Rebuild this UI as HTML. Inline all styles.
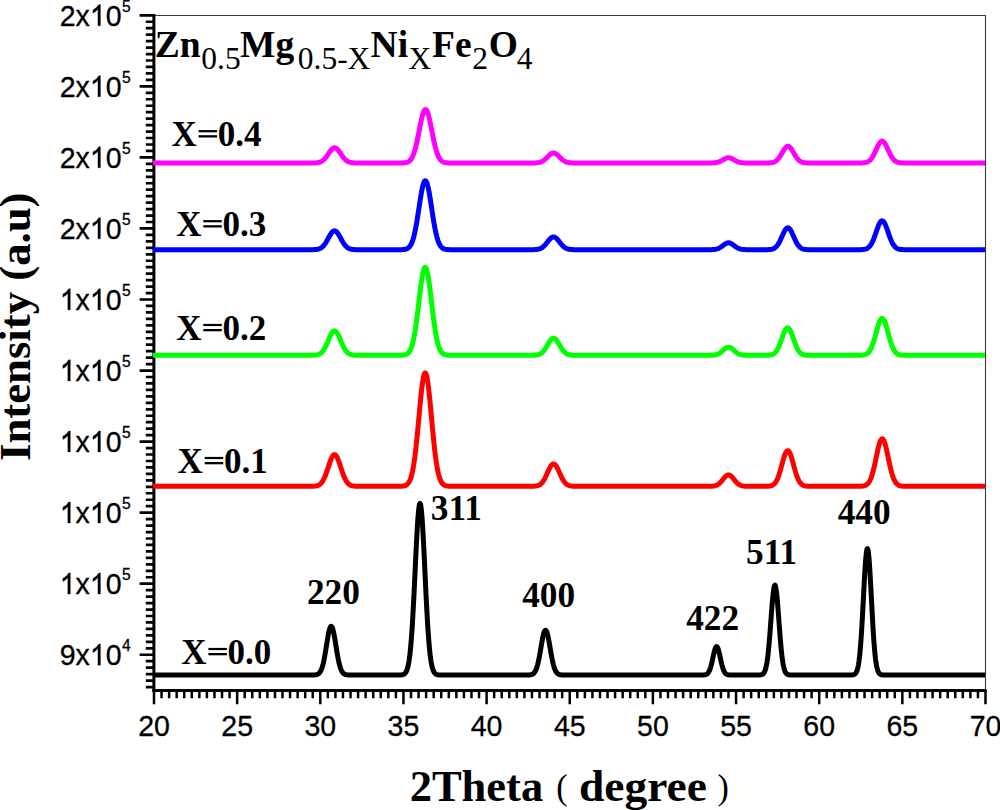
<!DOCTYPE html>
<html><head><meta charset="utf-8"><title>XRD</title><style>html,body{margin:0;padding:0;background:#fff;overflow:hidden}svg{display:block}</style></head><body>
<svg width="1000" height="810" viewBox="0 0 1000 810">
<rect width="1000" height="810" fill="#fff"/>
<path d="M154,15.5 H985.5 V690" fill="none" stroke="#3a3a3a" stroke-width="1.1"/>
<path d="M139.6,15.30H154 M145.8,21.76H154 M145.8,28.22H154 M145.8,34.68H154 M145.8,41.14H154 M145.8,47.60H154 M145.8,54.05H154 M145.8,60.51H154 M145.8,66.97H154 M145.8,73.43H154 M145.8,79.89H154 M139.6,86.35H154 M145.8,92.81H154 M145.8,99.27H154 M145.8,105.73H154 M145.8,112.19H154 M145.8,118.65H154 M145.8,125.10H154 M145.8,131.56H154 M145.8,138.02H154 M145.8,144.48H154 M145.8,150.94H154 M139.6,157.40H154 M145.8,163.86H154 M145.8,170.32H154 M145.8,176.78H154 M145.8,183.24H154 M145.8,189.70H154 M145.8,196.15H154 M145.8,202.61H154 M145.8,209.07H154 M145.8,215.53H154 M145.8,221.99H154 M139.6,228.45H154 M145.8,234.91H154 M145.8,241.37H154 M145.8,247.83H154 M145.8,254.29H154 M145.8,260.75H154 M145.8,267.20H154 M145.8,273.66H154 M145.8,280.12H154 M145.8,286.58H154 M145.8,293.04H154 M139.6,299.50H154 M145.8,305.96H154 M145.8,312.42H154 M145.8,318.88H154 M145.8,325.34H154 M145.8,331.80H154 M145.8,338.25H154 M145.8,344.71H154 M145.8,351.17H154 M145.8,357.63H154 M145.8,364.09H154 M139.6,370.55H154 M145.8,377.01H154 M145.8,383.47H154 M145.8,389.93H154 M145.8,396.39H154 M145.8,402.85H154 M145.8,409.30H154 M145.8,415.76H154 M145.8,422.22H154 M145.8,428.68H154 M145.8,435.14H154 M139.6,441.60H154 M145.8,448.06H154 M145.8,454.52H154 M145.8,460.98H154 M145.8,467.44H154 M145.8,473.90H154 M145.8,480.35H154 M145.8,486.81H154 M145.8,493.27H154 M145.8,499.73H154 M145.8,506.19H154 M139.6,512.65H154 M145.8,519.11H154 M145.8,525.57H154 M145.8,532.03H154 M145.8,538.49H154 M145.8,544.95H154 M145.8,551.40H154 M145.8,557.86H154 M145.8,564.32H154 M145.8,570.78H154 M145.8,577.24H154 M139.6,583.70H154 M145.8,590.16H154 M145.8,596.62H154 M145.8,603.08H154 M145.8,609.54H154 M145.8,616.00H154 M145.8,622.45H154 M145.8,628.91H154 M145.8,635.37H154 M145.8,641.83H154 M145.8,648.29H154 M139.6,654.75H154 M145.8,661.21H154 M145.8,667.67H154 M145.8,674.13H154 M145.8,680.59H154 M145.8,687.05H154" stroke="#000" stroke-width="2.7" fill="none"/>
<path d="M154.00,690V704.3 M161.56,690V698.2 M169.12,690V698.2 M176.68,690V698.2 M184.24,690V698.2 M191.80,690V698.2 M199.35,690V698.2 M206.91,690V698.2 M214.47,690V698.2 M222.03,690V698.2 M229.59,690V698.2 M237.15,690V704.3 M244.71,690V698.2 M252.27,690V698.2 M259.83,690V698.2 M267.39,690V698.2 M274.95,690V698.2 M282.50,690V698.2 M290.06,690V698.2 M297.62,690V698.2 M305.18,690V698.2 M312.74,690V698.2 M320.30,690V704.3 M327.86,690V698.2 M335.42,690V698.2 M342.98,690V698.2 M350.54,690V698.2 M358.10,690V698.2 M365.65,690V698.2 M373.21,690V698.2 M380.77,690V698.2 M388.33,690V698.2 M395.89,690V698.2 M403.45,690V704.3 M411.01,690V698.2 M418.57,690V698.2 M426.13,690V698.2 M433.69,690V698.2 M441.25,690V698.2 M448.80,690V698.2 M456.36,690V698.2 M463.92,690V698.2 M471.48,690V698.2 M479.04,690V698.2 M486.60,690V704.3 M494.16,690V698.2 M501.72,690V698.2 M509.28,690V698.2 M516.84,690V698.2 M524.40,690V698.2 M531.95,690V698.2 M539.51,690V698.2 M547.07,690V698.2 M554.63,690V698.2 M562.19,690V698.2 M569.75,690V704.3 M577.31,690V698.2 M584.87,690V698.2 M592.43,690V698.2 M599.99,690V698.2 M607.55,690V698.2 M615.10,690V698.2 M622.66,690V698.2 M630.22,690V698.2 M637.78,690V698.2 M645.34,690V698.2 M652.90,690V704.3 M660.46,690V698.2 M668.02,690V698.2 M675.58,690V698.2 M683.14,690V698.2 M690.70,690V698.2 M698.25,690V698.2 M705.81,690V698.2 M713.37,690V698.2 M720.93,690V698.2 M728.49,690V698.2 M736.05,690V704.3 M743.61,690V698.2 M751.17,690V698.2 M758.73,690V698.2 M766.29,690V698.2 M773.85,690V698.2 M781.40,690V698.2 M788.96,690V698.2 M796.52,690V698.2 M804.08,690V698.2 M811.64,690V698.2 M819.20,690V704.3 M826.76,690V698.2 M834.32,690V698.2 M841.88,690V698.2 M849.44,690V698.2 M857.00,690V698.2 M864.55,690V698.2 M872.11,690V698.2 M879.67,690V698.2 M887.23,690V698.2 M894.79,690V698.2 M902.35,690V704.3 M909.91,690V698.2 M917.47,690V698.2 M925.03,690V698.2 M932.59,690V698.2 M940.15,690V698.2 M947.70,690V698.2 M955.26,690V698.2 M962.82,690V698.2 M970.38,690V698.2 M977.94,690V698.2 M985.50,690V704.3" stroke="#000" stroke-width="2.5" fill="none"/>
<rect x="152.4" y="14" width="3" height="678" fill="#000"/>
<rect x="152.4" y="689" width="834" height="3" fill="#000"/>
<g fill="none" stroke-width="5.00" stroke-linejoin="round" stroke-linecap="butt">
<path d="M153.0,675.00 L153.5,675.00 L154.0,675.00 L154.5,675.00 L155.0,675.00 L155.5,675.00 L156.0,675.00 L156.5,675.00 L157.0,675.00 L157.5,675.00 L158.0,675.00 L158.5,675.00 L159.0,675.00 L159.5,675.00 L160.0,675.00 L160.5,675.00 L161.0,675.00 L161.5,675.00 L162.0,675.00 L162.5,675.00 L163.0,675.00 L163.5,675.00 L164.0,675.00 L164.5,675.00 L165.0,675.00 L165.5,675.00 L166.0,675.00 L166.5,675.00 L167.0,675.00 L167.5,675.00 L168.0,675.00 L168.5,675.00 L169.0,675.00 L169.5,675.00 L170.0,675.00 L170.5,675.00 L171.0,675.00 L171.5,675.00 L172.0,675.00 L172.5,675.00 L173.0,675.00 L173.5,675.00 L174.0,675.00 L174.5,675.00 L175.0,675.00 L175.5,675.00 L176.0,675.00 L176.5,675.00 L177.0,675.00 L177.5,675.00 L178.0,675.00 L178.5,675.00 L179.0,675.00 L179.5,675.00 L180.0,675.00 L180.5,675.00 L181.0,675.00 L181.5,675.00 L182.0,675.00 L182.5,675.00 L183.0,675.00 L183.5,675.00 L184.0,675.00 L184.5,675.00 L185.0,675.00 L185.5,675.00 L186.0,675.00 L186.5,675.00 L187.0,675.00 L187.5,675.00 L188.0,675.00 L188.5,675.00 L189.0,675.00 L189.5,675.00 L190.0,675.00 L190.5,675.00 L191.0,675.00 L191.5,675.00 L192.0,675.00 L192.5,675.00 L193.0,675.00 L193.5,675.00 L194.0,675.00 L194.5,675.00 L195.0,675.00 L195.5,675.00 L196.0,675.00 L196.5,675.00 L197.0,675.00 L197.5,675.00 L198.0,675.00 L198.5,675.00 L199.0,675.00 L199.5,675.00 L200.0,675.00 L200.5,675.00 L201.0,675.00 L201.5,675.00 L202.0,675.00 L202.5,675.00 L203.0,675.00 L203.5,675.00 L204.0,675.00 L204.5,675.00 L205.0,675.00 L205.5,675.00 L206.0,675.00 L206.5,675.00 L207.0,675.00 L207.5,675.00 L208.0,675.00 L208.5,675.00 L209.0,675.00 L209.5,675.00 L210.0,675.00 L210.5,675.00 L211.0,675.00 L211.5,675.00 L212.0,675.00 L212.5,675.00 L213.0,675.00 L213.5,675.00 L214.0,675.00 L214.5,675.00 L215.0,675.00 L215.5,675.00 L216.0,675.00 L216.5,675.00 L217.0,675.00 L217.5,675.00 L218.0,675.00 L218.5,675.00 L219.0,675.00 L219.5,675.00 L220.0,675.00 L220.5,675.00 L221.0,675.00 L221.5,675.00 L222.0,675.00 L222.5,675.00 L223.0,675.00 L223.5,675.00 L224.0,675.00 L224.5,675.00 L225.0,675.00 L225.5,675.00 L226.0,675.00 L226.5,675.00 L227.0,675.00 L227.5,675.00 L228.0,675.00 L228.5,675.00 L229.0,675.00 L229.5,675.00 L230.0,675.00 L230.5,675.00 L231.0,675.00 L231.5,675.00 L232.0,675.00 L232.5,675.00 L233.0,675.00 L233.5,675.00 L234.0,675.00 L234.5,675.00 L235.0,675.00 L235.5,675.00 L236.0,675.00 L236.5,675.00 L237.0,675.00 L237.5,675.00 L238.0,675.00 L238.5,675.00 L239.0,675.00 L239.5,675.00 L240.0,675.00 L240.5,675.00 L241.0,675.00 L241.5,675.00 L242.0,675.00 L242.5,675.00 L243.0,675.00 L243.5,675.00 L244.0,675.00 L244.5,675.00 L245.0,675.00 L245.5,675.00 L246.0,675.00 L246.5,675.00 L247.0,675.00 L247.5,675.00 L248.0,675.00 L248.5,675.00 L249.0,675.00 L249.5,675.00 L250.0,675.00 L250.5,675.00 L251.0,675.00 L251.5,675.00 L252.0,675.00 L252.5,675.00 L253.0,675.00 L253.5,675.00 L254.0,675.00 L254.5,675.00 L255.0,675.00 L255.5,675.00 L256.0,675.00 L256.5,675.00 L257.0,675.00 L257.5,675.00 L258.0,675.00 L258.5,675.00 L259.0,675.00 L259.5,675.00 L260.0,675.00 L260.5,675.00 L261.0,675.00 L261.5,675.00 L262.0,675.00 L262.5,675.00 L263.0,675.00 L263.5,675.00 L264.0,675.00 L264.5,675.00 L265.0,675.00 L265.5,675.00 L266.0,675.00 L266.5,675.00 L267.0,675.00 L267.5,675.00 L268.0,675.00 L268.5,675.00 L269.0,675.00 L269.5,675.00 L270.0,675.00 L270.5,675.00 L271.0,675.00 L271.5,675.00 L272.0,675.00 L272.5,675.00 L273.0,675.00 L273.5,675.00 L274.0,675.00 L274.5,675.00 L275.0,675.00 L275.5,675.00 L276.0,675.00 L276.5,675.00 L277.0,675.00 L277.5,675.00 L278.0,675.00 L278.5,675.00 L279.0,675.00 L279.5,675.00 L280.0,675.00 L280.5,675.00 L281.0,675.00 L281.5,675.00 L282.0,675.00 L282.5,675.00 L283.0,675.00 L283.5,675.00 L284.0,675.00 L284.5,675.00 L285.0,675.00 L285.5,675.00 L286.0,675.00 L286.5,675.00 L287.0,675.00 L287.5,675.00 L288.0,675.00 L288.5,675.00 L289.0,675.00 L289.5,675.00 L290.0,675.00 L290.5,675.00 L291.0,675.00 L291.5,675.00 L292.0,675.00 L292.5,675.00 L293.0,675.00 L293.5,675.00 L294.0,675.00 L294.5,675.00 L295.0,675.00 L295.5,675.00 L296.0,675.00 L296.5,675.00 L297.0,675.00 L297.5,675.00 L298.0,675.00 L298.5,675.00 L299.0,675.00 L299.5,675.00 L300.0,675.00 L300.5,675.00 L301.0,675.00 L301.5,675.00 L302.0,675.00 L302.5,675.00 L303.0,675.00 L303.5,675.00 L304.0,675.00 L304.5,675.00 L305.0,675.00 L305.5,675.00 L306.0,675.00 L306.5,675.00 L307.0,675.00 L307.5,675.00 L308.0,675.00 L308.5,675.00 L309.0,675.00 L309.5,675.00 L310.0,675.00 L310.5,675.00 L311.0,675.00 L311.5,674.99 L312.0,674.99 L312.5,674.98 L313.0,674.97 L313.5,674.96 L314.0,674.94 L314.5,674.91 L315.0,674.87 L315.5,674.82 L316.0,674.74 L316.5,674.63 L317.0,674.49 L317.5,674.30 L318.0,674.06 L318.5,673.74 L319.0,673.32 L319.5,672.80 L320.0,672.15 L320.5,671.35 L321.0,670.38 L321.5,669.21 L322.0,667.83 L322.5,666.22 L323.0,664.37 L323.5,662.27 L324.0,659.94 L324.5,657.37 L325.0,654.60 L325.5,651.66 L326.0,648.59 L326.5,645.46 L327.0,642.33 L327.5,639.28 L328.0,636.37 L328.5,633.71 L329.0,631.35 L329.5,629.38 L330.0,627.86 L330.5,626.84 L331.0,626.34 L331.5,626.40 L332.0,627.00 L332.5,628.13 L333.0,629.74 L333.5,631.80 L334.0,634.22 L334.5,636.94 L335.0,639.88 L335.5,642.95 L336.0,646.09 L336.5,649.21 L337.0,652.26 L337.5,655.17 L338.0,657.90 L338.5,660.42 L339.0,662.71 L339.5,664.76 L340.0,666.56 L340.5,668.12 L341.0,669.46 L341.5,670.59 L342.0,671.53 L342.5,672.29 L343.0,672.92 L343.5,673.41 L344.0,673.81 L344.5,674.11 L345.0,674.35 L345.5,674.52 L346.0,674.66 L346.5,674.76 L347.0,674.83 L347.5,674.88 L348.0,674.92 L348.5,674.94 L349.0,674.96 L349.5,674.98 L350.0,674.98 L350.5,674.99 L351.0,674.99 L351.5,675.00 L352.0,675.00 L352.5,675.00 L353.0,675.00 L353.5,675.00 L354.0,675.00 L354.5,675.00 L355.0,675.00 L355.5,675.00 L356.0,675.00 L356.5,675.00 L357.0,675.00 L357.5,675.00 L358.0,675.00 L358.5,675.00 L359.0,675.00 L359.5,675.00 L360.0,675.00 L360.5,675.00 L361.0,675.00 L361.5,675.00 L362.0,675.00 L362.5,675.00 L363.0,675.00 L363.5,675.00 L364.0,675.00 L364.5,675.00 L365.0,675.00 L365.5,675.00 L366.0,675.00 L366.5,675.00 L367.0,675.00 L367.5,675.00 L368.0,675.00 L368.5,675.00 L369.0,675.00 L369.5,675.00 L370.0,675.00 L370.5,675.00 L371.0,675.00 L371.5,675.00 L372.0,675.00 L372.5,675.00 L373.0,675.00 L373.5,675.00 L374.0,675.00 L374.5,675.00 L375.0,675.00 L375.5,675.00 L376.0,675.00 L376.5,675.00 L377.0,675.00 L377.5,675.00 L378.0,675.00 L378.5,675.00 L379.0,675.00 L379.5,675.00 L380.0,675.00 L380.5,675.00 L381.0,675.00 L381.5,675.00 L382.0,675.00 L382.5,675.00 L383.0,675.00 L383.5,675.00 L384.0,675.00 L384.5,675.00 L385.0,675.00 L385.5,675.00 L386.0,675.00 L386.5,675.00 L387.0,675.00 L387.5,675.00 L388.0,675.00 L388.5,675.00 L389.0,675.00 L389.5,675.00 L390.0,675.00 L390.5,675.00 L391.0,675.00 L391.5,675.00 L392.0,675.00 L392.5,675.00 L393.0,675.00 L393.5,675.00 L394.0,675.00 L394.5,675.00 L395.0,675.00 L395.5,675.00 L396.0,675.00 L396.5,675.00 L397.0,675.00 L397.5,675.00 L398.0,674.99 L398.5,674.99 L399.0,674.98 L399.5,674.97 L400.0,674.96 L400.5,674.94 L401.0,674.91 L401.5,674.86 L402.0,674.80 L402.5,674.71 L403.0,674.58 L403.5,674.41 L404.0,674.17 L404.5,673.85 L405.0,673.42 L405.5,672.85 L406.0,672.10 L406.5,671.14 L407.0,669.92 L407.5,668.37 L408.0,666.45 L408.5,664.07 L409.0,661.19 L409.5,657.73 L410.0,653.61 L410.5,648.80 L411.0,643.23 L411.5,636.89 L412.0,629.74 L412.5,621.81 L413.0,613.15 L413.5,603.81 L414.0,593.92 L414.5,583.60 L415.0,573.04 L415.5,562.44 L416.0,552.03 L416.5,542.04 L417.0,532.73 L417.5,524.34 L418.0,517.11 L418.5,511.25 L419.0,506.94 L419.5,504.29 L420.0,503.40 L420.5,504.29 L421.0,506.94 L421.5,511.25 L422.0,517.11 L422.5,524.34 L423.0,532.73 L423.5,542.04 L424.0,552.03 L424.5,562.44 L425.0,573.04 L425.5,583.60 L426.0,593.92 L426.5,603.81 L427.0,613.15 L427.5,621.81 L428.0,629.74 L428.5,636.89 L429.0,643.23 L429.5,648.80 L430.0,653.61 L430.5,657.73 L431.0,661.19 L431.5,664.07 L432.0,666.45 L432.5,668.37 L433.0,669.92 L433.5,671.14 L434.0,672.10 L434.5,672.85 L435.0,673.42 L435.5,673.85 L436.0,674.17 L436.5,674.41 L437.0,674.58 L437.5,674.71 L438.0,674.80 L438.5,674.86 L439.0,674.91 L439.5,674.94 L440.0,674.96 L440.5,674.97 L441.0,674.98 L441.5,674.99 L442.0,674.99 L442.5,675.00 L443.0,675.00 L443.5,675.00 L444.0,675.00 L444.5,675.00 L445.0,675.00 L445.5,675.00 L446.0,675.00 L446.5,675.00 L447.0,675.00 L447.5,675.00 L448.0,675.00 L448.5,675.00 L449.0,675.00 L449.5,675.00 L450.0,675.00 L450.5,675.00 L451.0,675.00 L451.5,675.00 L452.0,675.00 L452.5,675.00 L453.0,675.00 L453.5,675.00 L454.0,675.00 L454.5,675.00 L455.0,675.00 L455.5,675.00 L456.0,675.00 L456.5,675.00 L457.0,675.00 L457.5,675.00 L458.0,675.00 L458.5,675.00 L459.0,675.00 L459.5,675.00 L460.0,675.00 L460.5,675.00 L461.0,675.00 L461.5,675.00 L462.0,675.00 L462.5,675.00 L463.0,675.00 L463.5,675.00 L464.0,675.00 L464.5,675.00 L465.0,675.00 L465.5,675.00 L466.0,675.00 L466.5,675.00 L467.0,675.00 L467.5,675.00 L468.0,675.00 L468.5,675.00 L469.0,675.00 L469.5,675.00 L470.0,675.00 L470.5,675.00 L471.0,675.00 L471.5,675.00 L472.0,675.00 L472.5,675.00 L473.0,675.00 L473.5,675.00 L474.0,675.00 L474.5,675.00 L475.0,675.00 L475.5,675.00 L476.0,675.00 L476.5,675.00 L477.0,675.00 L477.5,675.00 L478.0,675.00 L478.5,675.00 L479.0,675.00 L479.5,675.00 L480.0,675.00 L480.5,675.00 L481.0,675.00 L481.5,675.00 L482.0,675.00 L482.5,675.00 L483.0,675.00 L483.5,675.00 L484.0,675.00 L484.5,675.00 L485.0,675.00 L485.5,675.00 L486.0,675.00 L486.5,675.00 L487.0,675.00 L487.5,675.00 L488.0,675.00 L488.5,675.00 L489.0,675.00 L489.5,675.00 L490.0,675.00 L490.5,675.00 L491.0,675.00 L491.5,675.00 L492.0,675.00 L492.5,675.00 L493.0,675.00 L493.5,675.00 L494.0,675.00 L494.5,675.00 L495.0,675.00 L495.5,675.00 L496.0,675.00 L496.5,675.00 L497.0,675.00 L497.5,675.00 L498.0,675.00 L498.5,675.00 L499.0,675.00 L499.5,675.00 L500.0,675.00 L500.5,675.00 L501.0,675.00 L501.5,675.00 L502.0,675.00 L502.5,675.00 L503.0,675.00 L503.5,675.00 L504.0,675.00 L504.5,675.00 L505.0,675.00 L505.5,675.00 L506.0,675.00 L506.5,675.00 L507.0,675.00 L507.5,675.00 L508.0,675.00 L508.5,675.00 L509.0,675.00 L509.5,675.00 L510.0,675.00 L510.5,675.00 L511.0,675.00 L511.5,675.00 L512.0,675.00 L512.5,675.00 L513.0,675.00 L513.5,675.00 L514.0,675.00 L514.5,675.00 L515.0,675.00 L515.5,675.00 L516.0,675.00 L516.5,675.00 L517.0,675.00 L517.5,675.00 L518.0,675.00 L518.5,675.00 L519.0,675.00 L519.5,675.00 L520.0,675.00 L520.5,675.00 L521.0,675.00 L521.5,675.00 L522.0,675.00 L522.5,675.00 L523.0,675.00 L523.5,675.00 L524.0,675.00 L524.5,675.00 L525.0,675.00 L525.5,675.00 L526.0,674.99 L526.5,674.99 L527.0,674.99 L527.5,674.98 L528.0,674.97 L528.5,674.95 L529.0,674.93 L529.5,674.89 L530.0,674.85 L530.5,674.78 L531.0,674.69 L531.5,674.56 L532.0,674.40 L532.5,674.17 L533.0,673.88 L533.5,673.51 L534.0,673.03 L534.5,672.43 L535.0,671.69 L535.5,670.78 L536.0,669.69 L536.5,668.39 L537.0,666.87 L537.5,665.13 L538.0,663.14 L538.5,660.93 L539.0,658.49 L539.5,655.86 L540.0,653.08 L540.5,650.18 L541.0,647.24 L541.5,644.30 L542.0,641.46 L542.5,638.78 L543.0,636.35 L543.5,634.24 L544.0,632.52 L544.5,631.25 L545.0,630.46 L545.5,630.20 L546.0,630.46 L546.5,631.25 L547.0,632.52 L547.5,634.24 L548.0,636.35 L548.5,638.78 L549.0,641.46 L549.5,644.30 L550.0,647.24 L550.5,650.18 L551.0,653.08 L551.5,655.86 L552.0,658.49 L552.5,660.93 L553.0,663.14 L553.5,665.13 L554.0,666.87 L554.5,668.39 L555.0,669.69 L555.5,670.78 L556.0,671.69 L556.5,672.43 L557.0,673.03 L557.5,673.51 L558.0,673.88 L558.5,674.17 L559.0,674.40 L559.5,674.56 L560.0,674.69 L560.5,674.78 L561.0,674.85 L561.5,674.89 L562.0,674.93 L562.5,674.95 L563.0,674.97 L563.5,674.98 L564.0,674.99 L564.5,674.99 L565.0,674.99 L565.5,675.00 L566.0,675.00 L566.5,675.00 L567.0,675.00 L567.5,675.00 L568.0,675.00 L568.5,675.00 L569.0,675.00 L569.5,675.00 L570.0,675.00 L570.5,675.00 L571.0,675.00 L571.5,675.00 L572.0,675.00 L572.5,675.00 L573.0,675.00 L573.5,675.00 L574.0,675.00 L574.5,675.00 L575.0,675.00 L575.5,675.00 L576.0,675.00 L576.5,675.00 L577.0,675.00 L577.5,675.00 L578.0,675.00 L578.5,675.00 L579.0,675.00 L579.5,675.00 L580.0,675.00 L580.5,675.00 L581.0,675.00 L581.5,675.00 L582.0,675.00 L582.5,675.00 L583.0,675.00 L583.5,675.00 L584.0,675.00 L584.5,675.00 L585.0,675.00 L585.5,675.00 L586.0,675.00 L586.5,675.00 L587.0,675.00 L587.5,675.00 L588.0,675.00 L588.5,675.00 L589.0,675.00 L589.5,675.00 L590.0,675.00 L590.5,675.00 L591.0,675.00 L591.5,675.00 L592.0,675.00 L592.5,675.00 L593.0,675.00 L593.5,675.00 L594.0,675.00 L594.5,675.00 L595.0,675.00 L595.5,675.00 L596.0,675.00 L596.5,675.00 L597.0,675.00 L597.5,675.00 L598.0,675.00 L598.5,675.00 L599.0,675.00 L599.5,675.00 L600.0,675.00 L600.5,675.00 L601.0,675.00 L601.5,675.00 L602.0,675.00 L602.5,675.00 L603.0,675.00 L603.5,675.00 L604.0,675.00 L604.5,675.00 L605.0,675.00 L605.5,675.00 L606.0,675.00 L606.5,675.00 L607.0,675.00 L607.5,675.00 L608.0,675.00 L608.5,675.00 L609.0,675.00 L609.5,675.00 L610.0,675.00 L610.5,675.00 L611.0,675.00 L611.5,675.00 L612.0,675.00 L612.5,675.00 L613.0,675.00 L613.5,675.00 L614.0,675.00 L614.5,675.00 L615.0,675.00 L615.5,675.00 L616.0,675.00 L616.5,675.00 L617.0,675.00 L617.5,675.00 L618.0,675.00 L618.5,675.00 L619.0,675.00 L619.5,675.00 L620.0,675.00 L620.5,675.00 L621.0,675.00 L621.5,675.00 L622.0,675.00 L622.5,675.00 L623.0,675.00 L623.5,675.00 L624.0,675.00 L624.5,675.00 L625.0,675.00 L625.5,675.00 L626.0,675.00 L626.5,675.00 L627.0,675.00 L627.5,675.00 L628.0,675.00 L628.5,675.00 L629.0,675.00 L629.5,675.00 L630.0,675.00 L630.5,675.00 L631.0,675.00 L631.5,675.00 L632.0,675.00 L632.5,675.00 L633.0,675.00 L633.5,675.00 L634.0,675.00 L634.5,675.00 L635.0,675.00 L635.5,675.00 L636.0,675.00 L636.5,675.00 L637.0,675.00 L637.5,675.00 L638.0,675.00 L638.5,675.00 L639.0,675.00 L639.5,675.00 L640.0,675.00 L640.5,675.00 L641.0,675.00 L641.5,675.00 L642.0,675.00 L642.5,675.00 L643.0,675.00 L643.5,675.00 L644.0,675.00 L644.5,675.00 L645.0,675.00 L645.5,675.00 L646.0,675.00 L646.5,675.00 L647.0,675.00 L647.5,675.00 L648.0,675.00 L648.5,675.00 L649.0,675.00 L649.5,675.00 L650.0,675.00 L650.5,675.00 L651.0,675.00 L651.5,675.00 L652.0,675.00 L652.5,675.00 L653.0,675.00 L653.5,675.00 L654.0,675.00 L654.5,675.00 L655.0,675.00 L655.5,675.00 L656.0,675.00 L656.5,675.00 L657.0,675.00 L657.5,675.00 L658.0,675.00 L658.5,675.00 L659.0,675.00 L659.5,675.00 L660.0,675.00 L660.5,675.00 L661.0,675.00 L661.5,675.00 L662.0,675.00 L662.5,675.00 L663.0,675.00 L663.5,675.00 L664.0,675.00 L664.5,675.00 L665.0,675.00 L665.5,675.00 L666.0,675.00 L666.5,675.00 L667.0,675.00 L667.5,675.00 L668.0,675.00 L668.5,675.00 L669.0,675.00 L669.5,675.00 L670.0,675.00 L670.5,675.00 L671.0,675.00 L671.5,675.00 L672.0,675.00 L672.5,675.00 L673.0,675.00 L673.5,675.00 L674.0,675.00 L674.5,675.00 L675.0,675.00 L675.5,675.00 L676.0,675.00 L676.5,675.00 L677.0,675.00 L677.5,675.00 L678.0,675.00 L678.5,675.00 L679.0,675.00 L679.5,675.00 L680.0,675.00 L680.5,675.00 L681.0,675.00 L681.5,675.00 L682.0,675.00 L682.5,675.00 L683.0,675.00 L683.5,675.00 L684.0,675.00 L684.5,675.00 L685.0,675.00 L685.5,675.00 L686.0,675.00 L686.5,675.00 L687.0,675.00 L687.5,675.00 L688.0,675.00 L688.5,675.00 L689.0,675.00 L689.5,675.00 L690.0,675.00 L690.5,675.00 L691.0,675.00 L691.5,675.00 L692.0,675.00 L692.5,675.00 L693.0,675.00 L693.5,675.00 L694.0,675.00 L694.5,675.00 L695.0,675.00 L695.5,675.00 L696.0,675.00 L696.5,675.00 L697.0,675.00 L697.5,675.00 L698.0,675.00 L698.5,675.00 L699.0,675.00 L699.5,675.00 L700.0,675.00 L700.5,675.00 L701.0,675.00 L701.5,674.99 L702.0,674.99 L702.5,674.98 L703.0,674.97 L703.5,674.95 L704.0,674.91 L704.5,674.86 L705.0,674.79 L705.5,674.68 L706.0,674.53 L706.5,674.32 L707.0,674.02 L707.5,673.62 L708.0,673.09 L708.5,672.41 L709.0,671.56 L709.5,670.49 L710.0,669.21 L710.5,667.70 L711.0,665.97 L711.5,664.02 L712.0,661.89 L712.5,659.63 L713.0,657.31 L713.5,655.01 L714.0,652.81 L714.5,650.82 L715.0,649.14 L715.5,647.83 L716.0,646.97 L716.5,646.61 L717.0,646.77 L717.5,647.43 L718.0,648.56 L718.5,650.11 L719.0,651.99 L719.5,654.11 L720.0,656.38 L720.5,658.70 L721.0,661.00 L721.5,663.18 L722.0,665.21 L722.5,667.04 L723.0,668.64 L723.5,670.01 L724.0,671.16 L724.5,672.09 L725.0,672.84 L725.5,673.43 L726.0,673.87 L726.5,674.21 L727.0,674.45 L727.5,674.63 L728.0,674.75 L728.5,674.84 L729.0,674.90 L729.5,674.93 L730.0,674.96 L730.5,674.98 L731.0,674.99 L731.5,674.99 L732.0,675.00 L732.5,675.00 L733.0,675.00 L733.5,675.00 L734.0,675.00 L734.5,675.00 L735.0,675.00 L735.5,675.00 L736.0,675.00 L736.5,675.00 L737.0,675.00 L737.5,675.00 L738.0,675.00 L738.5,675.00 L739.0,675.00 L739.5,675.00 L740.0,675.00 L740.5,675.00 L741.0,675.00 L741.5,675.00 L742.0,675.00 L742.5,675.00 L743.0,675.00 L743.5,675.00 L744.0,675.00 L744.5,675.00 L745.0,675.00 L745.5,675.00 L746.0,675.00 L746.5,675.00 L747.0,675.00 L747.5,675.00 L748.0,675.00 L748.5,675.00 L749.0,675.00 L749.5,675.00 L750.0,675.00 L750.5,675.00 L751.0,675.00 L751.5,675.00 L752.0,675.00 L752.5,675.00 L753.0,675.00 L753.5,675.00 L754.0,675.00 L754.5,675.00 L755.0,675.00 L755.5,675.00 L756.0,675.00 L756.5,675.00 L757.0,675.00 L757.5,674.99 L758.0,674.99 L758.5,674.98 L759.0,674.97 L759.5,674.95 L760.0,674.91 L760.5,674.86 L761.0,674.79 L761.5,674.67 L762.0,674.50 L762.5,674.26 L763.0,673.93 L763.5,673.45 L764.0,672.81 L764.5,671.94 L765.0,670.80 L765.5,669.32 L766.0,667.44 L766.5,665.10 L767.0,662.23 L767.5,658.78 L768.0,654.72 L768.5,650.03 L769.0,644.74 L769.5,638.90 L770.0,632.59 L770.5,625.96 L771.0,619.17 L771.5,612.43 L772.0,605.95 L772.5,599.99 L773.0,594.78 L773.5,590.54 L774.0,587.44 L774.5,585.65 L775.0,585.23 L775.5,586.20 L776.0,588.53 L776.5,592.10 L777.0,596.76 L777.5,602.30 L778.0,608.50 L778.5,615.11 L779.0,621.89 L779.5,628.64 L780.0,635.16 L780.5,641.30 L781.0,646.93 L781.5,651.98 L782.0,656.42 L782.5,660.23 L783.0,663.44 L783.5,666.10 L784.0,668.25 L784.5,669.96 L785.0,671.29 L785.5,672.32 L786.0,673.09 L786.5,673.66 L787.0,674.07 L787.5,674.37 L788.0,674.58 L788.5,674.72 L789.0,674.82 L789.5,674.89 L790.0,674.93 L790.5,674.96 L791.0,674.97 L791.5,674.98 L792.0,674.99 L792.5,674.99 L793.0,675.00 L793.5,675.00 L794.0,675.00 L794.5,675.00 L795.0,675.00 L795.5,675.00 L796.0,675.00 L796.5,675.00 L797.0,675.00 L797.5,675.00 L798.0,675.00 L798.5,675.00 L799.0,675.00 L799.5,675.00 L800.0,675.00 L800.5,675.00 L801.0,675.00 L801.5,675.00 L802.0,675.00 L802.5,675.00 L803.0,675.00 L803.5,675.00 L804.0,675.00 L804.5,675.00 L805.0,675.00 L805.5,675.00 L806.0,675.00 L806.5,675.00 L807.0,675.00 L807.5,675.00 L808.0,675.00 L808.5,675.00 L809.0,675.00 L809.5,675.00 L810.0,675.00 L810.5,675.00 L811.0,675.00 L811.5,675.00 L812.0,675.00 L812.5,675.00 L813.0,675.00 L813.5,675.00 L814.0,675.00 L814.5,675.00 L815.0,675.00 L815.5,675.00 L816.0,675.00 L816.5,675.00 L817.0,675.00 L817.5,675.00 L818.0,675.00 L818.5,675.00 L819.0,675.00 L819.5,675.00 L820.0,675.00 L820.5,675.00 L821.0,675.00 L821.5,675.00 L822.0,675.00 L822.5,675.00 L823.0,675.00 L823.5,675.00 L824.0,675.00 L824.5,675.00 L825.0,675.00 L825.5,675.00 L826.0,675.00 L826.5,675.00 L827.0,675.00 L827.5,675.00 L828.0,675.00 L828.5,675.00 L829.0,675.00 L829.5,675.00 L830.0,675.00 L830.5,675.00 L831.0,675.00 L831.5,675.00 L832.0,675.00 L832.5,675.00 L833.0,675.00 L833.5,675.00 L834.0,675.00 L834.5,675.00 L835.0,675.00 L835.5,675.00 L836.0,675.00 L836.5,675.00 L837.0,675.00 L837.5,675.00 L838.0,675.00 L838.5,675.00 L839.0,675.00 L839.5,675.00 L840.0,675.00 L840.5,675.00 L841.0,675.00 L841.5,675.00 L842.0,675.00 L842.5,675.00 L843.0,675.00 L843.5,675.00 L844.0,675.00 L844.5,675.00 L845.0,675.00 L845.5,675.00 L846.0,675.00 L846.5,675.00 L847.0,675.00 L847.5,675.00 L848.0,675.00 L848.5,675.00 L849.0,675.00 L849.5,674.99 L850.0,674.99 L850.5,674.98 L851.0,674.97 L851.5,674.95 L852.0,674.92 L852.5,674.88 L853.0,674.81 L853.5,674.70 L854.0,674.54 L854.5,674.30 L855.0,673.96 L855.5,673.49 L856.0,672.82 L856.5,671.91 L857.0,670.69 L857.5,669.09 L858.0,667.00 L858.5,664.36 L859.0,661.05 L859.5,657.01 L860.0,652.15 L860.5,646.43 L861.0,639.83 L861.5,632.38 L862.0,624.14 L862.5,615.26 L863.0,605.92 L863.5,596.36 L864.0,586.85 L864.5,577.74 L865.0,569.34 L865.5,562.00 L866.0,556.02 L866.5,551.66 L867.0,549.13 L867.5,548.54 L868.0,549.92 L868.5,553.19 L869.0,558.23 L869.5,564.79 L870.0,572.59 L870.5,581.32 L871.0,590.63 L871.5,600.19 L872.0,609.70 L872.5,618.88 L873.0,627.52 L873.5,635.46 L874.0,642.57 L874.5,648.82 L875.0,654.19 L875.5,658.72 L876.0,662.46 L876.5,665.49 L877.0,667.90 L877.5,669.78 L878.0,671.22 L878.5,672.31 L879.0,673.11 L879.5,673.70 L880.0,674.11 L880.5,674.41 L881.0,674.61 L881.5,674.75 L882.0,674.84 L882.5,674.90 L883.0,674.94 L883.5,674.96 L884.0,674.98 L884.5,674.99 L885.0,674.99 L885.5,675.00 L886.0,675.00 L886.5,675.00 L887.0,675.00 L887.5,675.00 L888.0,675.00 L888.5,675.00 L889.0,675.00 L889.5,675.00 L890.0,675.00 L890.5,675.00 L891.0,675.00 L891.5,675.00 L892.0,675.00 L892.5,675.00 L893.0,675.00 L893.5,675.00 L894.0,675.00 L894.5,675.00 L895.0,675.00 L895.5,675.00 L896.0,675.00 L896.5,675.00 L897.0,675.00 L897.5,675.00 L898.0,675.00 L898.5,675.00 L899.0,675.00 L899.5,675.00 L900.0,675.00 L900.5,675.00 L901.0,675.00 L901.5,675.00 L902.0,675.00 L902.5,675.00 L903.0,675.00 L903.5,675.00 L904.0,675.00 L904.5,675.00 L905.0,675.00 L905.5,675.00 L906.0,675.00 L906.5,675.00 L907.0,675.00 L907.5,675.00 L908.0,675.00 L908.5,675.00 L909.0,675.00 L909.5,675.00 L910.0,675.00 L910.5,675.00 L911.0,675.00 L911.5,675.00 L912.0,675.00 L912.5,675.00 L913.0,675.00 L913.5,675.00 L914.0,675.00 L914.5,675.00 L915.0,675.00 L915.5,675.00 L916.0,675.00 L916.5,675.00 L917.0,675.00 L917.5,675.00 L918.0,675.00 L918.5,675.00 L919.0,675.00 L919.5,675.00 L920.0,675.00 L920.5,675.00 L921.0,675.00 L921.5,675.00 L922.0,675.00 L922.5,675.00 L923.0,675.00 L923.5,675.00 L924.0,675.00 L924.5,675.00 L925.0,675.00 L925.5,675.00 L926.0,675.00 L926.5,675.00 L927.0,675.00 L927.5,675.00 L928.0,675.00 L928.5,675.00 L929.0,675.00 L929.5,675.00 L930.0,675.00 L930.5,675.00 L931.0,675.00 L931.5,675.00 L932.0,675.00 L932.5,675.00 L933.0,675.00 L933.5,675.00 L934.0,675.00 L934.5,675.00 L935.0,675.00 L935.5,675.00 L936.0,675.00 L936.5,675.00 L937.0,675.00 L937.5,675.00 L938.0,675.00 L938.5,675.00 L939.0,675.00 L939.5,675.00 L940.0,675.00 L940.5,675.00 L941.0,675.00 L941.5,675.00 L942.0,675.00 L942.5,675.00 L943.0,675.00 L943.5,675.00 L944.0,675.00 L944.5,675.00 L945.0,675.00 L945.5,675.00 L946.0,675.00 L946.5,675.00 L947.0,675.00 L947.5,675.00 L948.0,675.00 L948.5,675.00 L949.0,675.00 L949.5,675.00 L950.0,675.00 L950.5,675.00 L951.0,675.00 L951.5,675.00 L952.0,675.00 L952.5,675.00 L953.0,675.00 L953.5,675.00 L954.0,675.00 L954.5,675.00 L955.0,675.00 L955.5,675.00 L956.0,675.00 L956.5,675.00 L957.0,675.00 L957.5,675.00 L958.0,675.00 L958.5,675.00 L959.0,675.00 L959.5,675.00 L960.0,675.00 L960.5,675.00 L961.0,675.00 L961.5,675.00 L962.0,675.00 L962.5,675.00 L963.0,675.00 L963.5,675.00 L964.0,675.00 L964.5,675.00 L965.0,675.00 L965.5,675.00 L966.0,675.00 L966.5,675.00 L967.0,675.00 L967.5,675.00 L968.0,675.00 L968.5,675.00 L969.0,675.00 L969.5,675.00 L970.0,675.00 L970.5,675.00 L971.0,675.00 L971.5,675.00 L972.0,675.00 L972.5,675.00 L973.0,675.00 L973.5,675.00 L974.0,675.00 L974.5,675.00 L975.0,675.00 L975.5,675.00 L976.0,675.00 L976.5,675.00 L977.0,675.00 L977.5,675.00 L978.0,675.00 L978.5,675.00 L979.0,675.00 L979.5,675.00 L980.0,675.00 L980.5,675.00 L981.0,675.00 L981.5,675.00 L982.0,675.00 L982.5,675.00 L983.0,675.00 L983.5,675.00 L984.0,675.00 L984.5,675.00 L985.0,675.00" stroke="#000000"/>
<path d="M153.0,486.30 L153.5,486.30 L154.0,486.30 L154.5,486.30 L155.0,486.30 L155.5,486.30 L156.0,486.30 L156.5,486.30 L157.0,486.30 L157.5,486.30 L158.0,486.30 L158.5,486.30 L159.0,486.30 L159.5,486.30 L160.0,486.30 L160.5,486.30 L161.0,486.30 L161.5,486.30 L162.0,486.30 L162.5,486.30 L163.0,486.30 L163.5,486.30 L164.0,486.30 L164.5,486.30 L165.0,486.30 L165.5,486.30 L166.0,486.30 L166.5,486.30 L167.0,486.30 L167.5,486.30 L168.0,486.30 L168.5,486.30 L169.0,486.30 L169.5,486.30 L170.0,486.30 L170.5,486.30 L171.0,486.30 L171.5,486.30 L172.0,486.30 L172.5,486.30 L173.0,486.30 L173.5,486.30 L174.0,486.30 L174.5,486.30 L175.0,486.30 L175.5,486.30 L176.0,486.30 L176.5,486.30 L177.0,486.30 L177.5,486.30 L178.0,486.30 L178.5,486.30 L179.0,486.30 L179.5,486.30 L180.0,486.30 L180.5,486.30 L181.0,486.30 L181.5,486.30 L182.0,486.30 L182.5,486.30 L183.0,486.30 L183.5,486.30 L184.0,486.30 L184.5,486.30 L185.0,486.30 L185.5,486.30 L186.0,486.30 L186.5,486.30 L187.0,486.30 L187.5,486.30 L188.0,486.30 L188.5,486.30 L189.0,486.30 L189.5,486.30 L190.0,486.30 L190.5,486.30 L191.0,486.30 L191.5,486.30 L192.0,486.30 L192.5,486.30 L193.0,486.30 L193.5,486.30 L194.0,486.30 L194.5,486.30 L195.0,486.30 L195.5,486.30 L196.0,486.30 L196.5,486.30 L197.0,486.30 L197.5,486.30 L198.0,486.30 L198.5,486.30 L199.0,486.30 L199.5,486.30 L200.0,486.30 L200.5,486.30 L201.0,486.30 L201.5,486.30 L202.0,486.30 L202.5,486.30 L203.0,486.30 L203.5,486.30 L204.0,486.30 L204.5,486.30 L205.0,486.30 L205.5,486.30 L206.0,486.30 L206.5,486.30 L207.0,486.30 L207.5,486.30 L208.0,486.30 L208.5,486.30 L209.0,486.30 L209.5,486.30 L210.0,486.30 L210.5,486.30 L211.0,486.30 L211.5,486.30 L212.0,486.30 L212.5,486.30 L213.0,486.30 L213.5,486.30 L214.0,486.30 L214.5,486.30 L215.0,486.30 L215.5,486.30 L216.0,486.30 L216.5,486.30 L217.0,486.30 L217.5,486.30 L218.0,486.30 L218.5,486.30 L219.0,486.30 L219.5,486.30 L220.0,486.30 L220.5,486.30 L221.0,486.30 L221.5,486.30 L222.0,486.30 L222.5,486.30 L223.0,486.30 L223.5,486.30 L224.0,486.30 L224.5,486.30 L225.0,486.30 L225.5,486.30 L226.0,486.30 L226.5,486.30 L227.0,486.30 L227.5,486.30 L228.0,486.30 L228.5,486.30 L229.0,486.30 L229.5,486.30 L230.0,486.30 L230.5,486.30 L231.0,486.30 L231.5,486.30 L232.0,486.30 L232.5,486.30 L233.0,486.30 L233.5,486.30 L234.0,486.30 L234.5,486.30 L235.0,486.30 L235.5,486.30 L236.0,486.30 L236.5,486.30 L237.0,486.30 L237.5,486.30 L238.0,486.30 L238.5,486.30 L239.0,486.30 L239.5,486.30 L240.0,486.30 L240.5,486.30 L241.0,486.30 L241.5,486.30 L242.0,486.30 L242.5,486.30 L243.0,486.30 L243.5,486.30 L244.0,486.30 L244.5,486.30 L245.0,486.30 L245.5,486.30 L246.0,486.30 L246.5,486.30 L247.0,486.30 L247.5,486.30 L248.0,486.30 L248.5,486.30 L249.0,486.30 L249.5,486.30 L250.0,486.30 L250.5,486.30 L251.0,486.30 L251.5,486.30 L252.0,486.30 L252.5,486.30 L253.0,486.30 L253.5,486.30 L254.0,486.30 L254.5,486.30 L255.0,486.30 L255.5,486.30 L256.0,486.30 L256.5,486.30 L257.0,486.30 L257.5,486.30 L258.0,486.30 L258.5,486.30 L259.0,486.30 L259.5,486.30 L260.0,486.30 L260.5,486.30 L261.0,486.30 L261.5,486.30 L262.0,486.30 L262.5,486.30 L263.0,486.30 L263.5,486.30 L264.0,486.30 L264.5,486.30 L265.0,486.30 L265.5,486.30 L266.0,486.30 L266.5,486.30 L267.0,486.30 L267.5,486.30 L268.0,486.30 L268.5,486.30 L269.0,486.30 L269.5,486.30 L270.0,486.30 L270.5,486.30 L271.0,486.30 L271.5,486.30 L272.0,486.30 L272.5,486.30 L273.0,486.30 L273.5,486.30 L274.0,486.30 L274.5,486.30 L275.0,486.30 L275.5,486.30 L276.0,486.30 L276.5,486.30 L277.0,486.30 L277.5,486.30 L278.0,486.30 L278.5,486.30 L279.0,486.30 L279.5,486.30 L280.0,486.30 L280.5,486.30 L281.0,486.30 L281.5,486.30 L282.0,486.30 L282.5,486.30 L283.0,486.30 L283.5,486.30 L284.0,486.30 L284.5,486.30 L285.0,486.30 L285.5,486.30 L286.0,486.30 L286.5,486.30 L287.0,486.30 L287.5,486.30 L288.0,486.30 L288.5,486.30 L289.0,486.30 L289.5,486.30 L290.0,486.30 L290.5,486.30 L291.0,486.30 L291.5,486.30 L292.0,486.30 L292.5,486.30 L293.0,486.30 L293.5,486.30 L294.0,486.30 L294.5,486.30 L295.0,486.30 L295.5,486.30 L296.0,486.30 L296.5,486.30 L297.0,486.30 L297.5,486.30 L298.0,486.30 L298.5,486.30 L299.0,486.30 L299.5,486.30 L300.0,486.30 L300.5,486.30 L301.0,486.30 L301.5,486.30 L302.0,486.30 L302.5,486.30 L303.0,486.30 L303.5,486.30 L304.0,486.30 L304.5,486.30 L305.0,486.30 L305.5,486.30 L306.0,486.30 L306.5,486.30 L307.0,486.30 L307.5,486.30 L308.0,486.30 L308.5,486.30 L309.0,486.29 L309.5,486.29 L310.0,486.29 L310.5,486.28 L311.0,486.28 L311.5,486.27 L312.0,486.26 L312.5,486.24 L313.0,486.22 L313.5,486.20 L314.0,486.17 L314.5,486.13 L315.0,486.07 L315.5,486.01 L316.0,485.93 L316.5,485.83 L317.0,485.71 L317.5,485.56 L318.0,485.38 L318.5,485.17 L319.0,484.91 L319.5,484.60 L320.0,484.24 L320.5,483.82 L321.0,483.34 L321.5,482.78 L322.0,482.15 L322.5,481.43 L323.0,480.62 L323.5,479.73 L324.0,478.74 L324.5,477.67 L325.0,476.50 L325.5,475.25 L326.0,473.91 L326.5,472.51 L327.0,471.05 L327.5,469.54 L328.0,468.00 L328.5,466.45 L329.0,464.91 L329.5,463.40 L330.0,461.94 L330.5,460.56 L331.0,459.27 L331.5,458.10 L332.0,457.08 L332.5,456.21 L333.0,455.51 L333.5,455.01 L334.0,454.70 L334.5,454.60 L335.0,454.70 L335.5,455.01 L336.0,455.51 L336.5,456.21 L337.0,457.08 L337.5,458.10 L338.0,459.27 L338.5,460.56 L339.0,461.94 L339.5,463.40 L340.0,464.91 L340.5,466.45 L341.0,468.00 L341.5,469.54 L342.0,471.05 L342.5,472.51 L343.0,473.91 L343.5,475.25 L344.0,476.50 L344.5,477.67 L345.0,478.74 L345.5,479.73 L346.0,480.62 L346.5,481.43 L347.0,482.15 L347.5,482.78 L348.0,483.34 L348.5,483.82 L349.0,484.24 L349.5,484.60 L350.0,484.91 L350.5,485.17 L351.0,485.38 L351.5,485.56 L352.0,485.71 L352.5,485.83 L353.0,485.93 L353.5,486.01 L354.0,486.07 L354.5,486.13 L355.0,486.17 L355.5,486.20 L356.0,486.22 L356.5,486.24 L357.0,486.26 L357.5,486.27 L358.0,486.28 L358.5,486.28 L359.0,486.29 L359.5,486.29 L360.0,486.29 L360.5,486.30 L361.0,486.30 L361.5,486.30 L362.0,486.30 L362.5,486.30 L363.0,486.30 L363.5,486.30 L364.0,486.30 L364.5,486.30 L365.0,486.30 L365.5,486.30 L366.0,486.30 L366.5,486.30 L367.0,486.30 L367.5,486.30 L368.0,486.30 L368.5,486.30 L369.0,486.30 L369.5,486.30 L370.0,486.30 L370.5,486.30 L371.0,486.30 L371.5,486.30 L372.0,486.30 L372.5,486.30 L373.0,486.30 L373.5,486.30 L374.0,486.30 L374.5,486.30 L375.0,486.30 L375.5,486.30 L376.0,486.30 L376.5,486.30 L377.0,486.30 L377.5,486.30 L378.0,486.30 L378.5,486.30 L379.0,486.30 L379.5,486.30 L380.0,486.30 L380.5,486.30 L381.0,486.30 L381.5,486.30 L382.0,486.30 L382.5,486.30 L383.0,486.30 L383.5,486.30 L384.0,486.30 L384.5,486.30 L385.0,486.30 L385.5,486.30 L386.0,486.30 L386.5,486.30 L387.0,486.30 L387.5,486.30 L388.0,486.30 L388.5,486.30 L389.0,486.30 L389.5,486.30 L390.0,486.30 L390.5,486.30 L391.0,486.30 L391.5,486.30 L392.0,486.30 L392.5,486.30 L393.0,486.30 L393.5,486.30 L394.0,486.30 L394.5,486.30 L395.0,486.30 L395.5,486.30 L396.0,486.30 L396.5,486.30 L397.0,486.29 L397.5,486.29 L398.0,486.29 L398.5,486.29 L399.0,486.28 L399.5,486.27 L400.0,486.26 L400.5,486.25 L401.0,486.23 L401.5,486.20 L402.0,486.17 L402.5,486.13 L403.0,486.07 L403.5,486.00 L404.0,485.91 L404.5,485.79 L405.0,485.64 L405.5,485.45 L406.0,485.21 L406.5,484.92 L407.0,484.55 L407.5,484.11 L408.0,483.57 L408.5,482.92 L409.0,482.14 L409.5,481.22 L410.0,480.13 L410.5,478.85 L411.0,477.36 L411.5,475.64 L412.0,473.67 L412.5,471.43 L413.0,468.91 L413.5,466.08 L414.0,462.95 L414.5,459.49 L415.0,455.72 L415.5,451.64 L416.0,447.26 L416.5,442.60 L417.0,437.69 L417.5,432.57 L418.0,427.28 L418.5,421.88 L419.0,416.43 L419.5,410.99 L420.0,405.64 L420.5,400.45 L421.0,395.50 L421.5,390.86 L422.0,386.62 L422.5,382.85 L423.0,379.61 L423.5,376.95 L424.0,374.94 L424.5,373.60 L425.0,372.96 L425.5,373.03 L426.0,373.81 L426.5,375.29 L427.0,377.44 L427.5,380.21 L428.0,383.56 L428.5,387.44 L429.0,391.76 L429.5,396.46 L430.0,401.47 L430.5,406.70 L431.0,412.07 L431.5,417.52 L432.0,422.97 L432.5,428.35 L433.0,433.61 L433.5,438.69 L434.0,443.55 L434.5,448.16 L435.0,452.48 L435.5,456.50 L436.0,460.21 L436.5,463.60 L437.0,466.67 L437.5,469.44 L438.0,471.90 L438.5,474.09 L439.0,476.00 L439.5,477.67 L440.0,479.12 L440.5,480.36 L441.0,481.42 L441.5,482.31 L442.0,483.06 L442.5,483.69 L443.0,484.21 L443.5,484.63 L444.0,484.98 L444.5,485.26 L445.0,485.49 L445.5,485.67 L446.0,485.81 L446.5,485.93 L447.0,486.02 L447.5,486.08 L448.0,486.14 L448.5,486.18 L449.0,486.21 L449.5,486.23 L450.0,486.25 L450.5,486.26 L451.0,486.27 L451.5,486.28 L452.0,486.29 L452.5,486.29 L453.0,486.29 L453.5,486.30 L454.0,486.30 L454.5,486.30 L455.0,486.30 L455.5,486.30 L456.0,486.30 L456.5,486.30 L457.0,486.30 L457.5,486.30 L458.0,486.30 L458.5,486.30 L459.0,486.30 L459.5,486.30 L460.0,486.30 L460.5,486.30 L461.0,486.30 L461.5,486.30 L462.0,486.30 L462.5,486.30 L463.0,486.30 L463.5,486.30 L464.0,486.30 L464.5,486.30 L465.0,486.30 L465.5,486.30 L466.0,486.30 L466.5,486.30 L467.0,486.30 L467.5,486.30 L468.0,486.30 L468.5,486.30 L469.0,486.30 L469.5,486.30 L470.0,486.30 L470.5,486.30 L471.0,486.30 L471.5,486.30 L472.0,486.30 L472.5,486.30 L473.0,486.30 L473.5,486.30 L474.0,486.30 L474.5,486.30 L475.0,486.30 L475.5,486.30 L476.0,486.30 L476.5,486.30 L477.0,486.30 L477.5,486.30 L478.0,486.30 L478.5,486.30 L479.0,486.30 L479.5,486.30 L480.0,486.30 L480.5,486.30 L481.0,486.30 L481.5,486.30 L482.0,486.30 L482.5,486.30 L483.0,486.30 L483.5,486.30 L484.0,486.30 L484.5,486.30 L485.0,486.30 L485.5,486.30 L486.0,486.30 L486.5,486.30 L487.0,486.30 L487.5,486.30 L488.0,486.30 L488.5,486.30 L489.0,486.30 L489.5,486.30 L490.0,486.30 L490.5,486.30 L491.0,486.30 L491.5,486.30 L492.0,486.30 L492.5,486.30 L493.0,486.30 L493.5,486.30 L494.0,486.30 L494.5,486.30 L495.0,486.30 L495.5,486.30 L496.0,486.30 L496.5,486.30 L497.0,486.30 L497.5,486.30 L498.0,486.30 L498.5,486.30 L499.0,486.30 L499.5,486.30 L500.0,486.30 L500.5,486.30 L501.0,486.30 L501.5,486.30 L502.0,486.30 L502.5,486.30 L503.0,486.30 L503.5,486.30 L504.0,486.30 L504.5,486.30 L505.0,486.30 L505.5,486.30 L506.0,486.30 L506.5,486.30 L507.0,486.30 L507.5,486.30 L508.0,486.30 L508.5,486.30 L509.0,486.30 L509.5,486.30 L510.0,486.30 L510.5,486.30 L511.0,486.30 L511.5,486.30 L512.0,486.30 L512.5,486.30 L513.0,486.30 L513.5,486.30 L514.0,486.30 L514.5,486.30 L515.0,486.30 L515.5,486.30 L516.0,486.30 L516.5,486.30 L517.0,486.30 L517.5,486.30 L518.0,486.30 L518.5,486.30 L519.0,486.30 L519.5,486.30 L520.0,486.30 L520.5,486.30 L521.0,486.30 L521.5,486.30 L522.0,486.30 L522.5,486.30 L523.0,486.30 L523.5,486.30 L524.0,486.30 L524.5,486.30 L525.0,486.30 L525.5,486.30 L526.0,486.30 L526.5,486.30 L527.0,486.30 L527.5,486.30 L528.0,486.30 L528.5,486.30 L529.0,486.29 L529.5,486.29 L530.0,486.29 L530.5,486.29 L531.0,486.28 L531.5,486.27 L532.0,486.26 L532.5,486.25 L533.0,486.23 L533.5,486.21 L534.0,486.19 L534.5,486.15 L535.0,486.11 L535.5,486.05 L536.0,485.98 L536.5,485.90 L537.0,485.79 L537.5,485.66 L538.0,485.50 L538.5,485.32 L539.0,485.09 L539.5,484.83 L540.0,484.52 L540.5,484.16 L541.0,483.74 L541.5,483.27 L542.0,482.73 L542.5,482.13 L543.0,481.46 L543.5,480.71 L544.0,479.90 L544.5,479.03 L545.0,478.09 L545.5,477.09 L546.0,476.04 L546.5,474.96 L547.0,473.84 L547.5,472.71 L548.0,471.58 L548.5,470.47 L549.0,469.39 L549.5,468.36 L550.0,467.40 L550.5,466.53 L551.0,465.76 L551.5,465.11 L552.0,464.59 L552.5,464.21 L553.0,463.98 L553.5,463.90 L554.0,463.98 L554.5,464.21 L555.0,464.59 L555.5,465.11 L556.0,465.76 L556.5,466.53 L557.0,467.40 L557.5,468.36 L558.0,469.39 L558.5,470.47 L559.0,471.58 L559.5,472.71 L560.0,473.84 L560.5,474.96 L561.0,476.04 L561.5,477.09 L562.0,478.09 L562.5,479.03 L563.0,479.90 L563.5,480.71 L564.0,481.46 L564.5,482.13 L565.0,482.73 L565.5,483.27 L566.0,483.74 L566.5,484.16 L567.0,484.52 L567.5,484.83 L568.0,485.09 L568.5,485.32 L569.0,485.50 L569.5,485.66 L570.0,485.79 L570.5,485.90 L571.0,485.98 L571.5,486.05 L572.0,486.11 L572.5,486.15 L573.0,486.19 L573.5,486.21 L574.0,486.23 L574.5,486.25 L575.0,486.26 L575.5,486.27 L576.0,486.28 L576.5,486.29 L577.0,486.29 L577.5,486.29 L578.0,486.29 L578.5,486.30 L579.0,486.30 L579.5,486.30 L580.0,486.30 L580.5,486.30 L581.0,486.30 L581.5,486.30 L582.0,486.30 L582.5,486.30 L583.0,486.30 L583.5,486.30 L584.0,486.30 L584.5,486.30 L585.0,486.30 L585.5,486.30 L586.0,486.30 L586.5,486.30 L587.0,486.30 L587.5,486.30 L588.0,486.30 L588.5,486.30 L589.0,486.30 L589.5,486.30 L590.0,486.30 L590.5,486.30 L591.0,486.30 L591.5,486.30 L592.0,486.30 L592.5,486.30 L593.0,486.30 L593.5,486.30 L594.0,486.30 L594.5,486.30 L595.0,486.30 L595.5,486.30 L596.0,486.30 L596.5,486.30 L597.0,486.30 L597.5,486.30 L598.0,486.30 L598.5,486.30 L599.0,486.30 L599.5,486.30 L600.0,486.30 L600.5,486.30 L601.0,486.30 L601.5,486.30 L602.0,486.30 L602.5,486.30 L603.0,486.30 L603.5,486.30 L604.0,486.30 L604.5,486.30 L605.0,486.30 L605.5,486.30 L606.0,486.30 L606.5,486.30 L607.0,486.30 L607.5,486.30 L608.0,486.30 L608.5,486.30 L609.0,486.30 L609.5,486.30 L610.0,486.30 L610.5,486.30 L611.0,486.30 L611.5,486.30 L612.0,486.30 L612.5,486.30 L613.0,486.30 L613.5,486.30 L614.0,486.30 L614.5,486.30 L615.0,486.30 L615.5,486.30 L616.0,486.30 L616.5,486.30 L617.0,486.30 L617.5,486.30 L618.0,486.30 L618.5,486.30 L619.0,486.30 L619.5,486.30 L620.0,486.30 L620.5,486.30 L621.0,486.30 L621.5,486.30 L622.0,486.30 L622.5,486.30 L623.0,486.30 L623.5,486.30 L624.0,486.30 L624.5,486.30 L625.0,486.30 L625.5,486.30 L626.0,486.30 L626.5,486.30 L627.0,486.30 L627.5,486.30 L628.0,486.30 L628.5,486.30 L629.0,486.30 L629.5,486.30 L630.0,486.30 L630.5,486.30 L631.0,486.30 L631.5,486.30 L632.0,486.30 L632.5,486.30 L633.0,486.30 L633.5,486.30 L634.0,486.30 L634.5,486.30 L635.0,486.30 L635.5,486.30 L636.0,486.30 L636.5,486.30 L637.0,486.30 L637.5,486.30 L638.0,486.30 L638.5,486.30 L639.0,486.30 L639.5,486.30 L640.0,486.30 L640.5,486.30 L641.0,486.30 L641.5,486.30 L642.0,486.30 L642.5,486.30 L643.0,486.30 L643.5,486.30 L644.0,486.30 L644.5,486.30 L645.0,486.30 L645.5,486.30 L646.0,486.30 L646.5,486.30 L647.0,486.30 L647.5,486.30 L648.0,486.30 L648.5,486.30 L649.0,486.30 L649.5,486.30 L650.0,486.30 L650.5,486.30 L651.0,486.30 L651.5,486.30 L652.0,486.30 L652.5,486.30 L653.0,486.30 L653.5,486.30 L654.0,486.30 L654.5,486.30 L655.0,486.30 L655.5,486.30 L656.0,486.30 L656.5,486.30 L657.0,486.30 L657.5,486.30 L658.0,486.30 L658.5,486.30 L659.0,486.30 L659.5,486.30 L660.0,486.30 L660.5,486.30 L661.0,486.30 L661.5,486.30 L662.0,486.30 L662.5,486.30 L663.0,486.30 L663.5,486.30 L664.0,486.30 L664.5,486.30 L665.0,486.30 L665.5,486.30 L666.0,486.30 L666.5,486.30 L667.0,486.30 L667.5,486.30 L668.0,486.30 L668.5,486.30 L669.0,486.30 L669.5,486.30 L670.0,486.30 L670.5,486.30 L671.0,486.30 L671.5,486.30 L672.0,486.30 L672.5,486.30 L673.0,486.30 L673.5,486.30 L674.0,486.30 L674.5,486.30 L675.0,486.30 L675.5,486.30 L676.0,486.30 L676.5,486.30 L677.0,486.30 L677.5,486.30 L678.0,486.30 L678.5,486.30 L679.0,486.30 L679.5,486.30 L680.0,486.30 L680.5,486.30 L681.0,486.30 L681.5,486.30 L682.0,486.30 L682.5,486.30 L683.0,486.30 L683.5,486.30 L684.0,486.30 L684.5,486.30 L685.0,486.30 L685.5,486.30 L686.0,486.30 L686.5,486.30 L687.0,486.30 L687.5,486.30 L688.0,486.30 L688.5,486.30 L689.0,486.30 L689.5,486.30 L690.0,486.30 L690.5,486.30 L691.0,486.30 L691.5,486.30 L692.0,486.30 L692.5,486.30 L693.0,486.30 L693.5,486.30 L694.0,486.30 L694.5,486.30 L695.0,486.30 L695.5,486.30 L696.0,486.30 L696.5,486.30 L697.0,486.30 L697.5,486.30 L698.0,486.30 L698.5,486.30 L699.0,486.30 L699.5,486.30 L700.0,486.30 L700.5,486.30 L701.0,486.30 L701.5,486.30 L702.0,486.30 L702.5,486.30 L703.0,486.30 L703.5,486.30 L704.0,486.30 L704.5,486.30 L705.0,486.30 L705.5,486.30 L706.0,486.30 L706.5,486.30 L707.0,486.29 L707.5,486.29 L708.0,486.29 L708.5,486.28 L709.0,486.28 L709.5,486.27 L710.0,486.26 L710.5,486.25 L711.0,486.23 L711.5,486.20 L712.0,486.17 L712.5,486.13 L713.0,486.09 L713.5,486.02 L714.0,485.95 L714.5,485.85 L715.0,485.74 L715.5,485.60 L716.0,485.44 L716.5,485.25 L717.0,485.02 L717.5,484.76 L718.0,484.46 L718.5,484.12 L719.0,483.74 L719.5,483.31 L720.0,482.85 L720.5,482.34 L721.0,481.80 L721.5,481.23 L722.0,480.63 L722.5,480.01 L723.0,479.39 L723.5,478.76 L724.0,478.14 L724.5,477.55 L725.0,476.99 L725.5,476.48 L726.0,476.02 L726.5,475.63 L727.0,475.32 L727.5,475.09 L728.0,474.95 L728.5,474.90 L729.0,474.95 L729.5,475.09 L730.0,475.32 L730.5,475.63 L731.0,476.02 L731.5,476.48 L732.0,476.99 L732.5,477.55 L733.0,478.14 L733.5,478.76 L734.0,479.39 L734.5,480.01 L735.0,480.63 L735.5,481.23 L736.0,481.80 L736.5,482.34 L737.0,482.85 L737.5,483.31 L738.0,483.74 L738.5,484.12 L739.0,484.46 L739.5,484.76 L740.0,485.02 L740.5,485.25 L741.0,485.44 L741.5,485.60 L742.0,485.74 L742.5,485.85 L743.0,485.95 L743.5,486.02 L744.0,486.09 L744.5,486.13 L745.0,486.17 L745.5,486.20 L746.0,486.23 L746.5,486.25 L747.0,486.26 L747.5,486.27 L748.0,486.28 L748.5,486.28 L749.0,486.29 L749.5,486.29 L750.0,486.29 L750.5,486.30 L751.0,486.30 L751.5,486.30 L752.0,486.30 L752.5,486.30 L753.0,486.30 L753.5,486.30 L754.0,486.30 L754.5,486.30 L755.0,486.30 L755.5,486.30 L756.0,486.30 L756.5,486.30 L757.0,486.30 L757.5,486.30 L758.0,486.30 L758.5,486.30 L759.0,486.30 L759.5,486.30 L760.0,486.30 L760.5,486.30 L761.0,486.30 L761.5,486.30 L762.0,486.30 L762.5,486.30 L763.0,486.30 L763.5,486.29 L764.0,486.29 L764.5,486.29 L765.0,486.28 L765.5,486.28 L766.0,486.27 L766.5,486.26 L767.0,486.24 L767.5,486.22 L768.0,486.19 L768.5,486.15 L769.0,486.10 L769.5,486.04 L770.0,485.96 L770.5,485.86 L771.0,485.74 L771.5,485.58 L772.0,485.39 L772.5,485.15 L773.0,484.87 L773.5,484.52 L774.0,484.11 L774.5,483.63 L775.0,483.06 L775.5,482.40 L776.0,481.65 L776.5,480.78 L777.0,479.81 L777.5,478.72 L778.0,477.51 L778.5,476.18 L779.0,474.74 L779.5,473.20 L780.0,471.55 L780.5,469.83 L781.0,468.03 L781.5,466.19 L782.0,464.34 L782.5,462.48 L783.0,460.66 L783.5,458.91 L784.0,457.25 L784.5,455.73 L785.0,454.36 L785.5,453.17 L786.0,452.20 L786.5,451.45 L787.0,450.96 L787.5,450.72 L788.0,450.75 L788.5,451.04 L789.0,451.58 L789.5,452.37 L790.0,453.39 L790.5,454.62 L791.0,456.02 L791.5,457.58 L792.0,459.25 L792.5,461.02 L793.0,462.85 L793.5,464.71 L794.0,466.56 L794.5,468.40 L795.0,470.18 L795.5,471.89 L796.0,473.51 L796.5,475.04 L797.0,476.46 L797.5,477.76 L798.0,478.94 L798.5,480.01 L799.0,480.96 L799.5,481.81 L800.0,482.54 L800.5,483.18 L801.0,483.73 L801.5,484.20 L802.0,484.60 L802.5,484.93 L803.0,485.20 L803.5,485.43 L804.0,485.61 L804.5,485.76 L805.0,485.88 L805.5,485.98 L806.0,486.05 L806.5,486.11 L807.0,486.16 L807.5,486.20 L808.0,486.22 L808.5,486.24 L809.0,486.26 L809.5,486.27 L810.0,486.28 L810.5,486.28 L811.0,486.29 L811.5,486.29 L812.0,486.29 L812.5,486.30 L813.0,486.30 L813.5,486.30 L814.0,486.30 L814.5,486.30 L815.0,486.30 L815.5,486.30 L816.0,486.30 L816.5,486.30 L817.0,486.30 L817.5,486.30 L818.0,486.30 L818.5,486.30 L819.0,486.30 L819.5,486.30 L820.0,486.30 L820.5,486.30 L821.0,486.30 L821.5,486.30 L822.0,486.30 L822.5,486.30 L823.0,486.30 L823.5,486.30 L824.0,486.30 L824.5,486.30 L825.0,486.30 L825.5,486.30 L826.0,486.30 L826.5,486.30 L827.0,486.30 L827.5,486.30 L828.0,486.30 L828.5,486.30 L829.0,486.30 L829.5,486.30 L830.0,486.30 L830.5,486.30 L831.0,486.30 L831.5,486.30 L832.0,486.30 L832.5,486.30 L833.0,486.30 L833.5,486.30 L834.0,486.30 L834.5,486.30 L835.0,486.30 L835.5,486.30 L836.0,486.30 L836.5,486.30 L837.0,486.30 L837.5,486.30 L838.0,486.30 L838.5,486.30 L839.0,486.30 L839.5,486.30 L840.0,486.30 L840.5,486.30 L841.0,486.30 L841.5,486.30 L842.0,486.30 L842.5,486.30 L843.0,486.30 L843.5,486.30 L844.0,486.30 L844.5,486.30 L845.0,486.30 L845.5,486.30 L846.0,486.30 L846.5,486.30 L847.0,486.30 L847.5,486.30 L848.0,486.30 L848.5,486.30 L849.0,486.30 L849.5,486.30 L850.0,486.30 L850.5,486.30 L851.0,486.30 L851.5,486.30 L852.0,486.30 L852.5,486.30 L853.0,486.30 L853.5,486.30 L854.0,486.30 L854.5,486.30 L855.0,486.30 L855.5,486.30 L856.0,486.30 L856.5,486.30 L857.0,486.29 L857.5,486.29 L858.0,486.29 L858.5,486.28 L859.0,486.27 L859.5,486.26 L860.0,486.25 L860.5,486.23 L861.0,486.21 L861.5,486.18 L862.0,486.14 L862.5,486.08 L863.0,486.02 L863.5,485.93 L864.0,485.82 L864.5,485.69 L865.0,485.52 L865.5,485.31 L866.0,485.06 L866.5,484.75 L867.0,484.38 L867.5,483.94 L868.0,483.41 L868.5,482.80 L869.0,482.08 L869.5,481.24 L870.0,480.29 L870.5,479.20 L871.0,477.98 L871.5,476.61 L872.0,475.10 L872.5,473.44 L873.0,471.64 L873.5,469.70 L874.0,467.63 L874.5,465.45 L875.0,463.18 L875.5,460.84 L876.0,458.45 L876.5,456.05 L877.0,453.67 L877.5,451.35 L878.0,449.12 L878.5,447.02 L879.0,445.10 L879.5,443.37 L880.0,441.89 L880.5,440.67 L881.0,439.74 L881.5,439.12 L882.0,438.83 L882.5,438.86 L883.0,439.22 L883.5,439.90 L884.0,440.89 L884.5,442.16 L885.0,443.70 L885.5,445.47 L886.0,447.43 L886.5,449.56 L887.0,451.81 L887.5,454.14 L888.0,456.53 L888.5,458.93 L889.0,461.31 L889.5,463.64 L890.0,465.90 L890.5,468.05 L891.0,470.10 L891.5,472.01 L892.0,473.79 L892.5,475.42 L893.0,476.90 L893.5,478.24 L894.0,479.43 L894.5,480.49 L895.0,481.42 L895.5,482.23 L896.0,482.93 L896.5,483.53 L897.0,484.03 L897.5,484.46 L898.0,484.82 L898.5,485.11 L899.0,485.36 L899.5,485.56 L900.0,485.72 L900.5,485.85 L901.0,485.95 L901.5,486.03 L902.0,486.09 L902.5,486.14 L903.0,486.18 L903.5,486.21 L904.0,486.24 L904.5,486.25 L905.0,486.27 L905.5,486.27 L906.0,486.28 L906.5,486.29 L907.0,486.29 L907.5,486.29 L908.0,486.30 L908.5,486.30 L909.0,486.30 L909.5,486.30 L910.0,486.30 L910.5,486.30 L911.0,486.30 L911.5,486.30 L912.0,486.30 L912.5,486.30 L913.0,486.30 L913.5,486.30 L914.0,486.30 L914.5,486.30 L915.0,486.30 L915.5,486.30 L916.0,486.30 L916.5,486.30 L917.0,486.30 L917.5,486.30 L918.0,486.30 L918.5,486.30 L919.0,486.30 L919.5,486.30 L920.0,486.30 L920.5,486.30 L921.0,486.30 L921.5,486.30 L922.0,486.30 L922.5,486.30 L923.0,486.30 L923.5,486.30 L924.0,486.30 L924.5,486.30 L925.0,486.30 L925.5,486.30 L926.0,486.30 L926.5,486.30 L927.0,486.30 L927.5,486.30 L928.0,486.30 L928.5,486.30 L929.0,486.30 L929.5,486.30 L930.0,486.30 L930.5,486.30 L931.0,486.30 L931.5,486.30 L932.0,486.30 L932.5,486.30 L933.0,486.30 L933.5,486.30 L934.0,486.30 L934.5,486.30 L935.0,486.30 L935.5,486.30 L936.0,486.30 L936.5,486.30 L937.0,486.30 L937.5,486.30 L938.0,486.30 L938.5,486.30 L939.0,486.30 L939.5,486.30 L940.0,486.30 L940.5,486.30 L941.0,486.30 L941.5,486.30 L942.0,486.30 L942.5,486.30 L943.0,486.30 L943.5,486.30 L944.0,486.30 L944.5,486.30 L945.0,486.30 L945.5,486.30 L946.0,486.30 L946.5,486.30 L947.0,486.30 L947.5,486.30 L948.0,486.30 L948.5,486.30 L949.0,486.30 L949.5,486.30 L950.0,486.30 L950.5,486.30 L951.0,486.30 L951.5,486.30 L952.0,486.30 L952.5,486.30 L953.0,486.30 L953.5,486.30 L954.0,486.30 L954.5,486.30 L955.0,486.30 L955.5,486.30 L956.0,486.30 L956.5,486.30 L957.0,486.30 L957.5,486.30 L958.0,486.30 L958.5,486.30 L959.0,486.30 L959.5,486.30 L960.0,486.30 L960.5,486.30 L961.0,486.30 L961.5,486.30 L962.0,486.30 L962.5,486.30 L963.0,486.30 L963.5,486.30 L964.0,486.30 L964.5,486.30 L965.0,486.30 L965.5,486.30 L966.0,486.30 L966.5,486.30 L967.0,486.30 L967.5,486.30 L968.0,486.30 L968.5,486.30 L969.0,486.30 L969.5,486.30 L970.0,486.30 L970.5,486.30 L971.0,486.30 L971.5,486.30 L972.0,486.30 L972.5,486.30 L973.0,486.30 L973.5,486.30 L974.0,486.30 L974.5,486.30 L975.0,486.30 L975.5,486.30 L976.0,486.30 L976.5,486.30 L977.0,486.30 L977.5,486.30 L978.0,486.30 L978.5,486.30 L979.0,486.30 L979.5,486.30 L980.0,486.30 L980.5,486.30 L981.0,486.30 L981.5,486.30 L982.0,486.30 L982.5,486.30 L983.0,486.30 L983.5,486.30 L984.0,486.30 L984.5,486.30 L985.0,486.30" stroke="#ff0000"/>
<path d="M153.0,355.30 L153.5,355.30 L154.0,355.30 L154.5,355.30 L155.0,355.30 L155.5,355.30 L156.0,355.30 L156.5,355.30 L157.0,355.30 L157.5,355.30 L158.0,355.30 L158.5,355.30 L159.0,355.30 L159.5,355.30 L160.0,355.30 L160.5,355.30 L161.0,355.30 L161.5,355.30 L162.0,355.30 L162.5,355.30 L163.0,355.30 L163.5,355.30 L164.0,355.30 L164.5,355.30 L165.0,355.30 L165.5,355.30 L166.0,355.30 L166.5,355.30 L167.0,355.30 L167.5,355.30 L168.0,355.30 L168.5,355.30 L169.0,355.30 L169.5,355.30 L170.0,355.30 L170.5,355.30 L171.0,355.30 L171.5,355.30 L172.0,355.30 L172.5,355.30 L173.0,355.30 L173.5,355.30 L174.0,355.30 L174.5,355.30 L175.0,355.30 L175.5,355.30 L176.0,355.30 L176.5,355.30 L177.0,355.30 L177.5,355.30 L178.0,355.30 L178.5,355.30 L179.0,355.30 L179.5,355.30 L180.0,355.30 L180.5,355.30 L181.0,355.30 L181.5,355.30 L182.0,355.30 L182.5,355.30 L183.0,355.30 L183.5,355.30 L184.0,355.30 L184.5,355.30 L185.0,355.30 L185.5,355.30 L186.0,355.30 L186.5,355.30 L187.0,355.30 L187.5,355.30 L188.0,355.30 L188.5,355.30 L189.0,355.30 L189.5,355.30 L190.0,355.30 L190.5,355.30 L191.0,355.30 L191.5,355.30 L192.0,355.30 L192.5,355.30 L193.0,355.30 L193.5,355.30 L194.0,355.30 L194.5,355.30 L195.0,355.30 L195.5,355.30 L196.0,355.30 L196.5,355.30 L197.0,355.30 L197.5,355.30 L198.0,355.30 L198.5,355.30 L199.0,355.30 L199.5,355.30 L200.0,355.30 L200.5,355.30 L201.0,355.30 L201.5,355.30 L202.0,355.30 L202.5,355.30 L203.0,355.30 L203.5,355.30 L204.0,355.30 L204.5,355.30 L205.0,355.30 L205.5,355.30 L206.0,355.30 L206.5,355.30 L207.0,355.30 L207.5,355.30 L208.0,355.30 L208.5,355.30 L209.0,355.30 L209.5,355.30 L210.0,355.30 L210.5,355.30 L211.0,355.30 L211.5,355.30 L212.0,355.30 L212.5,355.30 L213.0,355.30 L213.5,355.30 L214.0,355.30 L214.5,355.30 L215.0,355.30 L215.5,355.30 L216.0,355.30 L216.5,355.30 L217.0,355.30 L217.5,355.30 L218.0,355.30 L218.5,355.30 L219.0,355.30 L219.5,355.30 L220.0,355.30 L220.5,355.30 L221.0,355.30 L221.5,355.30 L222.0,355.30 L222.5,355.30 L223.0,355.30 L223.5,355.30 L224.0,355.30 L224.5,355.30 L225.0,355.30 L225.5,355.30 L226.0,355.30 L226.5,355.30 L227.0,355.30 L227.5,355.30 L228.0,355.30 L228.5,355.30 L229.0,355.30 L229.5,355.30 L230.0,355.30 L230.5,355.30 L231.0,355.30 L231.5,355.30 L232.0,355.30 L232.5,355.30 L233.0,355.30 L233.5,355.30 L234.0,355.30 L234.5,355.30 L235.0,355.30 L235.5,355.30 L236.0,355.30 L236.5,355.30 L237.0,355.30 L237.5,355.30 L238.0,355.30 L238.5,355.30 L239.0,355.30 L239.5,355.30 L240.0,355.30 L240.5,355.30 L241.0,355.30 L241.5,355.30 L242.0,355.30 L242.5,355.30 L243.0,355.30 L243.5,355.30 L244.0,355.30 L244.5,355.30 L245.0,355.30 L245.5,355.30 L246.0,355.30 L246.5,355.30 L247.0,355.30 L247.5,355.30 L248.0,355.30 L248.5,355.30 L249.0,355.30 L249.5,355.30 L250.0,355.30 L250.5,355.30 L251.0,355.30 L251.5,355.30 L252.0,355.30 L252.5,355.30 L253.0,355.30 L253.5,355.30 L254.0,355.30 L254.5,355.30 L255.0,355.30 L255.5,355.30 L256.0,355.30 L256.5,355.30 L257.0,355.30 L257.5,355.30 L258.0,355.30 L258.5,355.30 L259.0,355.30 L259.5,355.30 L260.0,355.30 L260.5,355.30 L261.0,355.30 L261.5,355.30 L262.0,355.30 L262.5,355.30 L263.0,355.30 L263.5,355.30 L264.0,355.30 L264.5,355.30 L265.0,355.30 L265.5,355.30 L266.0,355.30 L266.5,355.30 L267.0,355.30 L267.5,355.30 L268.0,355.30 L268.5,355.30 L269.0,355.30 L269.5,355.30 L270.0,355.30 L270.5,355.30 L271.0,355.30 L271.5,355.30 L272.0,355.30 L272.5,355.30 L273.0,355.30 L273.5,355.30 L274.0,355.30 L274.5,355.30 L275.0,355.30 L275.5,355.30 L276.0,355.30 L276.5,355.30 L277.0,355.30 L277.5,355.30 L278.0,355.30 L278.5,355.30 L279.0,355.30 L279.5,355.30 L280.0,355.30 L280.5,355.30 L281.0,355.30 L281.5,355.30 L282.0,355.30 L282.5,355.30 L283.0,355.30 L283.5,355.30 L284.0,355.30 L284.5,355.30 L285.0,355.30 L285.5,355.30 L286.0,355.30 L286.5,355.30 L287.0,355.30 L287.5,355.30 L288.0,355.30 L288.5,355.30 L289.0,355.30 L289.5,355.30 L290.0,355.30 L290.5,355.30 L291.0,355.30 L291.5,355.30 L292.0,355.30 L292.5,355.30 L293.0,355.30 L293.5,355.30 L294.0,355.30 L294.5,355.30 L295.0,355.30 L295.5,355.30 L296.0,355.30 L296.5,355.30 L297.0,355.30 L297.5,355.30 L298.0,355.30 L298.5,355.30 L299.0,355.30 L299.5,355.30 L300.0,355.30 L300.5,355.30 L301.0,355.30 L301.5,355.30 L302.0,355.30 L302.5,355.30 L303.0,355.30 L303.5,355.30 L304.0,355.30 L304.5,355.30 L305.0,355.30 L305.5,355.30 L306.0,355.30 L306.5,355.30 L307.0,355.30 L307.5,355.30 L308.0,355.30 L308.5,355.30 L309.0,355.29 L309.5,355.29 L310.0,355.29 L310.5,355.29 L311.0,355.28 L311.5,355.27 L312.0,355.27 L312.5,355.25 L313.0,355.24 L313.5,355.22 L314.0,355.20 L314.5,355.17 L315.0,355.13 L315.5,355.08 L316.0,355.02 L316.5,354.94 L317.0,354.85 L317.5,354.73 L318.0,354.59 L318.5,354.43 L319.0,354.23 L319.5,353.99 L320.0,353.72 L320.5,353.39 L321.0,353.02 L321.5,352.59 L322.0,352.10 L322.5,351.55 L323.0,350.93 L323.5,350.24 L324.0,349.48 L324.5,348.66 L325.0,347.76 L325.5,346.79 L326.0,345.77 L326.5,344.69 L327.0,343.56 L327.5,342.40 L328.0,341.22 L328.5,340.02 L329.0,338.84 L329.5,337.67 L330.0,336.55 L330.5,335.48 L331.0,334.49 L331.5,333.60 L332.0,332.81 L332.5,332.14 L333.0,331.60 L333.5,331.22 L334.0,330.98 L334.5,330.90 L335.0,330.98 L335.5,331.22 L336.0,331.60 L336.5,332.14 L337.0,332.81 L337.5,333.60 L338.0,334.49 L338.5,335.48 L339.0,336.55 L339.5,337.67 L340.0,338.84 L340.5,340.02 L341.0,341.22 L341.5,342.40 L342.0,343.56 L342.5,344.69 L343.0,345.77 L343.5,346.79 L344.0,347.76 L344.5,348.66 L345.0,349.48 L345.5,350.24 L346.0,350.93 L346.5,351.55 L347.0,352.10 L347.5,352.59 L348.0,353.02 L348.5,353.39 L349.0,353.72 L349.5,353.99 L350.0,354.23 L350.5,354.43 L351.0,354.59 L351.5,354.73 L352.0,354.85 L352.5,354.94 L353.0,355.02 L353.5,355.08 L354.0,355.13 L354.5,355.17 L355.0,355.20 L355.5,355.22 L356.0,355.24 L356.5,355.25 L357.0,355.27 L357.5,355.27 L358.0,355.28 L358.5,355.29 L359.0,355.29 L359.5,355.29 L360.0,355.29 L360.5,355.30 L361.0,355.30 L361.5,355.30 L362.0,355.30 L362.5,355.30 L363.0,355.30 L363.5,355.30 L364.0,355.30 L364.5,355.30 L365.0,355.30 L365.5,355.30 L366.0,355.30 L366.5,355.30 L367.0,355.30 L367.5,355.30 L368.0,355.30 L368.5,355.30 L369.0,355.30 L369.5,355.30 L370.0,355.30 L370.5,355.30 L371.0,355.30 L371.5,355.30 L372.0,355.30 L372.5,355.30 L373.0,355.30 L373.5,355.30 L374.0,355.30 L374.5,355.30 L375.0,355.30 L375.5,355.30 L376.0,355.30 L376.5,355.30 L377.0,355.30 L377.5,355.30 L378.0,355.30 L378.5,355.30 L379.0,355.30 L379.5,355.30 L380.0,355.30 L380.5,355.30 L381.0,355.30 L381.5,355.30 L382.0,355.30 L382.5,355.30 L383.0,355.30 L383.5,355.30 L384.0,355.30 L384.5,355.30 L385.0,355.30 L385.5,355.30 L386.0,355.30 L386.5,355.30 L387.0,355.30 L387.5,355.30 L388.0,355.30 L388.5,355.30 L389.0,355.30 L389.5,355.30 L390.0,355.30 L390.5,355.30 L391.0,355.30 L391.5,355.30 L392.0,355.30 L392.5,355.30 L393.0,355.30 L393.5,355.30 L394.0,355.30 L394.5,355.30 L395.0,355.30 L395.5,355.30 L396.0,355.30 L396.5,355.30 L397.0,355.30 L397.5,355.29 L398.0,355.29 L398.5,355.29 L399.0,355.28 L399.5,355.28 L400.0,355.27 L400.5,355.26 L401.0,355.24 L401.5,355.23 L402.0,355.20 L402.5,355.17 L403.0,355.12 L403.5,355.07 L404.0,354.99 L404.5,354.90 L405.0,354.78 L405.5,354.64 L406.0,354.45 L406.5,354.23 L407.0,353.94 L407.5,353.60 L408.0,353.18 L408.5,352.68 L409.0,352.07 L409.5,351.36 L410.0,350.51 L410.5,349.52 L411.0,348.36 L411.5,347.03 L412.0,345.50 L412.5,343.76 L413.0,341.81 L413.5,339.61 L414.0,337.18 L414.5,334.50 L415.0,331.57 L415.5,328.40 L416.0,325.00 L416.5,321.39 L417.0,317.58 L417.5,313.60 L418.0,309.50 L418.5,305.31 L419.0,301.08 L419.5,296.86 L420.0,292.70 L420.5,288.68 L421.0,284.84 L421.5,281.24 L422.0,277.95 L422.5,275.02 L423.0,272.51 L423.5,270.45 L424.0,268.88 L424.5,267.84 L425.0,267.34 L425.5,267.40 L426.0,268.01 L426.5,269.15 L427.0,270.82 L427.5,272.97 L428.0,275.58 L428.5,278.58 L429.0,281.94 L429.5,285.59 L430.0,289.47 L430.5,293.53 L431.0,297.70 L431.5,301.93 L432.0,306.15 L432.5,310.33 L433.0,314.41 L433.5,318.35 L434.0,322.13 L434.5,325.70 L435.0,329.06 L435.5,332.18 L436.0,335.05 L436.5,337.69 L437.0,340.07 L437.5,342.22 L438.0,344.13 L438.5,345.82 L439.0,347.31 L439.5,348.61 L440.0,349.73 L440.5,350.69 L441.0,351.51 L441.5,352.20 L442.0,352.79 L442.5,353.27 L443.0,353.67 L443.5,354.00 L444.0,354.27 L444.5,354.49 L445.0,354.67 L445.5,354.81 L446.0,354.92 L446.5,355.01 L447.0,355.08 L447.5,355.13 L448.0,355.17 L448.5,355.21 L449.0,355.23 L449.5,355.25 L450.0,355.26 L450.5,355.27 L451.0,355.28 L451.5,355.29 L452.0,355.29 L452.5,355.29 L453.0,355.29 L453.5,355.30 L454.0,355.30 L454.5,355.30 L455.0,355.30 L455.5,355.30 L456.0,355.30 L456.5,355.30 L457.0,355.30 L457.5,355.30 L458.0,355.30 L458.5,355.30 L459.0,355.30 L459.5,355.30 L460.0,355.30 L460.5,355.30 L461.0,355.30 L461.5,355.30 L462.0,355.30 L462.5,355.30 L463.0,355.30 L463.5,355.30 L464.0,355.30 L464.5,355.30 L465.0,355.30 L465.5,355.30 L466.0,355.30 L466.5,355.30 L467.0,355.30 L467.5,355.30 L468.0,355.30 L468.5,355.30 L469.0,355.30 L469.5,355.30 L470.0,355.30 L470.5,355.30 L471.0,355.30 L471.5,355.30 L472.0,355.30 L472.5,355.30 L473.0,355.30 L473.5,355.30 L474.0,355.30 L474.5,355.30 L475.0,355.30 L475.5,355.30 L476.0,355.30 L476.5,355.30 L477.0,355.30 L477.5,355.30 L478.0,355.30 L478.5,355.30 L479.0,355.30 L479.5,355.30 L480.0,355.30 L480.5,355.30 L481.0,355.30 L481.5,355.30 L482.0,355.30 L482.5,355.30 L483.0,355.30 L483.5,355.30 L484.0,355.30 L484.5,355.30 L485.0,355.30 L485.5,355.30 L486.0,355.30 L486.5,355.30 L487.0,355.30 L487.5,355.30 L488.0,355.30 L488.5,355.30 L489.0,355.30 L489.5,355.30 L490.0,355.30 L490.5,355.30 L491.0,355.30 L491.5,355.30 L492.0,355.30 L492.5,355.30 L493.0,355.30 L493.5,355.30 L494.0,355.30 L494.5,355.30 L495.0,355.30 L495.5,355.30 L496.0,355.30 L496.5,355.30 L497.0,355.30 L497.5,355.30 L498.0,355.30 L498.5,355.30 L499.0,355.30 L499.5,355.30 L500.0,355.30 L500.5,355.30 L501.0,355.30 L501.5,355.30 L502.0,355.30 L502.5,355.30 L503.0,355.30 L503.5,355.30 L504.0,355.30 L504.5,355.30 L505.0,355.30 L505.5,355.30 L506.0,355.30 L506.5,355.30 L507.0,355.30 L507.5,355.30 L508.0,355.30 L508.5,355.30 L509.0,355.30 L509.5,355.30 L510.0,355.30 L510.5,355.30 L511.0,355.30 L511.5,355.30 L512.0,355.30 L512.5,355.30 L513.0,355.30 L513.5,355.30 L514.0,355.30 L514.5,355.30 L515.0,355.30 L515.5,355.30 L516.0,355.30 L516.5,355.30 L517.0,355.30 L517.5,355.30 L518.0,355.30 L518.5,355.30 L519.0,355.30 L519.5,355.30 L520.0,355.30 L520.5,355.30 L521.0,355.30 L521.5,355.30 L522.0,355.30 L522.5,355.30 L523.0,355.30 L523.5,355.30 L524.0,355.30 L524.5,355.30 L525.0,355.30 L525.5,355.30 L526.0,355.30 L526.5,355.30 L527.0,355.30 L527.5,355.30 L528.0,355.30 L528.5,355.30 L529.0,355.30 L529.5,355.29 L530.0,355.29 L530.5,355.29 L531.0,355.28 L531.5,355.28 L532.0,355.27 L532.5,355.26 L533.0,355.25 L533.5,355.23 L534.0,355.21 L534.5,355.19 L535.0,355.15 L535.5,355.11 L536.0,355.06 L536.5,354.99 L537.0,354.91 L537.5,354.81 L538.0,354.69 L538.5,354.55 L539.0,354.38 L539.5,354.18 L540.0,353.94 L540.5,353.66 L541.0,353.35 L541.5,352.99 L542.0,352.58 L542.5,352.11 L543.0,351.60 L543.5,351.04 L544.0,350.42 L544.5,349.75 L545.0,349.03 L545.5,348.27 L546.0,347.47 L546.5,346.64 L547.0,345.79 L547.5,344.93 L548.0,344.07 L548.5,343.22 L549.0,342.39 L549.5,341.61 L550.0,340.88 L550.5,340.21 L551.0,339.62 L551.5,339.12 L552.0,338.73 L552.5,338.44 L553.0,338.26 L553.5,338.20 L554.0,338.26 L554.5,338.44 L555.0,338.73 L555.5,339.12 L556.0,339.62 L556.5,340.21 L557.0,340.88 L557.5,341.61 L558.0,342.39 L558.5,343.22 L559.0,344.07 L559.5,344.93 L560.0,345.79 L560.5,346.64 L561.0,347.47 L561.5,348.27 L562.0,349.03 L562.5,349.75 L563.0,350.42 L563.5,351.04 L564.0,351.60 L564.5,352.11 L565.0,352.58 L565.5,352.99 L566.0,353.35 L566.5,353.66 L567.0,353.94 L567.5,354.18 L568.0,354.38 L568.5,354.55 L569.0,354.69 L569.5,354.81 L570.0,354.91 L570.5,354.99 L571.0,355.06 L571.5,355.11 L572.0,355.15 L572.5,355.19 L573.0,355.21 L573.5,355.23 L574.0,355.25 L574.5,355.26 L575.0,355.27 L575.5,355.28 L576.0,355.28 L576.5,355.29 L577.0,355.29 L577.5,355.29 L578.0,355.30 L578.5,355.30 L579.0,355.30 L579.5,355.30 L580.0,355.30 L580.5,355.30 L581.0,355.30 L581.5,355.30 L582.0,355.30 L582.5,355.30 L583.0,355.30 L583.5,355.30 L584.0,355.30 L584.5,355.30 L585.0,355.30 L585.5,355.30 L586.0,355.30 L586.5,355.30 L587.0,355.30 L587.5,355.30 L588.0,355.30 L588.5,355.30 L589.0,355.30 L589.5,355.30 L590.0,355.30 L590.5,355.30 L591.0,355.30 L591.5,355.30 L592.0,355.30 L592.5,355.30 L593.0,355.30 L593.5,355.30 L594.0,355.30 L594.5,355.30 L595.0,355.30 L595.5,355.30 L596.0,355.30 L596.5,355.30 L597.0,355.30 L597.5,355.30 L598.0,355.30 L598.5,355.30 L599.0,355.30 L599.5,355.30 L600.0,355.30 L600.5,355.30 L601.0,355.30 L601.5,355.30 L602.0,355.30 L602.5,355.30 L603.0,355.30 L603.5,355.30 L604.0,355.30 L604.5,355.30 L605.0,355.30 L605.5,355.30 L606.0,355.30 L606.5,355.30 L607.0,355.30 L607.5,355.30 L608.0,355.30 L608.5,355.30 L609.0,355.30 L609.5,355.30 L610.0,355.30 L610.5,355.30 L611.0,355.30 L611.5,355.30 L612.0,355.30 L612.5,355.30 L613.0,355.30 L613.5,355.30 L614.0,355.30 L614.5,355.30 L615.0,355.30 L615.5,355.30 L616.0,355.30 L616.5,355.30 L617.0,355.30 L617.5,355.30 L618.0,355.30 L618.5,355.30 L619.0,355.30 L619.5,355.30 L620.0,355.30 L620.5,355.30 L621.0,355.30 L621.5,355.30 L622.0,355.30 L622.5,355.30 L623.0,355.30 L623.5,355.30 L624.0,355.30 L624.5,355.30 L625.0,355.30 L625.5,355.30 L626.0,355.30 L626.5,355.30 L627.0,355.30 L627.5,355.30 L628.0,355.30 L628.5,355.30 L629.0,355.30 L629.5,355.30 L630.0,355.30 L630.5,355.30 L631.0,355.30 L631.5,355.30 L632.0,355.30 L632.5,355.30 L633.0,355.30 L633.5,355.30 L634.0,355.30 L634.5,355.30 L635.0,355.30 L635.5,355.30 L636.0,355.30 L636.5,355.30 L637.0,355.30 L637.5,355.30 L638.0,355.30 L638.5,355.30 L639.0,355.30 L639.5,355.30 L640.0,355.30 L640.5,355.30 L641.0,355.30 L641.5,355.30 L642.0,355.30 L642.5,355.30 L643.0,355.30 L643.5,355.30 L644.0,355.30 L644.5,355.30 L645.0,355.30 L645.5,355.30 L646.0,355.30 L646.5,355.30 L647.0,355.30 L647.5,355.30 L648.0,355.30 L648.5,355.30 L649.0,355.30 L649.5,355.30 L650.0,355.30 L650.5,355.30 L651.0,355.30 L651.5,355.30 L652.0,355.30 L652.5,355.30 L653.0,355.30 L653.5,355.30 L654.0,355.30 L654.5,355.30 L655.0,355.30 L655.5,355.30 L656.0,355.30 L656.5,355.30 L657.0,355.30 L657.5,355.30 L658.0,355.30 L658.5,355.30 L659.0,355.30 L659.5,355.30 L660.0,355.30 L660.5,355.30 L661.0,355.30 L661.5,355.30 L662.0,355.30 L662.5,355.30 L663.0,355.30 L663.5,355.30 L664.0,355.30 L664.5,355.30 L665.0,355.30 L665.5,355.30 L666.0,355.30 L666.5,355.30 L667.0,355.30 L667.5,355.30 L668.0,355.30 L668.5,355.30 L669.0,355.30 L669.5,355.30 L670.0,355.30 L670.5,355.30 L671.0,355.30 L671.5,355.30 L672.0,355.30 L672.5,355.30 L673.0,355.30 L673.5,355.30 L674.0,355.30 L674.5,355.30 L675.0,355.30 L675.5,355.30 L676.0,355.30 L676.5,355.30 L677.0,355.30 L677.5,355.30 L678.0,355.30 L678.5,355.30 L679.0,355.30 L679.5,355.30 L680.0,355.30 L680.5,355.30 L681.0,355.30 L681.5,355.30 L682.0,355.30 L682.5,355.30 L683.0,355.30 L683.5,355.30 L684.0,355.30 L684.5,355.30 L685.0,355.30 L685.5,355.30 L686.0,355.30 L686.5,355.30 L687.0,355.30 L687.5,355.30 L688.0,355.30 L688.5,355.30 L689.0,355.30 L689.5,355.30 L690.0,355.30 L690.5,355.30 L691.0,355.30 L691.5,355.30 L692.0,355.30 L692.5,355.30 L693.0,355.30 L693.5,355.30 L694.0,355.30 L694.5,355.30 L695.0,355.30 L695.5,355.30 L696.0,355.30 L696.5,355.30 L697.0,355.30 L697.5,355.30 L698.0,355.30 L698.5,355.30 L699.0,355.30 L699.5,355.30 L700.0,355.30 L700.5,355.30 L701.0,355.30 L701.5,355.30 L702.0,355.30 L702.5,355.30 L703.0,355.30 L703.5,355.30 L704.0,355.30 L704.5,355.30 L705.0,355.30 L705.5,355.30 L706.0,355.30 L706.5,355.30 L707.0,355.30 L707.5,355.29 L708.0,355.29 L708.5,355.29 L709.0,355.28 L709.5,355.28 L710.0,355.27 L710.5,355.26 L711.0,355.25 L711.5,355.23 L712.0,355.21 L712.5,355.18 L713.0,355.15 L713.5,355.10 L714.0,355.05 L714.5,354.98 L715.0,354.90 L715.5,354.80 L716.0,354.69 L716.5,354.55 L717.0,354.39 L717.5,354.20 L718.0,353.99 L718.5,353.75 L719.0,353.48 L719.5,353.18 L720.0,352.85 L720.5,352.49 L721.0,352.10 L721.5,351.70 L722.0,351.27 L722.5,350.83 L723.0,350.39 L723.5,349.94 L724.0,349.50 L724.5,349.08 L725.0,348.68 L725.5,348.32 L726.0,348.00 L726.5,347.72 L727.0,347.50 L727.5,347.33 L728.0,347.23 L728.5,347.20 L729.0,347.23 L729.5,347.33 L730.0,347.50 L730.5,347.72 L731.0,348.00 L731.5,348.32 L732.0,348.68 L732.5,349.08 L733.0,349.50 L733.5,349.94 L734.0,350.39 L734.5,350.83 L735.0,351.27 L735.5,351.70 L736.0,352.10 L736.5,352.49 L737.0,352.85 L737.5,353.18 L738.0,353.48 L738.5,353.75 L739.0,353.99 L739.5,354.20 L740.0,354.39 L740.5,354.55 L741.0,354.69 L741.5,354.80 L742.0,354.90 L742.5,354.98 L743.0,355.05 L743.5,355.10 L744.0,355.15 L744.5,355.18 L745.0,355.21 L745.5,355.23 L746.0,355.25 L746.5,355.26 L747.0,355.27 L747.5,355.28 L748.0,355.28 L748.5,355.29 L749.0,355.29 L749.5,355.29 L750.0,355.30 L750.5,355.30 L751.0,355.30 L751.5,355.30 L752.0,355.30 L752.5,355.30 L753.0,355.30 L753.5,355.30 L754.0,355.30 L754.5,355.30 L755.0,355.30 L755.5,355.30 L756.0,355.30 L756.5,355.30 L757.0,355.30 L757.5,355.30 L758.0,355.30 L758.5,355.30 L759.0,355.30 L759.5,355.30 L760.0,355.30 L760.5,355.30 L761.0,355.30 L761.5,355.30 L762.0,355.30 L762.5,355.30 L763.0,355.30 L763.5,355.30 L764.0,355.29 L764.5,355.29 L765.0,355.29 L765.5,355.28 L766.0,355.27 L766.5,355.26 L767.0,355.25 L767.5,355.23 L768.0,355.21 L768.5,355.18 L769.0,355.14 L769.5,355.09 L770.0,355.02 L770.5,354.94 L771.0,354.84 L771.5,354.72 L772.0,354.56 L772.5,354.37 L773.0,354.14 L773.5,353.87 L774.0,353.54 L774.5,353.15 L775.0,352.70 L775.5,352.18 L776.0,351.58 L776.5,350.89 L777.0,350.12 L777.5,349.26 L778.0,348.31 L778.5,347.27 L779.0,346.14 L779.5,344.93 L780.0,343.65 L780.5,342.30 L781.0,340.91 L781.5,339.48 L782.0,338.05 L782.5,336.62 L783.0,335.22 L783.5,333.88 L784.0,332.62 L784.5,331.46 L785.0,330.43 L785.5,329.54 L786.0,328.83 L786.5,328.29 L787.0,327.95 L787.5,327.80 L788.0,327.87 L788.5,328.13 L789.0,328.59 L789.5,329.24 L790.0,330.06 L790.5,331.03 L791.0,332.14 L791.5,333.36 L792.0,334.68 L792.5,336.05 L793.0,337.47 L793.5,338.91 L794.0,340.34 L794.5,341.75 L795.0,343.11 L795.5,344.42 L796.0,345.66 L796.5,346.83 L797.0,347.90 L797.5,348.89 L798.0,349.79 L798.5,350.60 L799.0,351.31 L799.5,351.95 L800.0,352.50 L800.5,352.98 L801.0,353.39 L801.5,353.74 L802.0,354.04 L802.5,354.29 L803.0,354.49 L803.5,354.66 L804.0,354.80 L804.5,354.91 L805.0,354.99 L805.5,355.06 L806.0,355.12 L806.5,355.16 L807.0,355.20 L807.5,355.22 L808.0,355.24 L808.5,355.26 L809.0,355.27 L809.5,355.28 L810.0,355.28 L810.5,355.29 L811.0,355.29 L811.5,355.29 L812.0,355.30 L812.5,355.30 L813.0,355.30 L813.5,355.30 L814.0,355.30 L814.5,355.30 L815.0,355.30 L815.5,355.30 L816.0,355.30 L816.5,355.30 L817.0,355.30 L817.5,355.30 L818.0,355.30 L818.5,355.30 L819.0,355.30 L819.5,355.30 L820.0,355.30 L820.5,355.30 L821.0,355.30 L821.5,355.30 L822.0,355.30 L822.5,355.30 L823.0,355.30 L823.5,355.30 L824.0,355.30 L824.5,355.30 L825.0,355.30 L825.5,355.30 L826.0,355.30 L826.5,355.30 L827.0,355.30 L827.5,355.30 L828.0,355.30 L828.5,355.30 L829.0,355.30 L829.5,355.30 L830.0,355.30 L830.5,355.30 L831.0,355.30 L831.5,355.30 L832.0,355.30 L832.5,355.30 L833.0,355.30 L833.5,355.30 L834.0,355.30 L834.5,355.30 L835.0,355.30 L835.5,355.30 L836.0,355.30 L836.5,355.30 L837.0,355.30 L837.5,355.30 L838.0,355.30 L838.5,355.30 L839.0,355.30 L839.5,355.30 L840.0,355.30 L840.5,355.30 L841.0,355.30 L841.5,355.30 L842.0,355.30 L842.5,355.30 L843.0,355.30 L843.5,355.30 L844.0,355.30 L844.5,355.30 L845.0,355.30 L845.5,355.30 L846.0,355.30 L846.5,355.30 L847.0,355.30 L847.5,355.30 L848.0,355.30 L848.5,355.30 L849.0,355.30 L849.5,355.30 L850.0,355.30 L850.5,355.30 L851.0,355.30 L851.5,355.30 L852.0,355.30 L852.5,355.30 L853.0,355.30 L853.5,355.30 L854.0,355.30 L854.5,355.30 L855.0,355.30 L855.5,355.30 L856.0,355.30 L856.5,355.30 L857.0,355.29 L857.5,355.29 L858.0,355.29 L858.5,355.28 L859.0,355.28 L859.5,355.27 L860.0,355.26 L860.5,355.24 L861.0,355.22 L861.5,355.20 L862.0,355.16 L862.5,355.12 L863.0,355.07 L863.5,355.00 L864.0,354.91 L864.5,354.80 L865.0,354.66 L865.5,354.49 L866.0,354.29 L866.5,354.04 L867.0,353.74 L867.5,353.38 L868.0,352.96 L868.5,352.47 L869.0,351.89 L869.5,351.22 L870.0,350.46 L870.5,349.59 L871.0,348.62 L871.5,347.53 L872.0,346.33 L872.5,345.01 L873.0,343.59 L873.5,342.05 L874.0,340.43 L874.5,338.71 L875.0,336.93 L875.5,335.10 L876.0,333.23 L876.5,331.36 L877.0,329.52 L877.5,327.72 L878.0,326.00 L878.5,324.40 L879.0,322.92 L879.5,321.62 L880.0,320.50 L880.5,319.59 L881.0,318.92 L881.5,318.48 L882.0,318.31 L882.5,318.38 L883.0,318.71 L883.5,319.29 L884.0,320.11 L884.5,321.14 L885.0,322.38 L885.5,323.79 L886.0,325.35 L886.5,327.02 L887.0,328.79 L887.5,330.62 L888.0,332.48 L888.5,334.35 L889.0,336.20 L889.5,338.01 L890.0,339.75 L890.5,341.41 L891.0,342.99 L891.5,344.46 L892.0,345.82 L892.5,347.06 L893.0,348.20 L893.5,349.21 L894.0,350.12 L894.5,350.93 L895.0,351.63 L895.5,352.24 L896.0,352.77 L896.5,353.22 L897.0,353.61 L897.5,353.93 L898.0,354.20 L898.5,354.42 L899.0,354.60 L899.5,354.75 L900.0,354.87 L900.5,354.96 L901.0,355.04 L901.5,355.10 L902.0,355.15 L902.5,355.19 L903.0,355.21 L903.5,355.24 L904.0,355.25 L904.5,355.27 L905.0,355.27 L905.5,355.28 L906.0,355.29 L906.5,355.29 L907.0,355.29 L907.5,355.30 L908.0,355.30 L908.5,355.30 L909.0,355.30 L909.5,355.30 L910.0,355.30 L910.5,355.30 L911.0,355.30 L911.5,355.30 L912.0,355.30 L912.5,355.30 L913.0,355.30 L913.5,355.30 L914.0,355.30 L914.5,355.30 L915.0,355.30 L915.5,355.30 L916.0,355.30 L916.5,355.30 L917.0,355.30 L917.5,355.30 L918.0,355.30 L918.5,355.30 L919.0,355.30 L919.5,355.30 L920.0,355.30 L920.5,355.30 L921.0,355.30 L921.5,355.30 L922.0,355.30 L922.5,355.30 L923.0,355.30 L923.5,355.30 L924.0,355.30 L924.5,355.30 L925.0,355.30 L925.5,355.30 L926.0,355.30 L926.5,355.30 L927.0,355.30 L927.5,355.30 L928.0,355.30 L928.5,355.30 L929.0,355.30 L929.5,355.30 L930.0,355.30 L930.5,355.30 L931.0,355.30 L931.5,355.30 L932.0,355.30 L932.5,355.30 L933.0,355.30 L933.5,355.30 L934.0,355.30 L934.5,355.30 L935.0,355.30 L935.5,355.30 L936.0,355.30 L936.5,355.30 L937.0,355.30 L937.5,355.30 L938.0,355.30 L938.5,355.30 L939.0,355.30 L939.5,355.30 L940.0,355.30 L940.5,355.30 L941.0,355.30 L941.5,355.30 L942.0,355.30 L942.5,355.30 L943.0,355.30 L943.5,355.30 L944.0,355.30 L944.5,355.30 L945.0,355.30 L945.5,355.30 L946.0,355.30 L946.5,355.30 L947.0,355.30 L947.5,355.30 L948.0,355.30 L948.5,355.30 L949.0,355.30 L949.5,355.30 L950.0,355.30 L950.5,355.30 L951.0,355.30 L951.5,355.30 L952.0,355.30 L952.5,355.30 L953.0,355.30 L953.5,355.30 L954.0,355.30 L954.5,355.30 L955.0,355.30 L955.5,355.30 L956.0,355.30 L956.5,355.30 L957.0,355.30 L957.5,355.30 L958.0,355.30 L958.5,355.30 L959.0,355.30 L959.5,355.30 L960.0,355.30 L960.5,355.30 L961.0,355.30 L961.5,355.30 L962.0,355.30 L962.5,355.30 L963.0,355.30 L963.5,355.30 L964.0,355.30 L964.5,355.30 L965.0,355.30 L965.5,355.30 L966.0,355.30 L966.5,355.30 L967.0,355.30 L967.5,355.30 L968.0,355.30 L968.5,355.30 L969.0,355.30 L969.5,355.30 L970.0,355.30 L970.5,355.30 L971.0,355.30 L971.5,355.30 L972.0,355.30 L972.5,355.30 L973.0,355.30 L973.5,355.30 L974.0,355.30 L974.5,355.30 L975.0,355.30 L975.5,355.30 L976.0,355.30 L976.5,355.30 L977.0,355.30 L977.5,355.30 L978.0,355.30 L978.5,355.30 L979.0,355.30 L979.5,355.30 L980.0,355.30 L980.5,355.30 L981.0,355.30 L981.5,355.30 L982.0,355.30 L982.5,355.30 L983.0,355.30 L983.5,355.30 L984.0,355.30 L984.5,355.30 L985.0,355.30" stroke="#00ff00"/>
<path d="M153.0,249.70 L153.5,249.70 L154.0,249.70 L154.5,249.70 L155.0,249.70 L155.5,249.70 L156.0,249.70 L156.5,249.70 L157.0,249.70 L157.5,249.70 L158.0,249.70 L158.5,249.70 L159.0,249.70 L159.5,249.70 L160.0,249.70 L160.5,249.70 L161.0,249.70 L161.5,249.70 L162.0,249.70 L162.5,249.70 L163.0,249.70 L163.5,249.70 L164.0,249.70 L164.5,249.70 L165.0,249.70 L165.5,249.70 L166.0,249.70 L166.5,249.70 L167.0,249.70 L167.5,249.70 L168.0,249.70 L168.5,249.70 L169.0,249.70 L169.5,249.70 L170.0,249.70 L170.5,249.70 L171.0,249.70 L171.5,249.70 L172.0,249.70 L172.5,249.70 L173.0,249.70 L173.5,249.70 L174.0,249.70 L174.5,249.70 L175.0,249.70 L175.5,249.70 L176.0,249.70 L176.5,249.70 L177.0,249.70 L177.5,249.70 L178.0,249.70 L178.5,249.70 L179.0,249.70 L179.5,249.70 L180.0,249.70 L180.5,249.70 L181.0,249.70 L181.5,249.70 L182.0,249.70 L182.5,249.70 L183.0,249.70 L183.5,249.70 L184.0,249.70 L184.5,249.70 L185.0,249.70 L185.5,249.70 L186.0,249.70 L186.5,249.70 L187.0,249.70 L187.5,249.70 L188.0,249.70 L188.5,249.70 L189.0,249.70 L189.5,249.70 L190.0,249.70 L190.5,249.70 L191.0,249.70 L191.5,249.70 L192.0,249.70 L192.5,249.70 L193.0,249.70 L193.5,249.70 L194.0,249.70 L194.5,249.70 L195.0,249.70 L195.5,249.70 L196.0,249.70 L196.5,249.70 L197.0,249.70 L197.5,249.70 L198.0,249.70 L198.5,249.70 L199.0,249.70 L199.5,249.70 L200.0,249.70 L200.5,249.70 L201.0,249.70 L201.5,249.70 L202.0,249.70 L202.5,249.70 L203.0,249.70 L203.5,249.70 L204.0,249.70 L204.5,249.70 L205.0,249.70 L205.5,249.70 L206.0,249.70 L206.5,249.70 L207.0,249.70 L207.5,249.70 L208.0,249.70 L208.5,249.70 L209.0,249.70 L209.5,249.70 L210.0,249.70 L210.5,249.70 L211.0,249.70 L211.5,249.70 L212.0,249.70 L212.5,249.70 L213.0,249.70 L213.5,249.70 L214.0,249.70 L214.5,249.70 L215.0,249.70 L215.5,249.70 L216.0,249.70 L216.5,249.70 L217.0,249.70 L217.5,249.70 L218.0,249.70 L218.5,249.70 L219.0,249.70 L219.5,249.70 L220.0,249.70 L220.5,249.70 L221.0,249.70 L221.5,249.70 L222.0,249.70 L222.5,249.70 L223.0,249.70 L223.5,249.70 L224.0,249.70 L224.5,249.70 L225.0,249.70 L225.5,249.70 L226.0,249.70 L226.5,249.70 L227.0,249.70 L227.5,249.70 L228.0,249.70 L228.5,249.70 L229.0,249.70 L229.5,249.70 L230.0,249.70 L230.5,249.70 L231.0,249.70 L231.5,249.70 L232.0,249.70 L232.5,249.70 L233.0,249.70 L233.5,249.70 L234.0,249.70 L234.5,249.70 L235.0,249.70 L235.5,249.70 L236.0,249.70 L236.5,249.70 L237.0,249.70 L237.5,249.70 L238.0,249.70 L238.5,249.70 L239.0,249.70 L239.5,249.70 L240.0,249.70 L240.5,249.70 L241.0,249.70 L241.5,249.70 L242.0,249.70 L242.5,249.70 L243.0,249.70 L243.5,249.70 L244.0,249.70 L244.5,249.70 L245.0,249.70 L245.5,249.70 L246.0,249.70 L246.5,249.70 L247.0,249.70 L247.5,249.70 L248.0,249.70 L248.5,249.70 L249.0,249.70 L249.5,249.70 L250.0,249.70 L250.5,249.70 L251.0,249.70 L251.5,249.70 L252.0,249.70 L252.5,249.70 L253.0,249.70 L253.5,249.70 L254.0,249.70 L254.5,249.70 L255.0,249.70 L255.5,249.70 L256.0,249.70 L256.5,249.70 L257.0,249.70 L257.5,249.70 L258.0,249.70 L258.5,249.70 L259.0,249.70 L259.5,249.70 L260.0,249.70 L260.5,249.70 L261.0,249.70 L261.5,249.70 L262.0,249.70 L262.5,249.70 L263.0,249.70 L263.5,249.70 L264.0,249.70 L264.5,249.70 L265.0,249.70 L265.5,249.70 L266.0,249.70 L266.5,249.70 L267.0,249.70 L267.5,249.70 L268.0,249.70 L268.5,249.70 L269.0,249.70 L269.5,249.70 L270.0,249.70 L270.5,249.70 L271.0,249.70 L271.5,249.70 L272.0,249.70 L272.5,249.70 L273.0,249.70 L273.5,249.70 L274.0,249.70 L274.5,249.70 L275.0,249.70 L275.5,249.70 L276.0,249.70 L276.5,249.70 L277.0,249.70 L277.5,249.70 L278.0,249.70 L278.5,249.70 L279.0,249.70 L279.5,249.70 L280.0,249.70 L280.5,249.70 L281.0,249.70 L281.5,249.70 L282.0,249.70 L282.5,249.70 L283.0,249.70 L283.5,249.70 L284.0,249.70 L284.5,249.70 L285.0,249.70 L285.5,249.70 L286.0,249.70 L286.5,249.70 L287.0,249.70 L287.5,249.70 L288.0,249.70 L288.5,249.70 L289.0,249.70 L289.5,249.70 L290.0,249.70 L290.5,249.70 L291.0,249.70 L291.5,249.70 L292.0,249.70 L292.5,249.70 L293.0,249.70 L293.5,249.70 L294.0,249.70 L294.5,249.70 L295.0,249.70 L295.5,249.70 L296.0,249.70 L296.5,249.70 L297.0,249.70 L297.5,249.70 L298.0,249.70 L298.5,249.70 L299.0,249.70 L299.5,249.70 L300.0,249.70 L300.5,249.70 L301.0,249.70 L301.5,249.70 L302.0,249.70 L302.5,249.70 L303.0,249.70 L303.5,249.70 L304.0,249.70 L304.5,249.70 L305.0,249.70 L305.5,249.70 L306.0,249.70 L306.5,249.70 L307.0,249.70 L307.5,249.70 L308.0,249.70 L308.5,249.70 L309.0,249.70 L309.5,249.69 L310.0,249.69 L310.5,249.69 L311.0,249.69 L311.5,249.68 L312.0,249.67 L312.5,249.67 L313.0,249.65 L313.5,249.64 L314.0,249.62 L314.5,249.60 L315.0,249.57 L315.5,249.53 L316.0,249.48 L316.5,249.42 L317.0,249.35 L317.5,249.26 L318.0,249.15 L318.5,249.02 L319.0,248.87 L319.5,248.69 L320.0,248.47 L320.5,248.22 L321.0,247.93 L321.5,247.60 L322.0,247.22 L322.5,246.80 L323.0,246.32 L323.5,245.78 L324.0,245.20 L324.5,244.55 L325.0,243.86 L325.5,243.11 L326.0,242.32 L326.5,241.48 L327.0,240.61 L327.5,239.71 L328.0,238.79 L328.5,237.87 L329.0,236.95 L329.5,236.05 L330.0,235.18 L330.5,234.35 L331.0,233.58 L331.5,232.89 L332.0,232.28 L332.5,231.76 L333.0,231.35 L333.5,231.04 L334.0,230.86 L334.5,230.80 L335.0,230.86 L335.5,231.04 L336.0,231.35 L336.5,231.76 L337.0,232.28 L337.5,232.89 L338.0,233.58 L338.5,234.35 L339.0,235.18 L339.5,236.05 L340.0,236.95 L340.5,237.87 L341.0,238.79 L341.5,239.71 L342.0,240.61 L342.5,241.48 L343.0,242.32 L343.5,243.11 L344.0,243.86 L344.5,244.55 L345.0,245.20 L345.5,245.78 L346.0,246.32 L346.5,246.80 L347.0,247.22 L347.5,247.60 L348.0,247.93 L348.5,248.22 L349.0,248.47 L349.5,248.69 L350.0,248.87 L350.5,249.02 L351.0,249.15 L351.5,249.26 L352.0,249.35 L352.5,249.42 L353.0,249.48 L353.5,249.53 L354.0,249.57 L354.5,249.60 L355.0,249.62 L355.5,249.64 L356.0,249.65 L356.5,249.67 L357.0,249.67 L357.5,249.68 L358.0,249.69 L358.5,249.69 L359.0,249.69 L359.5,249.69 L360.0,249.70 L360.5,249.70 L361.0,249.70 L361.5,249.70 L362.0,249.70 L362.5,249.70 L363.0,249.70 L363.5,249.70 L364.0,249.70 L364.5,249.70 L365.0,249.70 L365.5,249.70 L366.0,249.70 L366.5,249.70 L367.0,249.70 L367.5,249.70 L368.0,249.70 L368.5,249.70 L369.0,249.70 L369.5,249.70 L370.0,249.70 L370.5,249.70 L371.0,249.70 L371.5,249.70 L372.0,249.70 L372.5,249.70 L373.0,249.70 L373.5,249.70 L374.0,249.70 L374.5,249.70 L375.0,249.70 L375.5,249.70 L376.0,249.70 L376.5,249.70 L377.0,249.70 L377.5,249.70 L378.0,249.70 L378.5,249.70 L379.0,249.70 L379.5,249.70 L380.0,249.70 L380.5,249.70 L381.0,249.70 L381.5,249.70 L382.0,249.70 L382.5,249.70 L383.0,249.70 L383.5,249.70 L384.0,249.70 L384.5,249.70 L385.0,249.70 L385.5,249.70 L386.0,249.70 L386.5,249.70 L387.0,249.70 L387.5,249.70 L388.0,249.70 L388.5,249.70 L389.0,249.70 L389.5,249.70 L390.0,249.70 L390.5,249.70 L391.0,249.70 L391.5,249.70 L392.0,249.70 L392.5,249.70 L393.0,249.70 L393.5,249.70 L394.0,249.70 L394.5,249.70 L395.0,249.70 L395.5,249.70 L396.0,249.70 L396.5,249.70 L397.0,249.70 L397.5,249.70 L398.0,249.69 L398.5,249.69 L399.0,249.69 L399.5,249.68 L400.0,249.68 L400.5,249.67 L401.0,249.66 L401.5,249.65 L402.0,249.63 L402.5,249.60 L403.0,249.57 L403.5,249.53 L404.0,249.47 L404.5,249.40 L405.0,249.32 L405.5,249.21 L406.0,249.07 L406.5,248.90 L407.0,248.68 L407.5,248.43 L408.0,248.11 L408.5,247.73 L409.0,247.27 L409.5,246.73 L410.0,246.08 L410.5,245.33 L411.0,244.45 L411.5,243.43 L412.0,242.27 L412.5,240.94 L413.0,239.44 L413.5,237.76 L414.0,235.89 L414.5,233.83 L415.0,231.57 L415.5,229.12 L416.0,226.49 L416.5,223.69 L417.0,220.73 L417.5,217.64 L418.0,214.44 L418.5,211.16 L419.0,207.85 L419.5,204.54 L420.0,201.26 L420.5,198.08 L421.0,195.04 L421.5,192.18 L422.0,189.55 L422.5,187.19 L423.0,185.15 L423.5,183.46 L424.0,182.15 L424.5,181.25 L425.0,180.78 L425.5,180.73 L426.0,181.12 L426.5,181.94 L427.0,183.17 L427.5,184.78 L428.0,186.75 L428.5,189.05 L429.0,191.63 L429.5,194.45 L430.0,197.46 L430.5,200.62 L431.0,203.88 L431.5,207.19 L432.0,210.50 L432.5,213.79 L433.0,217.01 L433.5,220.12 L434.0,223.11 L434.5,225.94 L435.0,228.61 L435.5,231.09 L436.0,233.39 L436.5,235.49 L437.0,237.40 L437.5,239.12 L438.0,240.65 L438.5,242.02 L439.0,243.21 L439.5,244.26 L440.0,245.16 L440.5,245.94 L441.0,246.61 L441.5,247.17 L442.0,247.64 L442.5,248.04 L443.0,248.37 L443.5,248.64 L444.0,248.86 L444.5,249.04 L445.0,249.18 L445.5,249.30 L446.0,249.39 L446.5,249.46 L447.0,249.52 L447.5,249.56 L448.0,249.60 L448.5,249.62 L449.0,249.64 L449.5,249.66 L450.0,249.67 L450.5,249.68 L451.0,249.68 L451.5,249.69 L452.0,249.69 L452.5,249.69 L453.0,249.70 L453.5,249.70 L454.0,249.70 L454.5,249.70 L455.0,249.70 L455.5,249.70 L456.0,249.70 L456.5,249.70 L457.0,249.70 L457.5,249.70 L458.0,249.70 L458.5,249.70 L459.0,249.70 L459.5,249.70 L460.0,249.70 L460.5,249.70 L461.0,249.70 L461.5,249.70 L462.0,249.70 L462.5,249.70 L463.0,249.70 L463.5,249.70 L464.0,249.70 L464.5,249.70 L465.0,249.70 L465.5,249.70 L466.0,249.70 L466.5,249.70 L467.0,249.70 L467.5,249.70 L468.0,249.70 L468.5,249.70 L469.0,249.70 L469.5,249.70 L470.0,249.70 L470.5,249.70 L471.0,249.70 L471.5,249.70 L472.0,249.70 L472.5,249.70 L473.0,249.70 L473.5,249.70 L474.0,249.70 L474.5,249.70 L475.0,249.70 L475.5,249.70 L476.0,249.70 L476.5,249.70 L477.0,249.70 L477.5,249.70 L478.0,249.70 L478.5,249.70 L479.0,249.70 L479.5,249.70 L480.0,249.70 L480.5,249.70 L481.0,249.70 L481.5,249.70 L482.0,249.70 L482.5,249.70 L483.0,249.70 L483.5,249.70 L484.0,249.70 L484.5,249.70 L485.0,249.70 L485.5,249.70 L486.0,249.70 L486.5,249.70 L487.0,249.70 L487.5,249.70 L488.0,249.70 L488.5,249.70 L489.0,249.70 L489.5,249.70 L490.0,249.70 L490.5,249.70 L491.0,249.70 L491.5,249.70 L492.0,249.70 L492.5,249.70 L493.0,249.70 L493.5,249.70 L494.0,249.70 L494.5,249.70 L495.0,249.70 L495.5,249.70 L496.0,249.70 L496.5,249.70 L497.0,249.70 L497.5,249.70 L498.0,249.70 L498.5,249.70 L499.0,249.70 L499.5,249.70 L500.0,249.70 L500.5,249.70 L501.0,249.70 L501.5,249.70 L502.0,249.70 L502.5,249.70 L503.0,249.70 L503.5,249.70 L504.0,249.70 L504.5,249.70 L505.0,249.70 L505.5,249.70 L506.0,249.70 L506.5,249.70 L507.0,249.70 L507.5,249.70 L508.0,249.70 L508.5,249.70 L509.0,249.70 L509.5,249.70 L510.0,249.70 L510.5,249.70 L511.0,249.70 L511.5,249.70 L512.0,249.70 L512.5,249.70 L513.0,249.70 L513.5,249.70 L514.0,249.70 L514.5,249.70 L515.0,249.70 L515.5,249.70 L516.0,249.70 L516.5,249.70 L517.0,249.70 L517.5,249.70 L518.0,249.70 L518.5,249.70 L519.0,249.70 L519.5,249.70 L520.0,249.70 L520.5,249.70 L521.0,249.70 L521.5,249.70 L522.0,249.70 L522.5,249.70 L523.0,249.70 L523.5,249.70 L524.0,249.70 L524.5,249.70 L525.0,249.70 L525.5,249.70 L526.0,249.70 L526.5,249.70 L527.0,249.70 L527.5,249.70 L528.0,249.70 L528.5,249.70 L529.0,249.70 L529.5,249.70 L530.0,249.69 L530.5,249.69 L531.0,249.69 L531.5,249.68 L532.0,249.68 L532.5,249.67 L533.0,249.66 L533.5,249.65 L534.0,249.63 L534.5,249.61 L535.0,249.59 L535.5,249.56 L536.0,249.52 L536.5,249.47 L537.0,249.41 L537.5,249.33 L538.0,249.24 L538.5,249.14 L539.0,249.01 L539.5,248.86 L540.0,248.68 L540.5,248.48 L541.0,248.24 L541.5,247.97 L542.0,247.66 L542.5,247.32 L543.0,246.93 L543.5,246.51 L544.0,246.05 L544.5,245.54 L545.0,245.01 L545.5,244.44 L546.0,243.84 L546.5,243.22 L547.0,242.58 L547.5,241.94 L548.0,241.29 L548.5,240.65 L549.0,240.04 L549.5,239.45 L550.0,238.90 L550.5,238.40 L551.0,237.96 L551.5,237.59 L552.0,237.29 L552.5,237.08 L553.0,236.94 L553.5,236.90 L554.0,236.94 L554.5,237.08 L555.0,237.29 L555.5,237.59 L556.0,237.96 L556.5,238.40 L557.0,238.90 L557.5,239.45 L558.0,240.04 L558.5,240.65 L559.0,241.29 L559.5,241.94 L560.0,242.58 L560.5,243.22 L561.0,243.84 L561.5,244.44 L562.0,245.01 L562.5,245.54 L563.0,246.05 L563.5,246.51 L564.0,246.93 L564.5,247.32 L565.0,247.66 L565.5,247.97 L566.0,248.24 L566.5,248.48 L567.0,248.68 L567.5,248.86 L568.0,249.01 L568.5,249.14 L569.0,249.24 L569.5,249.33 L570.0,249.41 L570.5,249.47 L571.0,249.52 L571.5,249.56 L572.0,249.59 L572.5,249.61 L573.0,249.63 L573.5,249.65 L574.0,249.66 L574.5,249.67 L575.0,249.68 L575.5,249.68 L576.0,249.69 L576.5,249.69 L577.0,249.69 L577.5,249.70 L578.0,249.70 L578.5,249.70 L579.0,249.70 L579.5,249.70 L580.0,249.70 L580.5,249.70 L581.0,249.70 L581.5,249.70 L582.0,249.70 L582.5,249.70 L583.0,249.70 L583.5,249.70 L584.0,249.70 L584.5,249.70 L585.0,249.70 L585.5,249.70 L586.0,249.70 L586.5,249.70 L587.0,249.70 L587.5,249.70 L588.0,249.70 L588.5,249.70 L589.0,249.70 L589.5,249.70 L590.0,249.70 L590.5,249.70 L591.0,249.70 L591.5,249.70 L592.0,249.70 L592.5,249.70 L593.0,249.70 L593.5,249.70 L594.0,249.70 L594.5,249.70 L595.0,249.70 L595.5,249.70 L596.0,249.70 L596.5,249.70 L597.0,249.70 L597.5,249.70 L598.0,249.70 L598.5,249.70 L599.0,249.70 L599.5,249.70 L600.0,249.70 L600.5,249.70 L601.0,249.70 L601.5,249.70 L602.0,249.70 L602.5,249.70 L603.0,249.70 L603.5,249.70 L604.0,249.70 L604.5,249.70 L605.0,249.70 L605.5,249.70 L606.0,249.70 L606.5,249.70 L607.0,249.70 L607.5,249.70 L608.0,249.70 L608.5,249.70 L609.0,249.70 L609.5,249.70 L610.0,249.70 L610.5,249.70 L611.0,249.70 L611.5,249.70 L612.0,249.70 L612.5,249.70 L613.0,249.70 L613.5,249.70 L614.0,249.70 L614.5,249.70 L615.0,249.70 L615.5,249.70 L616.0,249.70 L616.5,249.70 L617.0,249.70 L617.5,249.70 L618.0,249.70 L618.5,249.70 L619.0,249.70 L619.5,249.70 L620.0,249.70 L620.5,249.70 L621.0,249.70 L621.5,249.70 L622.0,249.70 L622.5,249.70 L623.0,249.70 L623.5,249.70 L624.0,249.70 L624.5,249.70 L625.0,249.70 L625.5,249.70 L626.0,249.70 L626.5,249.70 L627.0,249.70 L627.5,249.70 L628.0,249.70 L628.5,249.70 L629.0,249.70 L629.5,249.70 L630.0,249.70 L630.5,249.70 L631.0,249.70 L631.5,249.70 L632.0,249.70 L632.5,249.70 L633.0,249.70 L633.5,249.70 L634.0,249.70 L634.5,249.70 L635.0,249.70 L635.5,249.70 L636.0,249.70 L636.5,249.70 L637.0,249.70 L637.5,249.70 L638.0,249.70 L638.5,249.70 L639.0,249.70 L639.5,249.70 L640.0,249.70 L640.5,249.70 L641.0,249.70 L641.5,249.70 L642.0,249.70 L642.5,249.70 L643.0,249.70 L643.5,249.70 L644.0,249.70 L644.5,249.70 L645.0,249.70 L645.5,249.70 L646.0,249.70 L646.5,249.70 L647.0,249.70 L647.5,249.70 L648.0,249.70 L648.5,249.70 L649.0,249.70 L649.5,249.70 L650.0,249.70 L650.5,249.70 L651.0,249.70 L651.5,249.70 L652.0,249.70 L652.5,249.70 L653.0,249.70 L653.5,249.70 L654.0,249.70 L654.5,249.70 L655.0,249.70 L655.5,249.70 L656.0,249.70 L656.5,249.70 L657.0,249.70 L657.5,249.70 L658.0,249.70 L658.5,249.70 L659.0,249.70 L659.5,249.70 L660.0,249.70 L660.5,249.70 L661.0,249.70 L661.5,249.70 L662.0,249.70 L662.5,249.70 L663.0,249.70 L663.5,249.70 L664.0,249.70 L664.5,249.70 L665.0,249.70 L665.5,249.70 L666.0,249.70 L666.5,249.70 L667.0,249.70 L667.5,249.70 L668.0,249.70 L668.5,249.70 L669.0,249.70 L669.5,249.70 L670.0,249.70 L670.5,249.70 L671.0,249.70 L671.5,249.70 L672.0,249.70 L672.5,249.70 L673.0,249.70 L673.5,249.70 L674.0,249.70 L674.5,249.70 L675.0,249.70 L675.5,249.70 L676.0,249.70 L676.5,249.70 L677.0,249.70 L677.5,249.70 L678.0,249.70 L678.5,249.70 L679.0,249.70 L679.5,249.70 L680.0,249.70 L680.5,249.70 L681.0,249.70 L681.5,249.70 L682.0,249.70 L682.5,249.70 L683.0,249.70 L683.5,249.70 L684.0,249.70 L684.5,249.70 L685.0,249.70 L685.5,249.70 L686.0,249.70 L686.5,249.70 L687.0,249.70 L687.5,249.70 L688.0,249.70 L688.5,249.70 L689.0,249.70 L689.5,249.70 L690.0,249.70 L690.5,249.70 L691.0,249.70 L691.5,249.70 L692.0,249.70 L692.5,249.70 L693.0,249.70 L693.5,249.70 L694.0,249.70 L694.5,249.70 L695.0,249.70 L695.5,249.70 L696.0,249.70 L696.5,249.70 L697.0,249.70 L697.5,249.70 L698.0,249.70 L698.5,249.70 L699.0,249.70 L699.5,249.70 L700.0,249.70 L700.5,249.70 L701.0,249.70 L701.5,249.70 L702.0,249.70 L702.5,249.70 L703.0,249.70 L703.5,249.70 L704.0,249.70 L704.5,249.70 L705.0,249.70 L705.5,249.70 L706.0,249.70 L706.5,249.70 L707.0,249.70 L707.5,249.70 L708.0,249.69 L708.5,249.69 L709.0,249.69 L709.5,249.68 L710.0,249.68 L710.5,249.67 L711.0,249.66 L711.5,249.64 L712.0,249.62 L712.5,249.60 L713.0,249.57 L713.5,249.53 L714.0,249.49 L714.5,249.43 L715.0,249.36 L715.5,249.28 L716.0,249.18 L716.5,249.06 L717.0,248.92 L717.5,248.77 L718.0,248.58 L718.5,248.38 L719.0,248.15 L719.5,247.89 L720.0,247.61 L720.5,247.30 L721.0,246.98 L721.5,246.63 L722.0,246.27 L722.5,245.89 L723.0,245.51 L723.5,245.14 L724.0,244.76 L724.5,244.40 L725.0,244.06 L725.5,243.75 L726.0,243.48 L726.5,243.24 L727.0,243.05 L727.5,242.91 L728.0,242.83 L728.5,242.80 L729.0,242.83 L729.5,242.91 L730.0,243.05 L730.5,243.24 L731.0,243.48 L731.5,243.75 L732.0,244.06 L732.5,244.40 L733.0,244.76 L733.5,245.14 L734.0,245.51 L734.5,245.89 L735.0,246.27 L735.5,246.63 L736.0,246.98 L736.5,247.30 L737.0,247.61 L737.5,247.89 L738.0,248.15 L738.5,248.38 L739.0,248.58 L739.5,248.77 L740.0,248.92 L740.5,249.06 L741.0,249.18 L741.5,249.28 L742.0,249.36 L742.5,249.43 L743.0,249.49 L743.5,249.53 L744.0,249.57 L744.5,249.60 L745.0,249.62 L745.5,249.64 L746.0,249.66 L746.5,249.67 L747.0,249.68 L747.5,249.68 L748.0,249.69 L748.5,249.69 L749.0,249.69 L749.5,249.70 L750.0,249.70 L750.5,249.70 L751.0,249.70 L751.5,249.70 L752.0,249.70 L752.5,249.70 L753.0,249.70 L753.5,249.70 L754.0,249.70 L754.5,249.70 L755.0,249.70 L755.5,249.70 L756.0,249.70 L756.5,249.70 L757.0,249.70 L757.5,249.70 L758.0,249.70 L758.5,249.70 L759.0,249.70 L759.5,249.70 L760.0,249.70 L760.5,249.70 L761.0,249.70 L761.5,249.70 L762.0,249.70 L762.5,249.70 L763.0,249.70 L763.5,249.70 L764.0,249.70 L764.5,249.69 L765.0,249.69 L765.5,249.69 L766.0,249.68 L766.5,249.67 L767.0,249.66 L767.5,249.65 L768.0,249.64 L768.5,249.61 L769.0,249.59 L769.5,249.55 L770.0,249.50 L770.5,249.44 L771.0,249.37 L771.5,249.28 L772.0,249.16 L772.5,249.02 L773.0,248.86 L773.5,248.65 L774.0,248.41 L774.5,248.12 L775.0,247.78 L775.5,247.39 L776.0,246.94 L776.5,246.42 L777.0,245.83 L777.5,245.17 L778.0,244.45 L778.5,243.64 L779.0,242.77 L779.5,241.83 L780.0,240.83 L780.5,239.78 L781.0,238.69 L781.5,237.56 L782.0,236.42 L782.5,235.27 L783.0,234.15 L783.5,233.06 L784.0,232.03 L784.5,231.07 L785.0,230.21 L785.5,229.46 L786.0,228.83 L786.5,228.34 L787.0,228.01 L787.5,227.83 L788.0,227.81 L788.5,227.96 L789.0,228.26 L789.5,228.72 L790.0,229.32 L790.5,230.05 L791.0,230.89 L791.5,231.83 L792.0,232.85 L792.5,233.93 L793.0,235.05 L793.5,236.19 L794.0,237.33 L794.5,238.46 L795.0,239.57 L795.5,240.63 L796.0,241.64 L796.5,242.59 L797.0,243.48 L797.5,244.29 L798.0,245.03 L798.5,245.71 L799.0,246.31 L799.5,246.84 L800.0,247.30 L800.5,247.71 L801.0,248.06 L801.5,248.35 L802.0,248.61 L802.5,248.82 L803.0,248.99 L803.5,249.14 L804.0,249.26 L804.5,249.35 L805.0,249.43 L805.5,249.49 L806.0,249.54 L806.5,249.58 L807.0,249.61 L807.5,249.63 L808.0,249.65 L808.5,249.66 L809.0,249.67 L809.5,249.68 L810.0,249.69 L810.5,249.69 L811.0,249.69 L811.5,249.69 L812.0,249.70 L812.5,249.70 L813.0,249.70 L813.5,249.70 L814.0,249.70 L814.5,249.70 L815.0,249.70 L815.5,249.70 L816.0,249.70 L816.5,249.70 L817.0,249.70 L817.5,249.70 L818.0,249.70 L818.5,249.70 L819.0,249.70 L819.5,249.70 L820.0,249.70 L820.5,249.70 L821.0,249.70 L821.5,249.70 L822.0,249.70 L822.5,249.70 L823.0,249.70 L823.5,249.70 L824.0,249.70 L824.5,249.70 L825.0,249.70 L825.5,249.70 L826.0,249.70 L826.5,249.70 L827.0,249.70 L827.5,249.70 L828.0,249.70 L828.5,249.70 L829.0,249.70 L829.5,249.70 L830.0,249.70 L830.5,249.70 L831.0,249.70 L831.5,249.70 L832.0,249.70 L832.5,249.70 L833.0,249.70 L833.5,249.70 L834.0,249.70 L834.5,249.70 L835.0,249.70 L835.5,249.70 L836.0,249.70 L836.5,249.70 L837.0,249.70 L837.5,249.70 L838.0,249.70 L838.5,249.70 L839.0,249.70 L839.5,249.70 L840.0,249.70 L840.5,249.70 L841.0,249.70 L841.5,249.70 L842.0,249.70 L842.5,249.70 L843.0,249.70 L843.5,249.70 L844.0,249.70 L844.5,249.70 L845.0,249.70 L845.5,249.70 L846.0,249.70 L846.5,249.70 L847.0,249.70 L847.5,249.70 L848.0,249.70 L848.5,249.70 L849.0,249.70 L849.5,249.70 L850.0,249.70 L850.5,249.70 L851.0,249.70 L851.5,249.70 L852.0,249.70 L852.5,249.70 L853.0,249.70 L853.5,249.70 L854.0,249.70 L854.5,249.70 L855.0,249.70 L855.5,249.70 L856.0,249.70 L856.5,249.70 L857.0,249.70 L857.5,249.69 L858.0,249.69 L858.5,249.69 L859.0,249.68 L859.5,249.68 L860.0,249.67 L860.5,249.66 L861.0,249.64 L861.5,249.62 L862.0,249.59 L862.5,249.56 L863.0,249.52 L863.5,249.46 L864.0,249.39 L864.5,249.31 L865.0,249.20 L865.5,249.07 L866.0,248.91 L866.5,248.72 L867.0,248.48 L867.5,248.20 L868.0,247.87 L868.5,247.49 L869.0,247.03 L869.5,246.51 L870.0,245.92 L870.5,245.24 L871.0,244.48 L871.5,243.63 L872.0,242.69 L872.5,241.66 L873.0,240.55 L873.5,239.35 L874.0,238.08 L874.5,236.74 L875.0,235.35 L875.5,233.92 L876.0,232.46 L876.5,231.00 L877.0,229.56 L877.5,228.16 L878.0,226.82 L878.5,225.56 L879.0,224.41 L879.5,223.39 L880.0,222.52 L880.5,221.81 L881.0,221.28 L881.5,220.94 L882.0,220.80 L882.5,220.86 L883.0,221.12 L883.5,221.58 L884.0,222.21 L884.5,223.02 L885.0,223.99 L885.5,225.09 L886.0,226.30 L886.5,227.61 L887.0,229.00 L887.5,230.42 L888.0,231.88 L888.5,233.34 L889.0,234.78 L889.5,236.19 L890.0,237.55 L890.5,238.85 L891.0,240.08 L891.5,241.23 L892.0,242.29 L892.5,243.27 L893.0,244.15 L893.5,244.95 L894.0,245.66 L894.5,246.28 L895.0,246.83 L895.5,247.31 L896.0,247.73 L896.5,248.08 L897.0,248.38 L897.5,248.63 L898.0,248.84 L898.5,249.01 L899.0,249.15 L899.5,249.27 L900.0,249.36 L900.5,249.44 L901.0,249.50 L901.5,249.54 L902.0,249.58 L902.5,249.61 L903.0,249.63 L903.5,249.65 L904.0,249.66 L904.5,249.67 L905.0,249.68 L905.5,249.69 L906.0,249.69 L906.5,249.69 L907.0,249.69 L907.5,249.70 L908.0,249.70 L908.5,249.70 L909.0,249.70 L909.5,249.70 L910.0,249.70 L910.5,249.70 L911.0,249.70 L911.5,249.70 L912.0,249.70 L912.5,249.70 L913.0,249.70 L913.5,249.70 L914.0,249.70 L914.5,249.70 L915.0,249.70 L915.5,249.70 L916.0,249.70 L916.5,249.70 L917.0,249.70 L917.5,249.70 L918.0,249.70 L918.5,249.70 L919.0,249.70 L919.5,249.70 L920.0,249.70 L920.5,249.70 L921.0,249.70 L921.5,249.70 L922.0,249.70 L922.5,249.70 L923.0,249.70 L923.5,249.70 L924.0,249.70 L924.5,249.70 L925.0,249.70 L925.5,249.70 L926.0,249.70 L926.5,249.70 L927.0,249.70 L927.5,249.70 L928.0,249.70 L928.5,249.70 L929.0,249.70 L929.5,249.70 L930.0,249.70 L930.5,249.70 L931.0,249.70 L931.5,249.70 L932.0,249.70 L932.5,249.70 L933.0,249.70 L933.5,249.70 L934.0,249.70 L934.5,249.70 L935.0,249.70 L935.5,249.70 L936.0,249.70 L936.5,249.70 L937.0,249.70 L937.5,249.70 L938.0,249.70 L938.5,249.70 L939.0,249.70 L939.5,249.70 L940.0,249.70 L940.5,249.70 L941.0,249.70 L941.5,249.70 L942.0,249.70 L942.5,249.70 L943.0,249.70 L943.5,249.70 L944.0,249.70 L944.5,249.70 L945.0,249.70 L945.5,249.70 L946.0,249.70 L946.5,249.70 L947.0,249.70 L947.5,249.70 L948.0,249.70 L948.5,249.70 L949.0,249.70 L949.5,249.70 L950.0,249.70 L950.5,249.70 L951.0,249.70 L951.5,249.70 L952.0,249.70 L952.5,249.70 L953.0,249.70 L953.5,249.70 L954.0,249.70 L954.5,249.70 L955.0,249.70 L955.5,249.70 L956.0,249.70 L956.5,249.70 L957.0,249.70 L957.5,249.70 L958.0,249.70 L958.5,249.70 L959.0,249.70 L959.5,249.70 L960.0,249.70 L960.5,249.70 L961.0,249.70 L961.5,249.70 L962.0,249.70 L962.5,249.70 L963.0,249.70 L963.5,249.70 L964.0,249.70 L964.5,249.70 L965.0,249.70 L965.5,249.70 L966.0,249.70 L966.5,249.70 L967.0,249.70 L967.5,249.70 L968.0,249.70 L968.5,249.70 L969.0,249.70 L969.5,249.70 L970.0,249.70 L970.5,249.70 L971.0,249.70 L971.5,249.70 L972.0,249.70 L972.5,249.70 L973.0,249.70 L973.5,249.70 L974.0,249.70 L974.5,249.70 L975.0,249.70 L975.5,249.70 L976.0,249.70 L976.5,249.70 L977.0,249.70 L977.5,249.70 L978.0,249.70 L978.5,249.70 L979.0,249.70 L979.5,249.70 L980.0,249.70 L980.5,249.70 L981.0,249.70 L981.5,249.70 L982.0,249.70 L982.5,249.70 L983.0,249.70 L983.5,249.70 L984.0,249.70 L984.5,249.70 L985.0,249.70" stroke="#0000ff"/>
<path d="M153.0,163.00 L153.5,163.00 L154.0,163.00 L154.5,163.00 L155.0,163.00 L155.5,163.00 L156.0,163.00 L156.5,163.00 L157.0,163.00 L157.5,163.00 L158.0,163.00 L158.5,163.00 L159.0,163.00 L159.5,163.00 L160.0,163.00 L160.5,163.00 L161.0,163.00 L161.5,163.00 L162.0,163.00 L162.5,163.00 L163.0,163.00 L163.5,163.00 L164.0,163.00 L164.5,163.00 L165.0,163.00 L165.5,163.00 L166.0,163.00 L166.5,163.00 L167.0,163.00 L167.5,163.00 L168.0,163.00 L168.5,163.00 L169.0,163.00 L169.5,163.00 L170.0,163.00 L170.5,163.00 L171.0,163.00 L171.5,163.00 L172.0,163.00 L172.5,163.00 L173.0,163.00 L173.5,163.00 L174.0,163.00 L174.5,163.00 L175.0,163.00 L175.5,163.00 L176.0,163.00 L176.5,163.00 L177.0,163.00 L177.5,163.00 L178.0,163.00 L178.5,163.00 L179.0,163.00 L179.5,163.00 L180.0,163.00 L180.5,163.00 L181.0,163.00 L181.5,163.00 L182.0,163.00 L182.5,163.00 L183.0,163.00 L183.5,163.00 L184.0,163.00 L184.5,163.00 L185.0,163.00 L185.5,163.00 L186.0,163.00 L186.5,163.00 L187.0,163.00 L187.5,163.00 L188.0,163.00 L188.5,163.00 L189.0,163.00 L189.5,163.00 L190.0,163.00 L190.5,163.00 L191.0,163.00 L191.5,163.00 L192.0,163.00 L192.5,163.00 L193.0,163.00 L193.5,163.00 L194.0,163.00 L194.5,163.00 L195.0,163.00 L195.5,163.00 L196.0,163.00 L196.5,163.00 L197.0,163.00 L197.5,163.00 L198.0,163.00 L198.5,163.00 L199.0,163.00 L199.5,163.00 L200.0,163.00 L200.5,163.00 L201.0,163.00 L201.5,163.00 L202.0,163.00 L202.5,163.00 L203.0,163.00 L203.5,163.00 L204.0,163.00 L204.5,163.00 L205.0,163.00 L205.5,163.00 L206.0,163.00 L206.5,163.00 L207.0,163.00 L207.5,163.00 L208.0,163.00 L208.5,163.00 L209.0,163.00 L209.5,163.00 L210.0,163.00 L210.5,163.00 L211.0,163.00 L211.5,163.00 L212.0,163.00 L212.5,163.00 L213.0,163.00 L213.5,163.00 L214.0,163.00 L214.5,163.00 L215.0,163.00 L215.5,163.00 L216.0,163.00 L216.5,163.00 L217.0,163.00 L217.5,163.00 L218.0,163.00 L218.5,163.00 L219.0,163.00 L219.5,163.00 L220.0,163.00 L220.5,163.00 L221.0,163.00 L221.5,163.00 L222.0,163.00 L222.5,163.00 L223.0,163.00 L223.5,163.00 L224.0,163.00 L224.5,163.00 L225.0,163.00 L225.5,163.00 L226.0,163.00 L226.5,163.00 L227.0,163.00 L227.5,163.00 L228.0,163.00 L228.5,163.00 L229.0,163.00 L229.5,163.00 L230.0,163.00 L230.5,163.00 L231.0,163.00 L231.5,163.00 L232.0,163.00 L232.5,163.00 L233.0,163.00 L233.5,163.00 L234.0,163.00 L234.5,163.00 L235.0,163.00 L235.5,163.00 L236.0,163.00 L236.5,163.00 L237.0,163.00 L237.5,163.00 L238.0,163.00 L238.5,163.00 L239.0,163.00 L239.5,163.00 L240.0,163.00 L240.5,163.00 L241.0,163.00 L241.5,163.00 L242.0,163.00 L242.5,163.00 L243.0,163.00 L243.5,163.00 L244.0,163.00 L244.5,163.00 L245.0,163.00 L245.5,163.00 L246.0,163.00 L246.5,163.00 L247.0,163.00 L247.5,163.00 L248.0,163.00 L248.5,163.00 L249.0,163.00 L249.5,163.00 L250.0,163.00 L250.5,163.00 L251.0,163.00 L251.5,163.00 L252.0,163.00 L252.5,163.00 L253.0,163.00 L253.5,163.00 L254.0,163.00 L254.5,163.00 L255.0,163.00 L255.5,163.00 L256.0,163.00 L256.5,163.00 L257.0,163.00 L257.5,163.00 L258.0,163.00 L258.5,163.00 L259.0,163.00 L259.5,163.00 L260.0,163.00 L260.5,163.00 L261.0,163.00 L261.5,163.00 L262.0,163.00 L262.5,163.00 L263.0,163.00 L263.5,163.00 L264.0,163.00 L264.5,163.00 L265.0,163.00 L265.5,163.00 L266.0,163.00 L266.5,163.00 L267.0,163.00 L267.5,163.00 L268.0,163.00 L268.5,163.00 L269.0,163.00 L269.5,163.00 L270.0,163.00 L270.5,163.00 L271.0,163.00 L271.5,163.00 L272.0,163.00 L272.5,163.00 L273.0,163.00 L273.5,163.00 L274.0,163.00 L274.5,163.00 L275.0,163.00 L275.5,163.00 L276.0,163.00 L276.5,163.00 L277.0,163.00 L277.5,163.00 L278.0,163.00 L278.5,163.00 L279.0,163.00 L279.5,163.00 L280.0,163.00 L280.5,163.00 L281.0,163.00 L281.5,163.00 L282.0,163.00 L282.5,163.00 L283.0,163.00 L283.5,163.00 L284.0,163.00 L284.5,163.00 L285.0,163.00 L285.5,163.00 L286.0,163.00 L286.5,163.00 L287.0,163.00 L287.5,163.00 L288.0,163.00 L288.5,163.00 L289.0,163.00 L289.5,163.00 L290.0,163.00 L290.5,163.00 L291.0,163.00 L291.5,163.00 L292.0,163.00 L292.5,163.00 L293.0,163.00 L293.5,163.00 L294.0,163.00 L294.5,163.00 L295.0,163.00 L295.5,163.00 L296.0,163.00 L296.5,163.00 L297.0,163.00 L297.5,163.00 L298.0,163.00 L298.5,163.00 L299.0,163.00 L299.5,163.00 L300.0,163.00 L300.5,163.00 L301.0,163.00 L301.5,163.00 L302.0,163.00 L302.5,163.00 L303.0,163.00 L303.5,163.00 L304.0,163.00 L304.5,163.00 L305.0,163.00 L305.5,163.00 L306.0,163.00 L306.5,163.00 L307.0,163.00 L307.5,163.00 L308.0,163.00 L308.5,163.00 L309.0,163.00 L309.5,163.00 L310.0,162.99 L310.5,162.99 L311.0,162.99 L311.5,162.99 L312.0,162.98 L312.5,162.97 L313.0,162.96 L313.5,162.95 L314.0,162.94 L314.5,162.92 L315.0,162.90 L315.5,162.87 L316.0,162.83 L316.5,162.79 L317.0,162.73 L317.5,162.66 L318.0,162.58 L318.5,162.48 L319.0,162.36 L319.5,162.22 L320.0,162.05 L320.5,161.86 L321.0,161.63 L321.5,161.37 L322.0,161.07 L322.5,160.74 L323.0,160.36 L323.5,159.94 L324.0,159.48 L324.5,158.97 L325.0,158.42 L325.5,157.82 L326.0,157.19 L326.5,156.53 L327.0,155.83 L327.5,155.11 L328.0,154.37 L328.5,153.63 L329.0,152.89 L329.5,152.16 L330.0,151.46 L330.5,150.79 L331.0,150.16 L331.5,149.59 L332.0,149.08 L332.5,148.65 L333.0,148.30 L333.5,148.04 L334.0,147.87 L334.5,147.80 L335.0,147.83 L335.5,147.96 L336.0,148.18 L336.5,148.50 L337.0,148.90 L337.5,149.38 L338.0,149.92 L338.5,150.53 L339.0,151.18 L339.5,151.88 L340.0,152.60 L340.5,153.33 L341.0,154.08 L341.5,154.82 L342.0,155.54 L342.5,156.25 L343.0,156.93 L343.5,157.58 L344.0,158.18 L344.5,158.75 L345.0,159.28 L345.5,159.76 L346.0,160.20 L346.5,160.59 L347.0,160.94 L347.5,161.26 L348.0,161.53 L348.5,161.77 L349.0,161.98 L349.5,162.15 L350.0,162.30 L350.5,162.43 L351.0,162.54 L351.5,162.63 L352.0,162.70 L352.5,162.76 L353.0,162.81 L353.5,162.85 L354.0,162.89 L354.5,162.91 L355.0,162.93 L355.5,162.95 L356.0,162.96 L356.5,162.97 L357.0,162.98 L357.5,162.98 L358.0,162.99 L358.5,162.99 L359.0,162.99 L359.5,163.00 L360.0,163.00 L360.5,163.00 L361.0,163.00 L361.5,163.00 L362.0,163.00 L362.5,163.00 L363.0,163.00 L363.5,163.00 L364.0,163.00 L364.5,163.00 L365.0,163.00 L365.5,163.00 L366.0,163.00 L366.5,163.00 L367.0,163.00 L367.5,163.00 L368.0,163.00 L368.5,163.00 L369.0,163.00 L369.5,163.00 L370.0,163.00 L370.5,163.00 L371.0,163.00 L371.5,163.00 L372.0,163.00 L372.5,163.00 L373.0,163.00 L373.5,163.00 L374.0,163.00 L374.5,163.00 L375.0,163.00 L375.5,163.00 L376.0,163.00 L376.5,163.00 L377.0,163.00 L377.5,163.00 L378.0,163.00 L378.5,163.00 L379.0,163.00 L379.5,163.00 L380.0,163.00 L380.5,163.00 L381.0,163.00 L381.5,163.00 L382.0,163.00 L382.5,163.00 L383.0,163.00 L383.5,163.00 L384.0,163.00 L384.5,163.00 L385.0,163.00 L385.5,163.00 L386.0,163.00 L386.5,163.00 L387.0,163.00 L387.5,163.00 L388.0,163.00 L388.5,163.00 L389.0,163.00 L389.5,163.00 L390.0,163.00 L390.5,163.00 L391.0,163.00 L391.5,163.00 L392.0,163.00 L392.5,163.00 L393.0,163.00 L393.5,163.00 L394.0,163.00 L394.5,163.00 L395.0,163.00 L395.5,163.00 L396.0,163.00 L396.5,163.00 L397.0,163.00 L397.5,163.00 L398.0,163.00 L398.5,162.99 L399.0,162.99 L399.5,162.99 L400.0,162.99 L400.5,162.98 L401.0,162.97 L401.5,162.96 L402.0,162.95 L402.5,162.93 L403.0,162.91 L403.5,162.88 L404.0,162.84 L404.5,162.79 L405.0,162.73 L405.5,162.65 L406.0,162.56 L406.5,162.43 L407.0,162.28 L407.5,162.10 L408.0,161.87 L408.5,161.60 L409.0,161.27 L409.5,160.87 L410.0,160.41 L410.5,159.86 L411.0,159.22 L411.5,158.47 L412.0,157.61 L412.5,156.64 L413.0,155.53 L413.5,154.28 L414.0,152.89 L414.5,151.35 L415.0,149.66 L415.5,147.82 L416.0,145.84 L416.5,143.72 L417.0,141.47 L417.5,139.11 L418.0,136.66 L418.5,134.14 L419.0,131.58 L419.5,129.01 L420.0,126.45 L420.5,123.95 L421.0,121.55 L421.5,119.27 L422.0,117.15 L422.5,115.23 L423.0,113.55 L423.5,112.13 L424.0,111.00 L424.5,110.17 L425.0,109.67 L425.5,109.50 L426.0,109.67 L426.5,110.17 L427.0,111.00 L427.5,112.13 L428.0,113.55 L428.5,115.23 L429.0,117.15 L429.5,119.27 L430.0,121.55 L430.5,123.95 L431.0,126.45 L431.5,129.01 L432.0,131.58 L432.5,134.14 L433.0,136.66 L433.5,139.11 L434.0,141.47 L434.5,143.72 L435.0,145.84 L435.5,147.82 L436.0,149.66 L436.5,151.35 L437.0,152.89 L437.5,154.28 L438.0,155.53 L438.5,156.64 L439.0,157.61 L439.5,158.47 L440.0,159.22 L440.5,159.86 L441.0,160.41 L441.5,160.87 L442.0,161.27 L442.5,161.60 L443.0,161.87 L443.5,162.10 L444.0,162.28 L444.5,162.43 L445.0,162.56 L445.5,162.65 L446.0,162.73 L446.5,162.79 L447.0,162.84 L447.5,162.88 L448.0,162.91 L448.5,162.93 L449.0,162.95 L449.5,162.96 L450.0,162.97 L450.5,162.98 L451.0,162.99 L451.5,162.99 L452.0,162.99 L452.5,162.99 L453.0,163.00 L453.5,163.00 L454.0,163.00 L454.5,163.00 L455.0,163.00 L455.5,163.00 L456.0,163.00 L456.5,163.00 L457.0,163.00 L457.5,163.00 L458.0,163.00 L458.5,163.00 L459.0,163.00 L459.5,163.00 L460.0,163.00 L460.5,163.00 L461.0,163.00 L461.5,163.00 L462.0,163.00 L462.5,163.00 L463.0,163.00 L463.5,163.00 L464.0,163.00 L464.5,163.00 L465.0,163.00 L465.5,163.00 L466.0,163.00 L466.5,163.00 L467.0,163.00 L467.5,163.00 L468.0,163.00 L468.5,163.00 L469.0,163.00 L469.5,163.00 L470.0,163.00 L470.5,163.00 L471.0,163.00 L471.5,163.00 L472.0,163.00 L472.5,163.00 L473.0,163.00 L473.5,163.00 L474.0,163.00 L474.5,163.00 L475.0,163.00 L475.5,163.00 L476.0,163.00 L476.5,163.00 L477.0,163.00 L477.5,163.00 L478.0,163.00 L478.5,163.00 L479.0,163.00 L479.5,163.00 L480.0,163.00 L480.5,163.00 L481.0,163.00 L481.5,163.00 L482.0,163.00 L482.5,163.00 L483.0,163.00 L483.5,163.00 L484.0,163.00 L484.5,163.00 L485.0,163.00 L485.5,163.00 L486.0,163.00 L486.5,163.00 L487.0,163.00 L487.5,163.00 L488.0,163.00 L488.5,163.00 L489.0,163.00 L489.5,163.00 L490.0,163.00 L490.5,163.00 L491.0,163.00 L491.5,163.00 L492.0,163.00 L492.5,163.00 L493.0,163.00 L493.5,163.00 L494.0,163.00 L494.5,163.00 L495.0,163.00 L495.5,163.00 L496.0,163.00 L496.5,163.00 L497.0,163.00 L497.5,163.00 L498.0,163.00 L498.5,163.00 L499.0,163.00 L499.5,163.00 L500.0,163.00 L500.5,163.00 L501.0,163.00 L501.5,163.00 L502.0,163.00 L502.5,163.00 L503.0,163.00 L503.5,163.00 L504.0,163.00 L504.5,163.00 L505.0,163.00 L505.5,163.00 L506.0,163.00 L506.5,163.00 L507.0,163.00 L507.5,163.00 L508.0,163.00 L508.5,163.00 L509.0,163.00 L509.5,163.00 L510.0,163.00 L510.5,163.00 L511.0,163.00 L511.5,163.00 L512.0,163.00 L512.5,163.00 L513.0,163.00 L513.5,163.00 L514.0,163.00 L514.5,163.00 L515.0,163.00 L515.5,163.00 L516.0,163.00 L516.5,163.00 L517.0,163.00 L517.5,163.00 L518.0,163.00 L518.5,163.00 L519.0,163.00 L519.5,163.00 L520.0,163.00 L520.5,163.00 L521.0,163.00 L521.5,163.00 L522.0,163.00 L522.5,163.00 L523.0,163.00 L523.5,163.00 L524.0,163.00 L524.5,163.00 L525.0,163.00 L525.5,163.00 L526.0,163.00 L526.5,163.00 L527.0,163.00 L527.5,163.00 L528.0,163.00 L528.5,163.00 L529.0,163.00 L529.5,163.00 L530.0,163.00 L530.5,162.99 L531.0,162.99 L531.5,162.99 L532.0,162.98 L532.5,162.98 L533.0,162.97 L533.5,162.96 L534.0,162.95 L534.5,162.93 L535.0,162.91 L535.5,162.89 L536.0,162.86 L536.5,162.82 L537.0,162.77 L537.5,162.71 L538.0,162.64 L538.5,162.56 L539.0,162.46 L539.5,162.34 L540.0,162.20 L540.5,162.04 L541.0,161.86 L541.5,161.65 L542.0,161.41 L542.5,161.14 L543.0,160.84 L543.5,160.51 L544.0,160.14 L544.5,159.75 L545.0,159.33 L545.5,158.89 L546.0,158.42 L546.5,157.94 L547.0,157.44 L547.5,156.93 L548.0,156.43 L548.5,155.93 L549.0,155.45 L549.5,154.99 L550.0,154.56 L550.5,154.18 L551.0,153.83 L551.5,153.54 L552.0,153.31 L552.5,153.14 L553.0,153.03 L553.5,153.00 L554.0,153.03 L554.5,153.14 L555.0,153.31 L555.5,153.54 L556.0,153.83 L556.5,154.18 L557.0,154.56 L557.5,154.99 L558.0,155.45 L558.5,155.93 L559.0,156.43 L559.5,156.93 L560.0,157.44 L560.5,157.94 L561.0,158.42 L561.5,158.89 L562.0,159.33 L562.5,159.75 L563.0,160.14 L563.5,160.51 L564.0,160.84 L564.5,161.14 L565.0,161.41 L565.5,161.65 L566.0,161.86 L566.5,162.04 L567.0,162.20 L567.5,162.34 L568.0,162.46 L568.5,162.56 L569.0,162.64 L569.5,162.71 L570.0,162.77 L570.5,162.82 L571.0,162.86 L571.5,162.89 L572.0,162.91 L572.5,162.93 L573.0,162.95 L573.5,162.96 L574.0,162.97 L574.5,162.98 L575.0,162.98 L575.5,162.99 L576.0,162.99 L576.5,162.99 L577.0,163.00 L577.5,163.00 L578.0,163.00 L578.5,163.00 L579.0,163.00 L579.5,163.00 L580.0,163.00 L580.5,163.00 L581.0,163.00 L581.5,163.00 L582.0,163.00 L582.5,163.00 L583.0,163.00 L583.5,163.00 L584.0,163.00 L584.5,163.00 L585.0,163.00 L585.5,163.00 L586.0,163.00 L586.5,163.00 L587.0,163.00 L587.5,163.00 L588.0,163.00 L588.5,163.00 L589.0,163.00 L589.5,163.00 L590.0,163.00 L590.5,163.00 L591.0,163.00 L591.5,163.00 L592.0,163.00 L592.5,163.00 L593.0,163.00 L593.5,163.00 L594.0,163.00 L594.5,163.00 L595.0,163.00 L595.5,163.00 L596.0,163.00 L596.5,163.00 L597.0,163.00 L597.5,163.00 L598.0,163.00 L598.5,163.00 L599.0,163.00 L599.5,163.00 L600.0,163.00 L600.5,163.00 L601.0,163.00 L601.5,163.00 L602.0,163.00 L602.5,163.00 L603.0,163.00 L603.5,163.00 L604.0,163.00 L604.5,163.00 L605.0,163.00 L605.5,163.00 L606.0,163.00 L606.5,163.00 L607.0,163.00 L607.5,163.00 L608.0,163.00 L608.5,163.00 L609.0,163.00 L609.5,163.00 L610.0,163.00 L610.5,163.00 L611.0,163.00 L611.5,163.00 L612.0,163.00 L612.5,163.00 L613.0,163.00 L613.5,163.00 L614.0,163.00 L614.5,163.00 L615.0,163.00 L615.5,163.00 L616.0,163.00 L616.5,163.00 L617.0,163.00 L617.5,163.00 L618.0,163.00 L618.5,163.00 L619.0,163.00 L619.5,163.00 L620.0,163.00 L620.5,163.00 L621.0,163.00 L621.5,163.00 L622.0,163.00 L622.5,163.00 L623.0,163.00 L623.5,163.00 L624.0,163.00 L624.5,163.00 L625.0,163.00 L625.5,163.00 L626.0,163.00 L626.5,163.00 L627.0,163.00 L627.5,163.00 L628.0,163.00 L628.5,163.00 L629.0,163.00 L629.5,163.00 L630.0,163.00 L630.5,163.00 L631.0,163.00 L631.5,163.00 L632.0,163.00 L632.5,163.00 L633.0,163.00 L633.5,163.00 L634.0,163.00 L634.5,163.00 L635.0,163.00 L635.5,163.00 L636.0,163.00 L636.5,163.00 L637.0,163.00 L637.5,163.00 L638.0,163.00 L638.5,163.00 L639.0,163.00 L639.5,163.00 L640.0,163.00 L640.5,163.00 L641.0,163.00 L641.5,163.00 L642.0,163.00 L642.5,163.00 L643.0,163.00 L643.5,163.00 L644.0,163.00 L644.5,163.00 L645.0,163.00 L645.5,163.00 L646.0,163.00 L646.5,163.00 L647.0,163.00 L647.5,163.00 L648.0,163.00 L648.5,163.00 L649.0,163.00 L649.5,163.00 L650.0,163.00 L650.5,163.00 L651.0,163.00 L651.5,163.00 L652.0,163.00 L652.5,163.00 L653.0,163.00 L653.5,163.00 L654.0,163.00 L654.5,163.00 L655.0,163.00 L655.5,163.00 L656.0,163.00 L656.5,163.00 L657.0,163.00 L657.5,163.00 L658.0,163.00 L658.5,163.00 L659.0,163.00 L659.5,163.00 L660.0,163.00 L660.5,163.00 L661.0,163.00 L661.5,163.00 L662.0,163.00 L662.5,163.00 L663.0,163.00 L663.5,163.00 L664.0,163.00 L664.5,163.00 L665.0,163.00 L665.5,163.00 L666.0,163.00 L666.5,163.00 L667.0,163.00 L667.5,163.00 L668.0,163.00 L668.5,163.00 L669.0,163.00 L669.5,163.00 L670.0,163.00 L670.5,163.00 L671.0,163.00 L671.5,163.00 L672.0,163.00 L672.5,163.00 L673.0,163.00 L673.5,163.00 L674.0,163.00 L674.5,163.00 L675.0,163.00 L675.5,163.00 L676.0,163.00 L676.5,163.00 L677.0,163.00 L677.5,163.00 L678.0,163.00 L678.5,163.00 L679.0,163.00 L679.5,163.00 L680.0,163.00 L680.5,163.00 L681.0,163.00 L681.5,163.00 L682.0,163.00 L682.5,163.00 L683.0,163.00 L683.5,163.00 L684.0,163.00 L684.5,163.00 L685.0,163.00 L685.5,163.00 L686.0,163.00 L686.5,163.00 L687.0,163.00 L687.5,163.00 L688.0,163.00 L688.5,163.00 L689.0,163.00 L689.5,163.00 L690.0,163.00 L690.5,163.00 L691.0,163.00 L691.5,163.00 L692.0,163.00 L692.5,163.00 L693.0,163.00 L693.5,163.00 L694.0,163.00 L694.5,163.00 L695.0,163.00 L695.5,163.00 L696.0,163.00 L696.5,163.00 L697.0,163.00 L697.5,163.00 L698.0,163.00 L698.5,163.00 L699.0,163.00 L699.5,163.00 L700.0,163.00 L700.5,163.00 L701.0,163.00 L701.5,163.00 L702.0,163.00 L702.5,163.00 L703.0,163.00 L703.5,163.00 L704.0,163.00 L704.5,163.00 L705.0,163.00 L705.5,163.00 L706.0,163.00 L706.5,163.00 L707.0,163.00 L707.5,163.00 L708.0,162.99 L708.5,162.99 L709.0,162.99 L709.5,162.99 L710.0,162.98 L710.5,162.97 L711.0,162.97 L711.5,162.96 L712.0,162.94 L712.5,162.92 L713.0,162.90 L713.5,162.87 L714.0,162.84 L714.5,162.79 L715.0,162.74 L715.5,162.68 L716.0,162.60 L716.5,162.51 L717.0,162.40 L717.5,162.28 L718.0,162.14 L718.5,161.99 L719.0,161.81 L719.5,161.61 L720.0,161.39 L720.5,161.16 L721.0,160.91 L721.5,160.64 L722.0,160.36 L722.5,160.08 L723.0,159.79 L723.5,159.49 L724.0,159.21 L724.5,158.93 L725.0,158.67 L725.5,158.43 L726.0,158.22 L726.5,158.04 L727.0,157.89 L727.5,157.79 L728.0,157.72 L728.5,157.70 L729.0,157.72 L729.5,157.79 L730.0,157.89 L730.5,158.04 L731.0,158.22 L731.5,158.43 L732.0,158.67 L732.5,158.93 L733.0,159.21 L733.5,159.49 L734.0,159.79 L734.5,160.08 L735.0,160.36 L735.5,160.64 L736.0,160.91 L736.5,161.16 L737.0,161.39 L737.5,161.61 L738.0,161.81 L738.5,161.99 L739.0,162.14 L739.5,162.28 L740.0,162.40 L740.5,162.51 L741.0,162.60 L741.5,162.68 L742.0,162.74 L742.5,162.79 L743.0,162.84 L743.5,162.87 L744.0,162.90 L744.5,162.92 L745.0,162.94 L745.5,162.96 L746.0,162.97 L746.5,162.97 L747.0,162.98 L747.5,162.99 L748.0,162.99 L748.5,162.99 L749.0,162.99 L749.5,163.00 L750.0,163.00 L750.5,163.00 L751.0,163.00 L751.5,163.00 L752.0,163.00 L752.5,163.00 L753.0,163.00 L753.5,163.00 L754.0,163.00 L754.5,163.00 L755.0,163.00 L755.5,163.00 L756.0,163.00 L756.5,163.00 L757.0,163.00 L757.5,163.00 L758.0,163.00 L758.5,163.00 L759.0,163.00 L759.5,163.00 L760.0,163.00 L760.5,163.00 L761.0,163.00 L761.5,163.00 L762.0,163.00 L762.5,163.00 L763.0,163.00 L763.5,163.00 L764.0,163.00 L764.5,163.00 L765.0,162.99 L765.5,162.99 L766.0,162.99 L766.5,162.98 L767.0,162.97 L767.5,162.97 L768.0,162.95 L768.5,162.94 L769.0,162.92 L769.5,162.89 L770.0,162.86 L770.5,162.81 L771.0,162.76 L771.5,162.69 L772.0,162.61 L772.5,162.51 L773.0,162.38 L773.5,162.23 L774.0,162.05 L774.5,161.84 L775.0,161.59 L775.5,161.30 L776.0,160.96 L776.5,160.58 L777.0,160.14 L777.5,159.65 L778.0,159.11 L778.5,158.51 L779.0,157.85 L779.5,157.15 L780.0,156.40 L780.5,155.60 L781.0,154.77 L781.5,153.92 L782.0,153.05 L782.5,152.17 L783.0,151.31 L783.5,150.48 L784.0,149.68 L784.5,148.94 L785.0,148.26 L785.5,147.67 L786.0,147.17 L786.5,146.78 L787.0,146.50 L787.5,146.34 L788.0,146.30 L788.5,146.39 L789.0,146.60 L789.5,146.92 L790.0,147.36 L790.5,147.90 L791.0,148.52 L791.5,149.23 L792.0,149.99 L792.5,150.81 L793.0,151.65 L793.5,152.52 L794.0,153.39 L794.5,154.26 L795.0,155.11 L795.5,155.92 L796.0,156.70 L796.5,157.44 L797.0,158.12 L797.5,158.76 L798.0,159.33 L798.5,159.86 L799.0,160.32 L799.5,160.74 L800.0,161.10 L800.5,161.42 L801.0,161.70 L801.5,161.93 L802.0,162.13 L802.5,162.30 L803.0,162.44 L803.5,162.55 L804.0,162.65 L804.5,162.72 L805.0,162.78 L805.5,162.83 L806.0,162.87 L806.5,162.90 L807.0,162.93 L807.5,162.94 L808.0,162.96 L808.5,162.97 L809.0,162.98 L809.5,162.98 L810.0,162.99 L810.5,162.99 L811.0,162.99 L811.5,163.00 L812.0,163.00 L812.5,163.00 L813.0,163.00 L813.5,163.00 L814.0,163.00 L814.5,163.00 L815.0,163.00 L815.5,163.00 L816.0,163.00 L816.5,163.00 L817.0,163.00 L817.5,163.00 L818.0,163.00 L818.5,163.00 L819.0,163.00 L819.5,163.00 L820.0,163.00 L820.5,163.00 L821.0,163.00 L821.5,163.00 L822.0,163.00 L822.5,163.00 L823.0,163.00 L823.5,163.00 L824.0,163.00 L824.5,163.00 L825.0,163.00 L825.5,163.00 L826.0,163.00 L826.5,163.00 L827.0,163.00 L827.5,163.00 L828.0,163.00 L828.5,163.00 L829.0,163.00 L829.5,163.00 L830.0,163.00 L830.5,163.00 L831.0,163.00 L831.5,163.00 L832.0,163.00 L832.5,163.00 L833.0,163.00 L833.5,163.00 L834.0,163.00 L834.5,163.00 L835.0,163.00 L835.5,163.00 L836.0,163.00 L836.5,163.00 L837.0,163.00 L837.5,163.00 L838.0,163.00 L838.5,163.00 L839.0,163.00 L839.5,163.00 L840.0,163.00 L840.5,163.00 L841.0,163.00 L841.5,163.00 L842.0,163.00 L842.5,163.00 L843.0,163.00 L843.5,163.00 L844.0,163.00 L844.5,163.00 L845.0,163.00 L845.5,163.00 L846.0,163.00 L846.5,163.00 L847.0,163.00 L847.5,163.00 L848.0,163.00 L848.5,163.00 L849.0,163.00 L849.5,163.00 L850.0,163.00 L850.5,163.00 L851.0,163.00 L851.5,163.00 L852.0,163.00 L852.5,163.00 L853.0,163.00 L853.5,163.00 L854.0,163.00 L854.5,163.00 L855.0,163.00 L855.5,163.00 L856.0,163.00 L856.5,163.00 L857.0,163.00 L857.5,163.00 L858.0,162.99 L858.5,162.99 L859.0,162.99 L859.5,162.98 L860.0,162.98 L860.5,162.97 L861.0,162.96 L861.5,162.94 L862.0,162.92 L862.5,162.89 L863.0,162.86 L863.5,162.82 L864.0,162.77 L864.5,162.70 L865.0,162.62 L865.5,162.53 L866.0,162.40 L866.5,162.26 L867.0,162.08 L867.5,161.87 L868.0,161.62 L868.5,161.33 L869.0,160.99 L869.5,160.60 L870.0,160.15 L870.5,159.64 L871.0,159.06 L871.5,158.42 L872.0,157.71 L872.5,156.94 L873.0,156.10 L873.5,155.20 L874.0,154.24 L874.5,153.23 L875.0,152.18 L875.5,151.10 L876.0,150.00 L876.5,148.90 L877.0,147.81 L877.5,146.75 L878.0,145.74 L878.5,144.79 L879.0,143.92 L879.5,143.15 L880.0,142.50 L880.5,141.96 L881.0,141.56 L881.5,141.31 L882.0,141.20 L882.5,141.25 L883.0,141.44 L883.5,141.79 L884.0,142.27 L884.5,142.88 L885.0,143.60 L885.5,144.43 L886.0,145.35 L886.5,146.34 L887.0,147.38 L887.5,148.46 L888.0,149.56 L888.5,150.66 L889.0,151.75 L889.5,152.81 L890.0,153.84 L890.5,154.82 L891.0,155.74 L891.5,156.61 L892.0,157.41 L892.5,158.15 L893.0,158.81 L893.5,159.41 L894.0,159.95 L894.5,160.42 L895.0,160.84 L895.5,161.20 L896.0,161.51 L896.5,161.78 L897.0,162.00 L897.5,162.19 L898.0,162.35 L898.5,162.48 L899.0,162.59 L899.5,162.67 L900.0,162.75 L900.5,162.80 L901.0,162.85 L901.5,162.88 L902.0,162.91 L902.5,162.93 L903.0,162.95 L903.5,162.96 L904.0,162.97 L904.5,162.98 L905.0,162.99 L905.5,162.99 L906.0,162.99 L906.5,162.99 L907.0,163.00 L907.5,163.00 L908.0,163.00 L908.5,163.00 L909.0,163.00 L909.5,163.00 L910.0,163.00 L910.5,163.00 L911.0,163.00 L911.5,163.00 L912.0,163.00 L912.5,163.00 L913.0,163.00 L913.5,163.00 L914.0,163.00 L914.5,163.00 L915.0,163.00 L915.5,163.00 L916.0,163.00 L916.5,163.00 L917.0,163.00 L917.5,163.00 L918.0,163.00 L918.5,163.00 L919.0,163.00 L919.5,163.00 L920.0,163.00 L920.5,163.00 L921.0,163.00 L921.5,163.00 L922.0,163.00 L922.5,163.00 L923.0,163.00 L923.5,163.00 L924.0,163.00 L924.5,163.00 L925.0,163.00 L925.5,163.00 L926.0,163.00 L926.5,163.00 L927.0,163.00 L927.5,163.00 L928.0,163.00 L928.5,163.00 L929.0,163.00 L929.5,163.00 L930.0,163.00 L930.5,163.00 L931.0,163.00 L931.5,163.00 L932.0,163.00 L932.5,163.00 L933.0,163.00 L933.5,163.00 L934.0,163.00 L934.5,163.00 L935.0,163.00 L935.5,163.00 L936.0,163.00 L936.5,163.00 L937.0,163.00 L937.5,163.00 L938.0,163.00 L938.5,163.00 L939.0,163.00 L939.5,163.00 L940.0,163.00 L940.5,163.00 L941.0,163.00 L941.5,163.00 L942.0,163.00 L942.5,163.00 L943.0,163.00 L943.5,163.00 L944.0,163.00 L944.5,163.00 L945.0,163.00 L945.5,163.00 L946.0,163.00 L946.5,163.00 L947.0,163.00 L947.5,163.00 L948.0,163.00 L948.5,163.00 L949.0,163.00 L949.5,163.00 L950.0,163.00 L950.5,163.00 L951.0,163.00 L951.5,163.00 L952.0,163.00 L952.5,163.00 L953.0,163.00 L953.5,163.00 L954.0,163.00 L954.5,163.00 L955.0,163.00 L955.5,163.00 L956.0,163.00 L956.5,163.00 L957.0,163.00 L957.5,163.00 L958.0,163.00 L958.5,163.00 L959.0,163.00 L959.5,163.00 L960.0,163.00 L960.5,163.00 L961.0,163.00 L961.5,163.00 L962.0,163.00 L962.5,163.00 L963.0,163.00 L963.5,163.00 L964.0,163.00 L964.5,163.00 L965.0,163.00 L965.5,163.00 L966.0,163.00 L966.5,163.00 L967.0,163.00 L967.5,163.00 L968.0,163.00 L968.5,163.00 L969.0,163.00 L969.5,163.00 L970.0,163.00 L970.5,163.00 L971.0,163.00 L971.5,163.00 L972.0,163.00 L972.5,163.00 L973.0,163.00 L973.5,163.00 L974.0,163.00 L974.5,163.00 L975.0,163.00 L975.5,163.00 L976.0,163.00 L976.5,163.00 L977.0,163.00 L977.5,163.00 L978.0,163.00 L978.5,163.00 L979.0,163.00 L979.5,163.00 L980.0,163.00 L980.5,163.00 L981.0,163.00 L981.5,163.00 L982.0,163.00 L982.5,163.00 L983.0,163.00 L983.5,163.00 L984.0,163.00 L984.5,163.00 L985.0,163.00" stroke="#ff00ff"/>
</g>
<g transform="translate(0,25.70) scale(1,1.035)">
<text x="59.71" y="0" font-family="Liberation Sans, sans-serif" stroke="#000" stroke-width="0.3" font-size="28.5">2x</text>
<path d="M583,0 L763,0 L763,1466 L646,1466 Q560,1270 223,1090 L223,870 Q470,990 583,1150 Z" stroke="#000" stroke-width="0.3" vector-effect="non-scaling-stroke" transform="translate(89.81,0) scale(0.01392,-0.01392)"/>
<text x="105.65" y="0" font-family="Liberation Sans, sans-serif" stroke="#000" stroke-width="0.3" font-size="28.5">0</text>
</g>
<text transform="translate(122.1,11.80) scale(1,1.035)" font-family="Liberation Sans, sans-serif" stroke="#000" stroke-width="0.3" font-size="15.6">5</text>
<g transform="translate(0,96.75) scale(1,1.035)">
<text x="59.71" y="0" font-family="Liberation Sans, sans-serif" stroke="#000" stroke-width="0.3" font-size="28.5">2x</text>
<path d="M583,0 L763,0 L763,1466 L646,1466 Q560,1270 223,1090 L223,870 Q470,990 583,1150 Z" stroke="#000" stroke-width="0.3" vector-effect="non-scaling-stroke" transform="translate(89.81,0) scale(0.01392,-0.01392)"/>
<text x="105.65" y="0" font-family="Liberation Sans, sans-serif" stroke="#000" stroke-width="0.3" font-size="28.5">0</text>
</g>
<text transform="translate(122.1,82.85) scale(1,1.035)" font-family="Liberation Sans, sans-serif" stroke="#000" stroke-width="0.3" font-size="15.6">5</text>
<g transform="translate(0,167.80) scale(1,1.035)">
<text x="59.71" y="0" font-family="Liberation Sans, sans-serif" stroke="#000" stroke-width="0.3" font-size="28.5">2x</text>
<path d="M583,0 L763,0 L763,1466 L646,1466 Q560,1270 223,1090 L223,870 Q470,990 583,1150 Z" stroke="#000" stroke-width="0.3" vector-effect="non-scaling-stroke" transform="translate(89.81,0) scale(0.01392,-0.01392)"/>
<text x="105.65" y="0" font-family="Liberation Sans, sans-serif" stroke="#000" stroke-width="0.3" font-size="28.5">0</text>
</g>
<text transform="translate(122.1,153.90) scale(1,1.035)" font-family="Liberation Sans, sans-serif" stroke="#000" stroke-width="0.3" font-size="15.6">5</text>
<g transform="translate(0,238.85) scale(1,1.035)">
<text x="59.71" y="0" font-family="Liberation Sans, sans-serif" stroke="#000" stroke-width="0.3" font-size="28.5">2x</text>
<path d="M583,0 L763,0 L763,1466 L646,1466 Q560,1270 223,1090 L223,870 Q470,990 583,1150 Z" stroke="#000" stroke-width="0.3" vector-effect="non-scaling-stroke" transform="translate(89.81,0) scale(0.01392,-0.01392)"/>
<text x="105.65" y="0" font-family="Liberation Sans, sans-serif" stroke="#000" stroke-width="0.3" font-size="28.5">0</text>
</g>
<text transform="translate(122.1,224.95) scale(1,1.035)" font-family="Liberation Sans, sans-serif" stroke="#000" stroke-width="0.3" font-size="15.6">5</text>
<g transform="translate(0,309.90) scale(1,1.035)">
<path d="M583,0 L763,0 L763,1466 L646,1466 Q560,1270 223,1090 L223,870 Q470,990 583,1150 Z" stroke="#000" stroke-width="0.3" vector-effect="non-scaling-stroke" transform="translate(59.71,0) scale(0.01392,-0.01392)"/>
<text x="75.56" y="0" font-family="Liberation Sans, sans-serif" stroke="#000" stroke-width="0.3" font-size="28.5">x</text>
<path d="M583,0 L763,0 L763,1466 L646,1466 Q560,1270 223,1090 L223,870 Q470,990 583,1150 Z" stroke="#000" stroke-width="0.3" vector-effect="non-scaling-stroke" transform="translate(89.81,0) scale(0.01392,-0.01392)"/>
<text x="105.65" y="0" font-family="Liberation Sans, sans-serif" stroke="#000" stroke-width="0.3" font-size="28.5">0</text>
</g>
<text transform="translate(122.1,296.00) scale(1,1.035)" font-family="Liberation Sans, sans-serif" stroke="#000" stroke-width="0.3" font-size="15.6">5</text>
<g transform="translate(0,380.95) scale(1,1.035)">
<path d="M583,0 L763,0 L763,1466 L646,1466 Q560,1270 223,1090 L223,870 Q470,990 583,1150 Z" stroke="#000" stroke-width="0.3" vector-effect="non-scaling-stroke" transform="translate(59.71,0) scale(0.01392,-0.01392)"/>
<text x="75.56" y="0" font-family="Liberation Sans, sans-serif" stroke="#000" stroke-width="0.3" font-size="28.5">x</text>
<path d="M583,0 L763,0 L763,1466 L646,1466 Q560,1270 223,1090 L223,870 Q470,990 583,1150 Z" stroke="#000" stroke-width="0.3" vector-effect="non-scaling-stroke" transform="translate(89.81,0) scale(0.01392,-0.01392)"/>
<text x="105.65" y="0" font-family="Liberation Sans, sans-serif" stroke="#000" stroke-width="0.3" font-size="28.5">0</text>
</g>
<text transform="translate(122.1,367.05) scale(1,1.035)" font-family="Liberation Sans, sans-serif" stroke="#000" stroke-width="0.3" font-size="15.6">5</text>
<g transform="translate(0,452.00) scale(1,1.035)">
<path d="M583,0 L763,0 L763,1466 L646,1466 Q560,1270 223,1090 L223,870 Q470,990 583,1150 Z" stroke="#000" stroke-width="0.3" vector-effect="non-scaling-stroke" transform="translate(59.71,0) scale(0.01392,-0.01392)"/>
<text x="75.56" y="0" font-family="Liberation Sans, sans-serif" stroke="#000" stroke-width="0.3" font-size="28.5">x</text>
<path d="M583,0 L763,0 L763,1466 L646,1466 Q560,1270 223,1090 L223,870 Q470,990 583,1150 Z" stroke="#000" stroke-width="0.3" vector-effect="non-scaling-stroke" transform="translate(89.81,0) scale(0.01392,-0.01392)"/>
<text x="105.65" y="0" font-family="Liberation Sans, sans-serif" stroke="#000" stroke-width="0.3" font-size="28.5">0</text>
</g>
<text transform="translate(122.1,438.10) scale(1,1.035)" font-family="Liberation Sans, sans-serif" stroke="#000" stroke-width="0.3" font-size="15.6">5</text>
<g transform="translate(0,523.05) scale(1,1.035)">
<path d="M583,0 L763,0 L763,1466 L646,1466 Q560,1270 223,1090 L223,870 Q470,990 583,1150 Z" stroke="#000" stroke-width="0.3" vector-effect="non-scaling-stroke" transform="translate(59.71,0) scale(0.01392,-0.01392)"/>
<text x="75.56" y="0" font-family="Liberation Sans, sans-serif" stroke="#000" stroke-width="0.3" font-size="28.5">x</text>
<path d="M583,0 L763,0 L763,1466 L646,1466 Q560,1270 223,1090 L223,870 Q470,990 583,1150 Z" stroke="#000" stroke-width="0.3" vector-effect="non-scaling-stroke" transform="translate(89.81,0) scale(0.01392,-0.01392)"/>
<text x="105.65" y="0" font-family="Liberation Sans, sans-serif" stroke="#000" stroke-width="0.3" font-size="28.5">0</text>
</g>
<text transform="translate(122.1,509.15) scale(1,1.035)" font-family="Liberation Sans, sans-serif" stroke="#000" stroke-width="0.3" font-size="15.6">5</text>
<g transform="translate(0,594.10) scale(1,1.035)">
<path d="M583,0 L763,0 L763,1466 L646,1466 Q560,1270 223,1090 L223,870 Q470,990 583,1150 Z" stroke="#000" stroke-width="0.3" vector-effect="non-scaling-stroke" transform="translate(59.71,0) scale(0.01392,-0.01392)"/>
<text x="75.56" y="0" font-family="Liberation Sans, sans-serif" stroke="#000" stroke-width="0.3" font-size="28.5">x</text>
<path d="M583,0 L763,0 L763,1466 L646,1466 Q560,1270 223,1090 L223,870 Q470,990 583,1150 Z" stroke="#000" stroke-width="0.3" vector-effect="non-scaling-stroke" transform="translate(89.81,0) scale(0.01392,-0.01392)"/>
<text x="105.65" y="0" font-family="Liberation Sans, sans-serif" stroke="#000" stroke-width="0.3" font-size="28.5">0</text>
</g>
<text transform="translate(122.1,580.20) scale(1,1.035)" font-family="Liberation Sans, sans-serif" stroke="#000" stroke-width="0.3" font-size="15.6">5</text>
<g transform="translate(0,665.15) scale(1,1.035)">
<text x="59.71" y="0" font-family="Liberation Sans, sans-serif" stroke="#000" stroke-width="0.3" font-size="28.5">9x</text>
<path d="M583,0 L763,0 L763,1466 L646,1466 Q560,1270 223,1090 L223,870 Q470,990 583,1150 Z" stroke="#000" stroke-width="0.3" vector-effect="non-scaling-stroke" transform="translate(89.81,0) scale(0.01392,-0.01392)"/>
<text x="105.65" y="0" font-family="Liberation Sans, sans-serif" stroke="#000" stroke-width="0.3" font-size="28.5">0</text>
</g>
<text transform="translate(122.1,651.25) scale(1,1.035)" font-family="Liberation Sans, sans-serif" stroke="#000" stroke-width="0.3" font-size="15.6">4</text>
<text transform="translate(154.00,735.5) scale(1,1.05)" font-family="Liberation Sans, sans-serif" stroke="#000" stroke-width="0.3" font-size="28.5" text-anchor="middle">20</text>
<text transform="translate(237.15,735.5) scale(1,1.05)" font-family="Liberation Sans, sans-serif" stroke="#000" stroke-width="0.3" font-size="28.5" text-anchor="middle">25</text>
<text transform="translate(320.30,735.5) scale(1,1.05)" font-family="Liberation Sans, sans-serif" stroke="#000" stroke-width="0.3" font-size="28.5" text-anchor="middle">30</text>
<text transform="translate(403.45,735.5) scale(1,1.05)" font-family="Liberation Sans, sans-serif" stroke="#000" stroke-width="0.3" font-size="28.5" text-anchor="middle">35</text>
<text transform="translate(486.60,735.5) scale(1,1.05)" font-family="Liberation Sans, sans-serif" stroke="#000" stroke-width="0.3" font-size="28.5" text-anchor="middle">40</text>
<text transform="translate(569.75,735.5) scale(1,1.05)" font-family="Liberation Sans, sans-serif" stroke="#000" stroke-width="0.3" font-size="28.5" text-anchor="middle">45</text>
<text transform="translate(652.90,735.5) scale(1,1.05)" font-family="Liberation Sans, sans-serif" stroke="#000" stroke-width="0.3" font-size="28.5" text-anchor="middle">50</text>
<text transform="translate(736.05,735.5) scale(1,1.05)" font-family="Liberation Sans, sans-serif" stroke="#000" stroke-width="0.3" font-size="28.5" text-anchor="middle">55</text>
<text transform="translate(819.20,735.5) scale(1,1.05)" font-family="Liberation Sans, sans-serif" stroke="#000" stroke-width="0.3" font-size="28.5" text-anchor="middle">60</text>
<text transform="translate(902.35,735.5) scale(1,1.05)" font-family="Liberation Sans, sans-serif" stroke="#000" stroke-width="0.3" font-size="28.5" text-anchor="middle">65</text>
<text transform="translate(985.50,735.5) scale(1,1.05)" font-family="Liberation Sans, sans-serif" stroke="#000" stroke-width="0.3" font-size="28.5" text-anchor="middle">70</text>
<text transform="translate(30.2,461.0) rotate(-90)" font-family="Liberation Serif, serif" font-weight="bold" font-size="44.75">Intensity (a.u)</text>
<text x="409.7" y="800.7" font-family="Liberation Serif, serif" font-weight="bold" font-size="44.5">2Theta</text>
<text transform="translate(556.2,799.3) scale(1,1.04)" font-family="Liberation Serif, serif" font-size="34">(</text>
<text transform="translate(579,800.6) scale(1.022,1)" font-family="Liberation Serif, serif" font-weight="bold" font-size="44.5">degree</text>
<text transform="translate(717.4,799.3) scale(1,1.04)" font-family="Liberation Serif, serif" font-size="34">)</text>
<text x="154.75" y="56.9" font-family="Liberation Serif, serif" font-weight="bold" font-size="37.5">Zn</text>
<text x="201.35" y="68.5" font-family="Liberation Serif, serif" font-size="31.5">0.5</text>
<text x="240.0" y="56.9" font-family="Liberation Serif, serif" font-weight="bold" font-size="37.5">Mg</text>
<text x="297.75" y="68.5" font-family="Liberation Serif, serif" font-size="31.5">0.5-X</text>
<text x="370.6" y="56.9" font-family="Liberation Serif, serif" font-weight="bold" font-size="37.5">Ni</text>
<text x="408.6" y="68.5" font-family="Liberation Serif, serif" font-size="31.5">X</text>
<text x="432.0" y="56.9" font-family="Liberation Serif, serif" font-weight="bold" font-size="37.5">Fe</text>
<text x="472.2" y="68.5" font-family="Liberation Serif, serif" font-size="31.5">2</text>
<text x="488.65" y="56.9" font-family="Liberation Serif, serif" font-weight="bold" font-size="37.5">O</text>
<text x="516.8" y="68.5" font-family="Liberation Serif, serif" font-size="31.5">4</text>
<text x="171.5" y="145.8" font-family="Liberation Serif, serif" font-weight="bold" font-size="35">X</text>
<rect x="198.60" y="130.10" width="18.5" height="2.2"/>
<rect x="198.60" y="135.20" width="18.5" height="2.3"/>
<text x="217.80" y="145.8" font-family="Liberation Serif, serif" font-weight="bold" font-size="35">0.4</text>
<text x="176.2" y="235.8" font-family="Liberation Serif, serif" font-weight="bold" font-size="35">X</text>
<rect x="203.30" y="220.10" width="18.5" height="2.2"/>
<rect x="203.30" y="225.20" width="18.5" height="2.3"/>
<text x="222.50" y="235.8" font-family="Liberation Serif, serif" font-weight="bold" font-size="35">0.3</text>
<text x="176.2" y="339.6" font-family="Liberation Serif, serif" font-weight="bold" font-size="35">X</text>
<rect x="203.30" y="323.90" width="18.5" height="2.2"/>
<rect x="203.30" y="329.00" width="18.5" height="2.3"/>
<text x="222.50" y="339.6" font-family="Liberation Serif, serif" font-weight="bold" font-size="35">0.2</text>
<text x="177.6" y="472.6" font-family="Liberation Serif, serif" font-weight="bold" font-size="35">X</text>
<rect x="204.70" y="456.90" width="18.5" height="2.2"/>
<rect x="204.70" y="462.00" width="18.5" height="2.3"/>
<text x="223.90" y="472.6" font-family="Liberation Serif, serif" font-weight="bold" font-size="35">0.1</text>
<text x="181.3" y="663.6" font-family="Liberation Serif, serif" font-weight="bold" font-size="35">X</text>
<rect x="208.40" y="647.90" width="18.5" height="2.2"/>
<rect x="208.40" y="653.00" width="18.5" height="2.3"/>
<text x="227.60" y="663.6" font-family="Liberation Serif, serif" font-weight="bold" font-size="35">0.0</text>
<text x="306.9" y="603.5" font-family="Liberation Serif, serif" font-weight="bold" font-size="35.3">220</text>
<text x="430.8" y="519.5" font-family="Liberation Serif, serif" font-weight="bold" font-size="35.3">311</text>
<text x="522.2" y="607.0" font-family="Liberation Serif, serif" font-weight="bold" font-size="35.3">400</text>
<text x="686.2" y="630.3" font-family="Liberation Serif, serif" font-weight="bold" font-size="35.3">422</text>
<text x="746.1" y="563.6" font-family="Liberation Serif, serif" font-weight="bold" font-size="35.3">511</text>
<text x="837.7" y="523.8" font-family="Liberation Serif, serif" font-weight="bold" font-size="35.3">440</text>
</svg>
</body></html>
